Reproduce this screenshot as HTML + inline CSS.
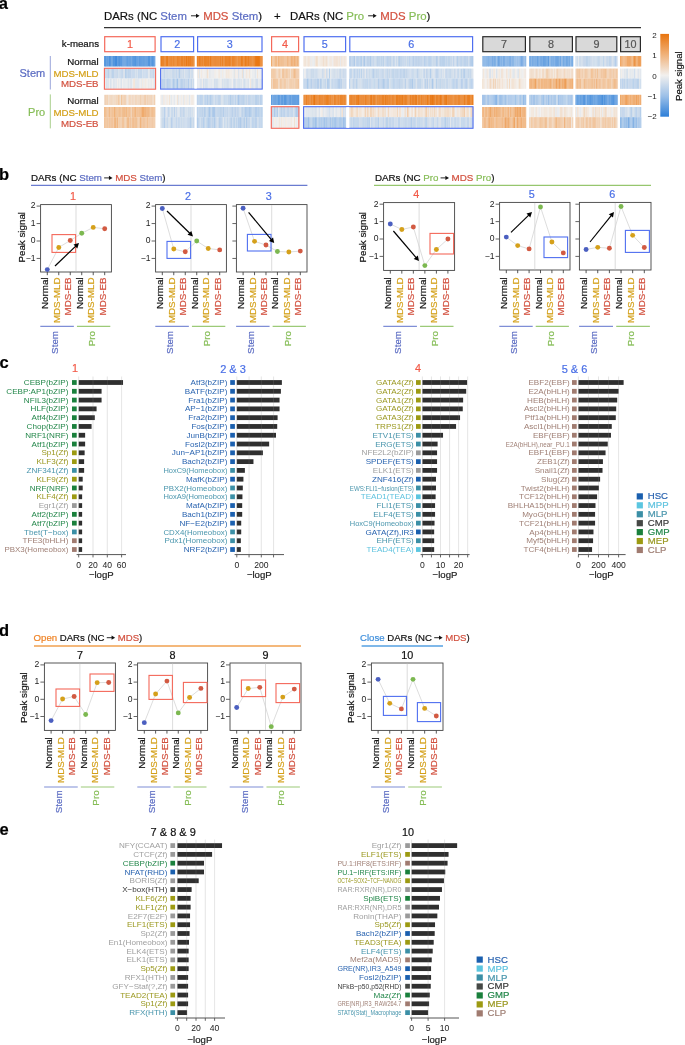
<!DOCTYPE html><html><head><meta charset="utf-8"><title>Figure</title><style>html,body{margin:0;padding:0;background:#fff;}body{width:685px;height:1045px;overflow:hidden;}svg{display:block;will-change:transform;}text{font-family:"Liberation Sans",sans-serif;}</style></head><body><svg width="685" height="1045" viewBox="0 0 685 1045" font-family="'Liberation Sans', sans-serif" shape-rendering="auto"><text x="-1.20" y="8.80" font-size="16.5" font-weight="bold" fill="#000" stroke="#000" stroke-width="0.2">a</text>
<text x="104.00" y="19.60" font-size="11.4"><tspan fill="#111" stroke="#111" stroke-width="0.2">DARs (NC </tspan><tspan fill="#5a6bc2" stroke="#5a6bc2" stroke-width="0.2">Stem</tspan></text>
<line x1="190.97" y1="15.80" x2="196.37" y2="15.80" stroke="#111" stroke-width="0.9"/>
<polygon points="199.57,15.80 195.97,13.70 195.97,17.90" fill="#111"/>
<text x="203.17" y="19.60" font-size="11.4"><tspan fill="#d2503e" stroke="#d2503e" stroke-width="0.2">MDS </tspan><tspan fill="#5a6bc2" stroke="#5a6bc2" stroke-width="0.2">Stem</tspan><tspan fill="#111" stroke="#111" stroke-width="0.2">)</tspan></text>
<text x="290.00" y="19.60" font-size="11.4"><tspan fill="#111" stroke="#111" stroke-width="0.2">DARs (NC </tspan><tspan fill="#86bd57" stroke="#86bd57" stroke-width="0.2">Pro</tspan></text>
<line x1="368.11" y1="15.80" x2="373.51" y2="15.80" stroke="#111" stroke-width="0.9"/>
<polygon points="376.71,15.80 373.11,13.70 373.11,17.90" fill="#111"/>
<text x="380.31" y="19.60" font-size="11.4"><tspan fill="#d2503e" stroke="#d2503e" stroke-width="0.2">MDS </tspan><tspan fill="#86bd57" stroke="#86bd57" stroke-width="0.2">Pro</tspan><tspan fill="#111" stroke="#111" stroke-width="0.2">)</tspan></text>
<text x="274.00" y="19.60" font-size="11.4" fill="#111" stroke="#111" stroke-width="0.2">+</text>
<line x1="104.00" y1="27.60" x2="641.00" y2="27.60" stroke="#333" stroke-width="1.1"/>
<text x="99.00" y="46.60" font-size="9.7" text-anchor="end" fill="#111" stroke="#111" stroke-width="0.2">k-means</text>
<rect x="104.70" y="36.70" width="50.40" height="15.00" fill="none" stroke="#f4685a" stroke-width="1.2"/>
<text x="129.90" y="48.20" font-size="10.8" text-anchor="middle" fill="#f25a48" stroke="#f25a48" stroke-width="0.2">1</text>
<rect x="161.00" y="36.70" width="32.60" height="15.00" fill="none" stroke="#4f6ff0" stroke-width="1.2"/>
<text x="177.30" y="48.20" font-size="10.8" text-anchor="middle" fill="#4a6fe6" stroke="#4a6fe6" stroke-width="0.2">2</text>
<rect x="197.60" y="36.70" width="64.40" height="15.00" fill="none" stroke="#4f6ff0" stroke-width="1.2"/>
<text x="229.80" y="48.20" font-size="10.8" text-anchor="middle" fill="#4a6fe6" stroke="#4a6fe6" stroke-width="0.2">3</text>
<rect x="271.60" y="36.70" width="27.00" height="15.00" fill="none" stroke="#f4685a" stroke-width="1.2"/>
<text x="285.10" y="48.20" font-size="10.8" text-anchor="middle" fill="#f25a48" stroke="#f25a48" stroke-width="0.2">4</text>
<rect x="304.00" y="36.70" width="41.60" height="15.00" fill="none" stroke="#4f6ff0" stroke-width="1.2"/>
<text x="324.80" y="48.20" font-size="10.8" text-anchor="middle" fill="#4a6fe6" stroke="#4a6fe6" stroke-width="0.2">5</text>
<rect x="349.80" y="36.70" width="122.80" height="15.00" fill="none" stroke="#4f6ff0" stroke-width="1.2"/>
<text x="411.20" y="48.20" font-size="10.8" text-anchor="middle" fill="#4a6fe6" stroke="#4a6fe6" stroke-width="0.2">6</text>
<rect x="482.80" y="36.70" width="42.60" height="15.00" fill="#d9d9d9" stroke="#2a2a2a" stroke-width="1.2"/>
<text x="504.10" y="48.20" font-size="10.8" text-anchor="middle" fill="#555" stroke="#555" stroke-width="0.2">7</text>
<rect x="529.80" y="36.70" width="42.60" height="15.00" fill="#d9d9d9" stroke="#2a2a2a" stroke-width="1.2"/>
<text x="551.10" y="48.20" font-size="10.8" text-anchor="middle" fill="#555" stroke="#555" stroke-width="0.2">8</text>
<rect x="576.00" y="36.70" width="40.80" height="15.00" fill="#d9d9d9" stroke="#2a2a2a" stroke-width="1.2"/>
<text x="596.40" y="48.20" font-size="10.8" text-anchor="middle" fill="#555" stroke="#555" stroke-width="0.2">9</text>
<rect x="620.60" y="36.70" width="19.80" height="15.00" fill="#d9d9d9" stroke="#2a2a2a" stroke-width="1.2"/>
<text x="630.50" y="48.20" font-size="10.8" text-anchor="middle" fill="#555" stroke="#555" stroke-width="0.2">10</text>
<rect x="104.00" y="56" width="1.25" height="10.50" fill="#5d9bdf"/>
<rect x="105.00" y="56" width="0.95" height="10.50" fill="#5295dd"/>
<rect x="105.70" y="56" width="0.95" height="10.50" fill="#5797de"/>
<rect x="106.40" y="56" width="1.45" height="10.50" fill="#5194dd"/>
<rect x="107.60" y="56" width="0.95" height="10.50" fill="#5a99df"/>
<rect x="108.30" y="56" width="0.95" height="10.50" fill="#5294dd"/>
<rect x="109.00" y="56" width="1.25" height="10.50" fill="#4f93dd"/>
<rect x="110.00" y="56" width="1.45" height="10.50" fill="#5898de"/>
<rect x="111.20" y="56" width="1.25" height="10.50" fill="#609ddf"/>
<rect x="112.20" y="56" width="1.15" height="10.50" fill="#5999de"/>
<rect x="113.10" y="56" width="1.75" height="10.50" fill="#468edc"/>
<rect x="114.60" y="56" width="1.45" height="10.50" fill="#458ddc"/>
<rect x="115.80" y="56" width="1.45" height="10.50" fill="#428bdb"/>
<rect x="117.00" y="56" width="0.95" height="10.50" fill="#649fe0"/>
<rect x="117.70" y="56" width="1.45" height="10.50" fill="#5a99de"/>
<rect x="118.90" y="56" width="1.15" height="10.50" fill="#4f93dd"/>
<rect x="119.80" y="56" width="1.45" height="10.50" fill="#5b9adf"/>
<rect x="121.00" y="56" width="1.75" height="10.50" fill="#5a99df"/>
<rect x="122.50" y="56" width="1.15" height="10.50" fill="#5e9cdf"/>
<rect x="123.40" y="56" width="1.15" height="10.50" fill="#5c9adf"/>
<rect x="124.30" y="56" width="1.25" height="10.50" fill="#609ddf"/>
<rect x="125.30" y="56" width="1.45" height="10.50" fill="#5d9bdf"/>
<rect x="126.50" y="56" width="0.95" height="10.50" fill="#4d92dd"/>
<rect x="127.20" y="56" width="1.45" height="10.50" fill="#4e92dd"/>
<rect x="128.40" y="56" width="1.25" height="10.50" fill="#5797de"/>
<rect x="129.40" y="56" width="1.25" height="10.50" fill="#4b91dc"/>
<rect x="130.40" y="56" width="1.25" height="10.50" fill="#5094dd"/>
<rect x="131.40" y="56" width="1.75" height="10.50" fill="#649fe0"/>
<rect x="132.90" y="56" width="1.15" height="10.50" fill="#5b9adf"/>
<rect x="133.80" y="56" width="1.25" height="10.50" fill="#5999de"/>
<rect x="134.80" y="56" width="1.25" height="10.50" fill="#5496de"/>
<rect x="135.80" y="56" width="0.95" height="10.50" fill="#4e92dd"/>
<rect x="136.50" y="56" width="0.95" height="10.50" fill="#5093dd"/>
<rect x="137.20" y="56" width="1.25" height="10.50" fill="#5596de"/>
<rect x="138.20" y="56" width="1.15" height="10.50" fill="#5d9bdf"/>
<rect x="139.10" y="56" width="1.75" height="10.50" fill="#5194dd"/>
<rect x="140.60" y="56" width="0.95" height="10.50" fill="#5697de"/>
<rect x="141.30" y="56" width="1.25" height="10.50" fill="#4990dc"/>
<rect x="142.30" y="56" width="1.25" height="10.50" fill="#5194dd"/>
<rect x="143.30" y="56" width="1.45" height="10.50" fill="#4a90dc"/>
<rect x="144.50" y="56" width="1.25" height="10.50" fill="#5998de"/>
<rect x="145.50" y="56" width="1.25" height="10.50" fill="#5797de"/>
<rect x="146.50" y="56" width="1.25" height="10.50" fill="#5496de"/>
<rect x="147.50" y="56" width="1.75" height="10.50" fill="#5295dd"/>
<rect x="149.00" y="56" width="1.75" height="10.50" fill="#5194dd"/>
<rect x="150.50" y="56" width="1.75" height="10.50" fill="#609ddf"/>
<rect x="152.00" y="56" width="1.25" height="10.50" fill="#5395dd"/>
<rect x="153.00" y="56" width="1.75" height="10.50" fill="#5e9bdf"/>
<rect x="154.50" y="56" width="0.85" height="10.50" fill="#5f9cdf"/>
<rect x="104.00" y="68.6" width="1.15" height="10.00" fill="#c9d9eb"/>
<rect x="104.90" y="68.6" width="1.45" height="10.00" fill="#cadaeb"/>
<rect x="106.10" y="68.6" width="1.25" height="10.00" fill="#cadaeb"/>
<rect x="107.10" y="68.6" width="1.15" height="10.00" fill="#c6d8eb"/>
<rect x="108.00" y="68.6" width="1.25" height="10.00" fill="#bbd1ea"/>
<rect x="109.00" y="68.6" width="0.95" height="10.00" fill="#cddbeb"/>
<rect x="109.70" y="68.6" width="1.25" height="10.00" fill="#d2deec"/>
<rect x="110.70" y="68.6" width="1.15" height="10.00" fill="#d1deec"/>
<rect x="111.60" y="68.6" width="1.25" height="10.00" fill="#b1cce9"/>
<rect x="112.60" y="68.6" width="1.75" height="10.00" fill="#bdd3ea"/>
<rect x="114.10" y="68.6" width="1.25" height="10.00" fill="#cddbeb"/>
<rect x="115.10" y="68.6" width="1.15" height="10.00" fill="#cbdaeb"/>
<rect x="116.00" y="68.6" width="1.15" height="10.00" fill="#cddbeb"/>
<rect x="116.90" y="68.6" width="1.75" height="10.00" fill="#c8d9eb"/>
<rect x="118.40" y="68.6" width="1.45" height="10.00" fill="#d5e0ec"/>
<rect x="119.60" y="68.6" width="1.15" height="10.00" fill="#c7d8eb"/>
<rect x="120.50" y="68.6" width="1.25" height="10.00" fill="#c8d9eb"/>
<rect x="121.50" y="68.6" width="1.45" height="10.00" fill="#bcd2ea"/>
<rect x="122.70" y="68.6" width="1.15" height="10.00" fill="#d2deec"/>
<rect x="123.60" y="68.6" width="1.75" height="10.00" fill="#dae2ec"/>
<rect x="125.10" y="68.6" width="1.75" height="10.00" fill="#b0cbe9"/>
<rect x="126.60" y="68.6" width="1.75" height="10.00" fill="#c6d8eb"/>
<rect x="128.10" y="68.6" width="1.75" height="10.00" fill="#bad1ea"/>
<rect x="129.60" y="68.6" width="1.45" height="10.00" fill="#bed3ea"/>
<rect x="130.80" y="68.6" width="0.95" height="10.00" fill="#cfdcec"/>
<rect x="131.50" y="68.6" width="1.25" height="10.00" fill="#c4d6eb"/>
<rect x="132.50" y="68.6" width="0.95" height="10.00" fill="#c4d6eb"/>
<rect x="133.20" y="68.6" width="1.15" height="10.00" fill="#c2d5eb"/>
<rect x="134.10" y="68.6" width="1.45" height="10.00" fill="#c9d9eb"/>
<rect x="135.30" y="68.6" width="0.95" height="10.00" fill="#d3dfec"/>
<rect x="136.00" y="68.6" width="1.45" height="10.00" fill="#d0ddec"/>
<rect x="137.20" y="68.6" width="0.95" height="10.00" fill="#d7e1ec"/>
<rect x="137.90" y="68.6" width="0.95" height="10.00" fill="#c2d5eb"/>
<rect x="138.60" y="68.6" width="1.15" height="10.00" fill="#c2d5eb"/>
<rect x="139.50" y="68.6" width="1.25" height="10.00" fill="#c3d5eb"/>
<rect x="140.50" y="68.6" width="1.25" height="10.00" fill="#bcd2ea"/>
<rect x="141.50" y="68.6" width="0.95" height="10.00" fill="#bfd3ea"/>
<rect x="142.20" y="68.6" width="1.25" height="10.00" fill="#d4e0ec"/>
<rect x="143.20" y="68.6" width="1.25" height="10.00" fill="#c6d8eb"/>
<rect x="144.20" y="68.6" width="1.25" height="10.00" fill="#ccdbeb"/>
<rect x="145.20" y="68.6" width="1.25" height="10.00" fill="#cadaeb"/>
<rect x="146.20" y="68.6" width="1.75" height="10.00" fill="#c5d7eb"/>
<rect x="147.70" y="68.6" width="1.15" height="10.00" fill="#dee5ed"/>
<rect x="148.60" y="68.6" width="1.45" height="10.00" fill="#e4e8ed"/>
<rect x="149.80" y="68.6" width="1.45" height="10.00" fill="#cbdaeb"/>
<rect x="151.00" y="68.6" width="1.25" height="10.00" fill="#d0ddec"/>
<rect x="152.00" y="68.6" width="0.95" height="10.00" fill="#d3dfec"/>
<rect x="152.70" y="68.6" width="1.45" height="10.00" fill="#c2d5eb"/>
<rect x="153.90" y="68.6" width="0.95" height="10.00" fill="#d7e1ec"/>
<rect x="154.60" y="68.6" width="0.75" height="10.00" fill="#cfddec"/>
<rect x="104.00" y="78.6" width="1.15" height="10.20" fill="#dde4ed"/>
<rect x="104.90" y="78.6" width="1.25" height="10.20" fill="#ebecee"/>
<rect x="105.90" y="78.6" width="1.45" height="10.20" fill="#dbe3ec"/>
<rect x="107.10" y="78.6" width="1.25" height="10.20" fill="#dfe5ed"/>
<rect x="108.10" y="78.6" width="1.15" height="10.20" fill="#dde4ed"/>
<rect x="109.00" y="78.6" width="1.15" height="10.20" fill="#f2f0ee"/>
<rect x="109.90" y="78.6" width="1.15" height="10.20" fill="#d7e1ec"/>
<rect x="110.80" y="78.6" width="1.15" height="10.20" fill="#dee5ed"/>
<rect x="111.70" y="78.6" width="0.95" height="10.20" fill="#e8ebed"/>
<rect x="112.40" y="78.6" width="0.95" height="10.20" fill="#ededee"/>
<rect x="113.10" y="78.6" width="1.15" height="10.20" fill="#dce4ec"/>
<rect x="114.00" y="78.6" width="1.75" height="10.20" fill="#e1e6ed"/>
<rect x="115.50" y="78.6" width="1.75" height="10.20" fill="#e3e7ed"/>
<rect x="117.00" y="78.6" width="1.25" height="10.20" fill="#f2eeeb"/>
<rect x="118.00" y="78.6" width="1.15" height="10.20" fill="#e6e9ed"/>
<rect x="118.90" y="78.6" width="0.95" height="10.20" fill="#ebeced"/>
<rect x="119.60" y="78.6" width="1.15" height="10.20" fill="#f1f0ee"/>
<rect x="120.50" y="78.6" width="1.25" height="10.20" fill="#d7e1ec"/>
<rect x="121.50" y="78.6" width="0.95" height="10.20" fill="#d7e1ec"/>
<rect x="122.20" y="78.6" width="1.25" height="10.20" fill="#f2efed"/>
<rect x="123.20" y="78.6" width="1.75" height="10.20" fill="#e3e8ed"/>
<rect x="124.70" y="78.6" width="0.95" height="10.20" fill="#ecedee"/>
<rect x="125.40" y="78.6" width="1.25" height="10.20" fill="#e4e8ed"/>
<rect x="126.40" y="78.6" width="1.75" height="10.20" fill="#e9ebed"/>
<rect x="127.90" y="78.6" width="1.15" height="10.20" fill="#dce4ec"/>
<rect x="128.80" y="78.6" width="1.25" height="10.20" fill="#ecedee"/>
<rect x="129.80" y="78.6" width="1.75" height="10.20" fill="#dfe5ed"/>
<rect x="131.30" y="78.6" width="1.25" height="10.20" fill="#d6e0ec"/>
<rect x="132.30" y="78.6" width="0.95" height="10.20" fill="#eeeeee"/>
<rect x="133.00" y="78.6" width="1.75" height="10.20" fill="#f2e7de"/>
<rect x="134.50" y="78.6" width="0.95" height="10.20" fill="#f1dfcf"/>
<rect x="135.20" y="78.6" width="1.15" height="10.20" fill="#dee5ed"/>
<rect x="136.10" y="78.6" width="1.75" height="10.20" fill="#e2e7ed"/>
<rect x="137.60" y="78.6" width="1.15" height="10.20" fill="#dde4ed"/>
<rect x="138.50" y="78.6" width="1.25" height="10.20" fill="#dfe5ed"/>
<rect x="139.50" y="78.6" width="1.75" height="10.20" fill="#f0efee"/>
<rect x="141.00" y="78.6" width="1.45" height="10.20" fill="#e7eaed"/>
<rect x="142.20" y="78.6" width="1.15" height="10.20" fill="#f2e7dd"/>
<rect x="143.10" y="78.6" width="1.75" height="10.20" fill="#ecedee"/>
<rect x="144.60" y="78.6" width="1.75" height="10.20" fill="#f2ebe4"/>
<rect x="146.10" y="78.6" width="1.15" height="10.20" fill="#f2eee9"/>
<rect x="147.00" y="78.6" width="1.25" height="10.20" fill="#f1f0ee"/>
<rect x="148.00" y="78.6" width="1.15" height="10.20" fill="#e9ebed"/>
<rect x="148.90" y="78.6" width="0.95" height="10.20" fill="#e9ebed"/>
<rect x="149.60" y="78.6" width="1.15" height="10.20" fill="#f2efec"/>
<rect x="150.50" y="78.6" width="1.45" height="10.20" fill="#e2e7ed"/>
<rect x="151.70" y="78.6" width="1.15" height="10.20" fill="#f2ede8"/>
<rect x="152.60" y="78.6" width="0.95" height="10.20" fill="#f2efed"/>
<rect x="153.30" y="78.6" width="1.25" height="10.20" fill="#e3e8ed"/>
<rect x="154.30" y="78.6" width="1.05" height="10.20" fill="#d3dfec"/>
<rect x="104.00" y="94.8" width="1.25" height="10.20" fill="#f1decd"/>
<rect x="105.00" y="94.8" width="1.45" height="10.20" fill="#f1d1b5"/>
<rect x="106.20" y="94.8" width="1.45" height="10.20" fill="#f1d1b4"/>
<rect x="107.40" y="94.8" width="0.95" height="10.20" fill="#f1caa7"/>
<rect x="108.10" y="94.8" width="1.45" height="10.20" fill="#f1dfcf"/>
<rect x="109.30" y="94.8" width="0.95" height="10.20" fill="#f1d4b9"/>
<rect x="110.00" y="94.8" width="1.15" height="10.20" fill="#f1dac4"/>
<rect x="110.90" y="94.8" width="1.25" height="10.20" fill="#f1d8c1"/>
<rect x="111.90" y="94.8" width="0.95" height="10.20" fill="#f1d8c1"/>
<rect x="112.60" y="94.8" width="1.25" height="10.20" fill="#f1d9c3"/>
<rect x="113.60" y="94.8" width="1.25" height="10.20" fill="#f1decd"/>
<rect x="114.60" y="94.8" width="0.95" height="10.20" fill="#f1d3b7"/>
<rect x="115.30" y="94.8" width="1.15" height="10.20" fill="#f1d7bf"/>
<rect x="116.20" y="94.8" width="1.25" height="10.20" fill="#f1d1b4"/>
<rect x="117.20" y="94.8" width="1.25" height="10.20" fill="#f1d4b9"/>
<rect x="118.20" y="94.8" width="1.45" height="10.20" fill="#f1c399"/>
<rect x="119.40" y="94.8" width="0.95" height="10.20" fill="#f1d2b5"/>
<rect x="120.10" y="94.8" width="1.25" height="10.20" fill="#f1dfcf"/>
<rect x="121.10" y="94.8" width="1.45" height="10.20" fill="#f0c094"/>
<rect x="122.30" y="94.8" width="1.45" height="10.20" fill="#f1d3b7"/>
<rect x="123.50" y="94.8" width="1.45" height="10.20" fill="#f1ceaf"/>
<rect x="124.70" y="94.8" width="1.45" height="10.20" fill="#f1d1b4"/>
<rect x="125.90" y="94.8" width="1.15" height="10.20" fill="#f1decd"/>
<rect x="126.80" y="94.8" width="1.75" height="10.20" fill="#f2e6dc"/>
<rect x="128.30" y="94.8" width="1.25" height="10.20" fill="#f1d7c0"/>
<rect x="129.30" y="94.8" width="1.45" height="10.20" fill="#f1d0b2"/>
<rect x="130.50" y="94.8" width="1.25" height="10.20" fill="#f1d8c2"/>
<rect x="131.50" y="94.8" width="1.15" height="10.20" fill="#f1dcc9"/>
<rect x="132.40" y="94.8" width="1.25" height="10.20" fill="#f1d0b3"/>
<rect x="133.40" y="94.8" width="0.95" height="10.20" fill="#f1d9c3"/>
<rect x="134.10" y="94.8" width="1.15" height="10.20" fill="#f1ddca"/>
<rect x="135.00" y="94.8" width="1.75" height="10.20" fill="#f1d6be"/>
<rect x="136.50" y="94.8" width="1.15" height="10.20" fill="#f1d1b3"/>
<rect x="137.40" y="94.8" width="1.75" height="10.20" fill="#f1dac5"/>
<rect x="138.90" y="94.8" width="1.25" height="10.20" fill="#f1dbc7"/>
<rect x="139.90" y="94.8" width="1.15" height="10.20" fill="#f1cfb0"/>
<rect x="140.80" y="94.8" width="0.95" height="10.20" fill="#f1d6bd"/>
<rect x="141.50" y="94.8" width="1.25" height="10.20" fill="#f1d1b4"/>
<rect x="142.50" y="94.8" width="1.75" height="10.20" fill="#f1d8c1"/>
<rect x="144.00" y="94.8" width="1.15" height="10.20" fill="#f1d0b2"/>
<rect x="144.90" y="94.8" width="1.45" height="10.20" fill="#f1cdac"/>
<rect x="146.10" y="94.8" width="1.25" height="10.20" fill="#f1d8c1"/>
<rect x="147.10" y="94.8" width="1.25" height="10.20" fill="#f1d0b2"/>
<rect x="148.10" y="94.8" width="0.95" height="10.20" fill="#f1d5bc"/>
<rect x="148.80" y="94.8" width="1.45" height="10.20" fill="#f1d6be"/>
<rect x="150.00" y="94.8" width="1.25" height="10.20" fill="#f1d6be"/>
<rect x="151.00" y="94.8" width="1.25" height="10.20" fill="#f1d4ba"/>
<rect x="152.00" y="94.8" width="1.45" height="10.20" fill="#f1dcc9"/>
<rect x="153.20" y="94.8" width="0.95" height="10.20" fill="#f1dcc9"/>
<rect x="153.90" y="94.8" width="0.95" height="10.20" fill="#f1c59e"/>
<rect x="154.60" y="94.8" width="0.75" height="10.20" fill="#f1d6be"/>
<rect x="104.00" y="107" width="0.95" height="10.20" fill="#f0bc8c"/>
<rect x="104.70" y="107" width="1.15" height="10.20" fill="#f0b987"/>
<rect x="105.60" y="107" width="1.25" height="10.20" fill="#f0bb8a"/>
<rect x="106.60" y="107" width="1.75" height="10.20" fill="#f1cba9"/>
<rect x="108.10" y="107" width="1.25" height="10.20" fill="#f1c49c"/>
<rect x="109.10" y="107" width="1.45" height="10.20" fill="#f0b580"/>
<rect x="110.30" y="107" width="1.45" height="10.20" fill="#f1c39a"/>
<rect x="111.50" y="107" width="1.25" height="10.20" fill="#f0bb8b"/>
<rect x="112.50" y="107" width="0.95" height="10.20" fill="#f0ba88"/>
<rect x="113.20" y="107" width="0.95" height="10.20" fill="#f0c195"/>
<rect x="113.90" y="107" width="1.25" height="10.20" fill="#f0b076"/>
<rect x="114.90" y="107" width="1.25" height="10.20" fill="#f0c094"/>
<rect x="115.90" y="107" width="0.95" height="10.20" fill="#f0c094"/>
<rect x="116.60" y="107" width="1.25" height="10.20" fill="#f0bf93"/>
<rect x="117.60" y="107" width="0.95" height="10.20" fill="#f1c39a"/>
<rect x="118.30" y="107" width="1.45" height="10.20" fill="#f0b987"/>
<rect x="119.50" y="107" width="1.25" height="10.20" fill="#f0b580"/>
<rect x="120.50" y="107" width="1.15" height="10.20" fill="#f0be91"/>
<rect x="121.40" y="107" width="0.95" height="10.20" fill="#f1c297"/>
<rect x="122.10" y="107" width="0.95" height="10.20" fill="#f0bc8d"/>
<rect x="122.80" y="107" width="1.15" height="10.20" fill="#f0bc8c"/>
<rect x="123.70" y="107" width="1.25" height="10.20" fill="#f0b681"/>
<rect x="124.70" y="107" width="1.75" height="10.20" fill="#f0c095"/>
<rect x="126.20" y="107" width="1.25" height="10.20" fill="#efae72"/>
<rect x="127.20" y="107" width="1.25" height="10.20" fill="#f0c196"/>
<rect x="128.20" y="107" width="1.25" height="10.20" fill="#f0bb8b"/>
<rect x="129.20" y="107" width="0.95" height="10.20" fill="#f0b987"/>
<rect x="129.90" y="107" width="0.95" height="10.20" fill="#f0bb8c"/>
<rect x="130.60" y="107" width="1.75" height="10.20" fill="#f1d3b8"/>
<rect x="132.10" y="107" width="1.45" height="10.20" fill="#f0bc8d"/>
<rect x="133.30" y="107" width="1.25" height="10.20" fill="#f0bb8b"/>
<rect x="134.30" y="107" width="1.75" height="10.20" fill="#f0b27a"/>
<rect x="135.80" y="107" width="1.75" height="10.20" fill="#f1c59d"/>
<rect x="137.30" y="107" width="1.25" height="10.20" fill="#f0b784"/>
<rect x="138.30" y="107" width="1.45" height="10.20" fill="#f0bd8f"/>
<rect x="139.50" y="107" width="1.15" height="10.20" fill="#f0b681"/>
<rect x="140.40" y="107" width="1.25" height="10.20" fill="#f0b681"/>
<rect x="141.40" y="107" width="1.75" height="10.20" fill="#efaa6d"/>
<rect x="142.90" y="107" width="1.75" height="10.20" fill="#efab6d"/>
<rect x="144.40" y="107" width="0.95" height="10.20" fill="#efa767"/>
<rect x="145.10" y="107" width="1.15" height="10.20" fill="#f0af75"/>
<rect x="146.00" y="107" width="1.25" height="10.20" fill="#f0ba89"/>
<rect x="147.00" y="107" width="1.25" height="10.20" fill="#f0b988"/>
<rect x="148.00" y="107" width="1.25" height="10.20" fill="#f0b886"/>
<rect x="149.00" y="107" width="1.45" height="10.20" fill="#f0bf92"/>
<rect x="150.20" y="107" width="1.15" height="10.20" fill="#f1c297"/>
<rect x="151.10" y="107" width="1.75" height="10.20" fill="#f0be90"/>
<rect x="152.60" y="107" width="1.15" height="10.20" fill="#f0b27a"/>
<rect x="153.50" y="107" width="1.25" height="10.20" fill="#f1c297"/>
<rect x="154.50" y="107" width="0.85" height="10.20" fill="#f0b987"/>
<rect x="104.00" y="117.2" width="1.45" height="10.80" fill="#f1c49c"/>
<rect x="105.20" y="117.2" width="1.25" height="10.80" fill="#f0c197"/>
<rect x="106.20" y="117.2" width="1.15" height="10.80" fill="#f1c49b"/>
<rect x="107.10" y="117.2" width="1.25" height="10.80" fill="#f1c39a"/>
<rect x="108.10" y="117.2" width="0.95" height="10.80" fill="#f1cdad"/>
<rect x="108.80" y="117.2" width="1.15" height="10.80" fill="#f1c297"/>
<rect x="109.70" y="117.2" width="1.15" height="10.80" fill="#f1c49c"/>
<rect x="110.60" y="117.2" width="1.25" height="10.80" fill="#f1c39b"/>
<rect x="111.60" y="117.2" width="0.95" height="10.80" fill="#f0bc8d"/>
<rect x="112.30" y="117.2" width="1.25" height="10.80" fill="#f0ba8a"/>
<rect x="113.30" y="117.2" width="0.95" height="10.80" fill="#f1c7a2"/>
<rect x="114.00" y="117.2" width="0.95" height="10.80" fill="#f0b885"/>
<rect x="114.70" y="117.2" width="1.45" height="10.80" fill="#f0b37c"/>
<rect x="115.90" y="117.2" width="1.15" height="10.80" fill="#f1c8a3"/>
<rect x="116.80" y="117.2" width="1.75" height="10.80" fill="#f0b784"/>
<rect x="118.30" y="117.2" width="1.45" height="10.80" fill="#f1cdac"/>
<rect x="119.50" y="117.2" width="1.25" height="10.80" fill="#f1c298"/>
<rect x="120.50" y="117.2" width="1.25" height="10.80" fill="#f1d1b4"/>
<rect x="121.50" y="117.2" width="1.15" height="10.80" fill="#f1c69f"/>
<rect x="122.40" y="117.2" width="1.15" height="10.80" fill="#f0b884"/>
<rect x="123.30" y="117.2" width="0.95" height="10.80" fill="#f0bd8f"/>
<rect x="124.00" y="117.2" width="1.45" height="10.80" fill="#f1d0b1"/>
<rect x="125.20" y="117.2" width="1.75" height="10.80" fill="#f1d0b1"/>
<rect x="126.70" y="117.2" width="1.45" height="10.80" fill="#f0be90"/>
<rect x="127.90" y="117.2" width="1.15" height="10.80" fill="#f0b784"/>
<rect x="128.80" y="117.2" width="1.45" height="10.80" fill="#f1cba9"/>
<rect x="130.00" y="117.2" width="0.95" height="10.80" fill="#f0be91"/>
<rect x="130.70" y="117.2" width="1.75" height="10.80" fill="#f1ceae"/>
<rect x="132.20" y="117.2" width="1.75" height="10.80" fill="#f0b784"/>
<rect x="133.70" y="117.2" width="0.95" height="10.80" fill="#f1c7a1"/>
<rect x="134.40" y="117.2" width="0.95" height="10.80" fill="#f0b784"/>
<rect x="135.10" y="117.2" width="0.95" height="10.80" fill="#f0c094"/>
<rect x="135.80" y="117.2" width="1.25" height="10.80" fill="#f0be90"/>
<rect x="136.80" y="117.2" width="1.75" height="10.80" fill="#f1cdac"/>
<rect x="138.30" y="117.2" width="0.95" height="10.80" fill="#f1cdac"/>
<rect x="139.00" y="117.2" width="1.25" height="10.80" fill="#f1cdac"/>
<rect x="140.00" y="117.2" width="1.25" height="10.80" fill="#f0b47d"/>
<rect x="141.00" y="117.2" width="1.75" height="10.80" fill="#f1c39a"/>
<rect x="142.50" y="117.2" width="1.45" height="10.80" fill="#f0c095"/>
<rect x="143.70" y="117.2" width="1.45" height="10.80" fill="#f1c69f"/>
<rect x="144.90" y="117.2" width="0.95" height="10.80" fill="#f1c49b"/>
<rect x="145.60" y="117.2" width="0.95" height="10.80" fill="#f1cdad"/>
<rect x="146.30" y="117.2" width="1.25" height="10.80" fill="#f1c298"/>
<rect x="147.30" y="117.2" width="1.15" height="10.80" fill="#f0b57f"/>
<rect x="148.20" y="117.2" width="1.75" height="10.80" fill="#f1c9a5"/>
<rect x="149.70" y="117.2" width="1.25" height="10.80" fill="#f1cba9"/>
<rect x="150.70" y="117.2" width="0.95" height="10.80" fill="#f1d0b3"/>
<rect x="151.40" y="117.2" width="0.95" height="10.80" fill="#f1c297"/>
<rect x="152.10" y="117.2" width="1.45" height="10.80" fill="#f1c7a2"/>
<rect x="153.30" y="117.2" width="1.45" height="10.80" fill="#f1c8a2"/>
<rect x="154.50" y="117.2" width="0.85" height="10.80" fill="#f1caa6"/>
<rect x="160.40" y="56" width="1.75" height="10.50" fill="#e97c1c"/>
<rect x="161.90" y="56" width="1.25" height="10.50" fill="#ea842b"/>
<rect x="162.90" y="56" width="1.25" height="10.50" fill="#ea842a"/>
<rect x="163.90" y="56" width="0.95" height="10.50" fill="#ec903e"/>
<rect x="164.60" y="56" width="0.95" height="10.50" fill="#ea8125"/>
<rect x="165.30" y="56" width="1.75" height="10.50" fill="#ea8125"/>
<rect x="166.80" y="56" width="1.75" height="10.50" fill="#e97d1d"/>
<rect x="168.30" y="56" width="1.45" height="10.50" fill="#ea8429"/>
<rect x="169.50" y="56" width="0.95" height="10.50" fill="#e97d1e"/>
<rect x="170.20" y="56" width="1.45" height="10.50" fill="#e97e20"/>
<rect x="171.40" y="56" width="1.25" height="10.50" fill="#e87510"/>
<rect x="172.40" y="56" width="0.95" height="10.50" fill="#ea8328"/>
<rect x="173.10" y="56" width="1.45" height="10.50" fill="#ea8124"/>
<rect x="174.30" y="56" width="1.25" height="10.50" fill="#e97e1f"/>
<rect x="175.30" y="56" width="1.15" height="10.50" fill="#ea8327"/>
<rect x="176.20" y="56" width="0.95" height="10.50" fill="#ea852b"/>
<rect x="176.90" y="56" width="1.45" height="10.50" fill="#ea842a"/>
<rect x="178.10" y="56" width="1.25" height="10.50" fill="#ea8023"/>
<rect x="179.10" y="56" width="1.75" height="10.50" fill="#ea8329"/>
<rect x="180.60" y="56" width="1.45" height="10.50" fill="#ea8328"/>
<rect x="181.80" y="56" width="1.25" height="10.50" fill="#ea8023"/>
<rect x="182.80" y="56" width="1.15" height="10.50" fill="#eb8d39"/>
<rect x="183.70" y="56" width="1.25" height="10.50" fill="#ea8227"/>
<rect x="184.70" y="56" width="0.95" height="10.50" fill="#e97c1c"/>
<rect x="185.40" y="56" width="1.75" height="10.50" fill="#e97815"/>
<rect x="186.90" y="56" width="1.25" height="10.50" fill="#eb8933"/>
<rect x="187.90" y="56" width="1.25" height="10.50" fill="#e97e1f"/>
<rect x="188.90" y="56" width="1.25" height="10.50" fill="#ea842a"/>
<rect x="189.90" y="56" width="1.25" height="10.50" fill="#ea8124"/>
<rect x="190.90" y="56" width="0.95" height="10.50" fill="#ea842b"/>
<rect x="191.60" y="56" width="1.25" height="10.50" fill="#e97e20"/>
<rect x="192.60" y="56" width="0.95" height="10.50" fill="#e97f22"/>
<rect x="193.30" y="56" width="0.95" height="10.50" fill="#ea8429"/>
<rect x="194.00" y="56" width="0.45" height="10.50" fill="#ea8429"/>
<rect x="160.40" y="68.6" width="1.25" height="10.00" fill="#d6e0ec"/>
<rect x="161.40" y="68.6" width="1.25" height="10.00" fill="#dae3ec"/>
<rect x="162.40" y="68.6" width="1.25" height="10.00" fill="#cadaeb"/>
<rect x="163.40" y="68.6" width="1.25" height="10.00" fill="#cbdaeb"/>
<rect x="164.40" y="68.6" width="1.25" height="10.00" fill="#b3cdea"/>
<rect x="165.40" y="68.6" width="0.95" height="10.00" fill="#dbe3ec"/>
<rect x="166.10" y="68.6" width="1.75" height="10.00" fill="#d0ddec"/>
<rect x="167.60" y="68.6" width="1.15" height="10.00" fill="#cadaeb"/>
<rect x="168.50" y="68.6" width="1.45" height="10.00" fill="#d4dfec"/>
<rect x="169.70" y="68.6" width="1.25" height="10.00" fill="#cfdcec"/>
<rect x="170.70" y="68.6" width="1.25" height="10.00" fill="#d5e0ec"/>
<rect x="171.70" y="68.6" width="0.95" height="10.00" fill="#d1deec"/>
<rect x="172.40" y="68.6" width="1.45" height="10.00" fill="#bbd1ea"/>
<rect x="173.60" y="68.6" width="1.45" height="10.00" fill="#ccdbeb"/>
<rect x="174.80" y="68.6" width="1.75" height="10.00" fill="#cfddec"/>
<rect x="176.30" y="68.6" width="1.25" height="10.00" fill="#b7cfea"/>
<rect x="177.30" y="68.6" width="1.75" height="10.00" fill="#d1ddec"/>
<rect x="178.80" y="68.6" width="1.25" height="10.00" fill="#b0cbe9"/>
<rect x="179.80" y="68.6" width="1.45" height="10.00" fill="#cddbeb"/>
<rect x="181.00" y="68.6" width="1.15" height="10.00" fill="#d0ddec"/>
<rect x="181.90" y="68.6" width="1.25" height="10.00" fill="#d5e0ec"/>
<rect x="182.90" y="68.6" width="1.25" height="10.00" fill="#cadaeb"/>
<rect x="183.90" y="68.6" width="1.75" height="10.00" fill="#dee5ed"/>
<rect x="185.40" y="68.6" width="1.25" height="10.00" fill="#c3d6eb"/>
<rect x="186.40" y="68.6" width="1.25" height="10.00" fill="#cfddec"/>
<rect x="187.40" y="68.6" width="1.45" height="10.00" fill="#c7d8eb"/>
<rect x="188.60" y="68.6" width="1.75" height="10.00" fill="#c5d7eb"/>
<rect x="190.10" y="68.6" width="1.15" height="10.00" fill="#d7e1ec"/>
<rect x="191.00" y="68.6" width="1.25" height="10.00" fill="#d1deec"/>
<rect x="192.00" y="68.6" width="1.45" height="10.00" fill="#cfddec"/>
<rect x="193.20" y="68.6" width="1.25" height="10.00" fill="#e4e8ed"/>
<rect x="160.40" y="78.6" width="1.25" height="10.20" fill="#c2d5eb"/>
<rect x="161.40" y="78.6" width="0.95" height="10.20" fill="#c3d6eb"/>
<rect x="162.10" y="78.6" width="1.15" height="10.20" fill="#bad1ea"/>
<rect x="163.00" y="78.6" width="1.15" height="10.20" fill="#c1d5eb"/>
<rect x="163.90" y="78.6" width="1.25" height="10.20" fill="#bcd2ea"/>
<rect x="164.90" y="78.6" width="0.95" height="10.20" fill="#ccdbeb"/>
<rect x="165.60" y="78.6" width="1.75" height="10.20" fill="#c5d7eb"/>
<rect x="167.10" y="78.6" width="1.75" height="10.20" fill="#b4cdea"/>
<rect x="168.60" y="78.6" width="1.45" height="10.20" fill="#bfd4ea"/>
<rect x="169.80" y="78.6" width="0.95" height="10.20" fill="#c6d7eb"/>
<rect x="170.50" y="78.6" width="1.25" height="10.20" fill="#b7cfea"/>
<rect x="171.50" y="78.6" width="1.15" height="10.20" fill="#dce4ec"/>
<rect x="172.40" y="78.6" width="1.75" height="10.20" fill="#acc9e9"/>
<rect x="173.90" y="78.6" width="1.15" height="10.20" fill="#bcd2ea"/>
<rect x="174.80" y="78.6" width="0.95" height="10.20" fill="#bbd2ea"/>
<rect x="175.50" y="78.6" width="1.25" height="10.20" fill="#c6d7eb"/>
<rect x="176.50" y="78.6" width="1.75" height="10.20" fill="#a1c3e8"/>
<rect x="178.00" y="78.6" width="0.95" height="10.20" fill="#c7d8eb"/>
<rect x="178.70" y="78.6" width="1.15" height="10.20" fill="#cfddec"/>
<rect x="179.60" y="78.6" width="1.25" height="10.20" fill="#c0d4eb"/>
<rect x="180.60" y="78.6" width="1.45" height="10.20" fill="#b8d0ea"/>
<rect x="181.80" y="78.6" width="1.45" height="10.20" fill="#bdd2ea"/>
<rect x="183.00" y="78.6" width="1.25" height="10.20" fill="#c6d7eb"/>
<rect x="184.00" y="78.6" width="0.95" height="10.20" fill="#bbd1ea"/>
<rect x="184.70" y="78.6" width="1.15" height="10.20" fill="#c5d7eb"/>
<rect x="185.60" y="78.6" width="1.75" height="10.20" fill="#c9d9eb"/>
<rect x="187.10" y="78.6" width="0.95" height="10.20" fill="#cfdcec"/>
<rect x="187.80" y="78.6" width="1.75" height="10.20" fill="#b6ceea"/>
<rect x="189.30" y="78.6" width="1.25" height="10.20" fill="#cfdcec"/>
<rect x="190.30" y="78.6" width="0.95" height="10.20" fill="#c7d8eb"/>
<rect x="191.00" y="78.6" width="1.15" height="10.20" fill="#c0d4ea"/>
<rect x="191.90" y="78.6" width="1.75" height="10.20" fill="#d8e1ec"/>
<rect x="193.40" y="78.6" width="1.05" height="10.20" fill="#bbd1ea"/>
<rect x="160.40" y="94.8" width="1.25" height="10.20" fill="#f2ece6"/>
<rect x="161.40" y="94.8" width="1.45" height="10.20" fill="#e6e9ed"/>
<rect x="162.60" y="94.8" width="0.95" height="10.20" fill="#e4e8ed"/>
<rect x="163.30" y="94.8" width="0.95" height="10.20" fill="#f2e6dc"/>
<rect x="164.00" y="94.8" width="1.45" height="10.20" fill="#f2ebe6"/>
<rect x="165.20" y="94.8" width="1.15" height="10.20" fill="#ebecee"/>
<rect x="166.10" y="94.8" width="1.45" height="10.20" fill="#f2ece7"/>
<rect x="167.30" y="94.8" width="0.95" height="10.20" fill="#f2e9e0"/>
<rect x="168.00" y="94.8" width="1.25" height="10.20" fill="#f2f0ed"/>
<rect x="169.00" y="94.8" width="1.25" height="10.20" fill="#f2e4d7"/>
<rect x="170.00" y="94.8" width="1.15" height="10.20" fill="#eeeeee"/>
<rect x="170.90" y="94.8" width="1.25" height="10.20" fill="#e3e8ed"/>
<rect x="171.90" y="94.8" width="0.95" height="10.20" fill="#f0efee"/>
<rect x="172.60" y="94.8" width="1.25" height="10.20" fill="#efeeee"/>
<rect x="173.60" y="94.8" width="0.95" height="10.20" fill="#e8eaed"/>
<rect x="174.30" y="94.8" width="1.15" height="10.20" fill="#e0e6ed"/>
<rect x="175.20" y="94.8" width="1.25" height="10.20" fill="#f2f0ee"/>
<rect x="176.20" y="94.8" width="0.95" height="10.20" fill="#f1f0ee"/>
<rect x="176.90" y="94.8" width="1.25" height="10.20" fill="#f2e3d6"/>
<rect x="177.90" y="94.8" width="1.15" height="10.20" fill="#dfe6ed"/>
<rect x="178.80" y="94.8" width="1.75" height="10.20" fill="#f2efed"/>
<rect x="180.30" y="94.8" width="1.25" height="10.20" fill="#eaeced"/>
<rect x="181.30" y="94.8" width="0.95" height="10.20" fill="#f2e9e2"/>
<rect x="182.00" y="94.8" width="1.25" height="10.20" fill="#f1efee"/>
<rect x="183.00" y="94.8" width="1.15" height="10.20" fill="#e4e8ed"/>
<rect x="183.90" y="94.8" width="1.25" height="10.20" fill="#f2e9e0"/>
<rect x="184.90" y="94.8" width="1.15" height="10.20" fill="#f0efee"/>
<rect x="185.80" y="94.8" width="1.15" height="10.20" fill="#e9ebed"/>
<rect x="186.70" y="94.8" width="1.25" height="10.20" fill="#f2efeb"/>
<rect x="187.70" y="94.8" width="0.95" height="10.20" fill="#f2e6dc"/>
<rect x="188.40" y="94.8" width="1.15" height="10.20" fill="#eeeeee"/>
<rect x="189.30" y="94.8" width="1.15" height="10.20" fill="#d8e1ec"/>
<rect x="190.20" y="94.8" width="0.95" height="10.20" fill="#f2eeeb"/>
<rect x="190.90" y="94.8" width="1.45" height="10.20" fill="#f2ebe4"/>
<rect x="192.10" y="94.8" width="1.15" height="10.20" fill="#f2e9e1"/>
<rect x="193.00" y="94.8" width="0.95" height="10.20" fill="#f2ebe5"/>
<rect x="193.70" y="94.8" width="0.75" height="10.20" fill="#f1efee"/>
<rect x="160.40" y="107" width="1.75" height="10.20" fill="#d8e2ec"/>
<rect x="161.90" y="107" width="1.75" height="10.20" fill="#d1deec"/>
<rect x="163.40" y="107" width="1.25" height="10.20" fill="#c9d9eb"/>
<rect x="164.40" y="107" width="1.15" height="10.20" fill="#a4c4e9"/>
<rect x="165.30" y="107" width="1.25" height="10.20" fill="#d3dfec"/>
<rect x="166.30" y="107" width="1.45" height="10.20" fill="#dde4ed"/>
<rect x="167.50" y="107" width="1.75" height="10.20" fill="#c3d6eb"/>
<rect x="169.00" y="107" width="1.75" height="10.20" fill="#cfddec"/>
<rect x="170.50" y="107" width="1.25" height="10.20" fill="#e0e6ed"/>
<rect x="171.50" y="107" width="1.25" height="10.20" fill="#afcbe9"/>
<rect x="172.50" y="107" width="1.15" height="10.20" fill="#d1ddec"/>
<rect x="173.40" y="107" width="0.95" height="10.20" fill="#d0ddec"/>
<rect x="174.10" y="107" width="1.25" height="10.20" fill="#b7cfea"/>
<rect x="175.10" y="107" width="1.45" height="10.20" fill="#d9e2ec"/>
<rect x="176.30" y="107" width="1.15" height="10.20" fill="#bed3ea"/>
<rect x="177.20" y="107" width="1.25" height="10.20" fill="#dbe3ec"/>
<rect x="178.20" y="107" width="1.25" height="10.20" fill="#dde4ed"/>
<rect x="179.20" y="107" width="1.15" height="10.20" fill="#d7e1ec"/>
<rect x="180.10" y="107" width="1.25" height="10.20" fill="#c0d4eb"/>
<rect x="181.10" y="107" width="1.25" height="10.20" fill="#cad9eb"/>
<rect x="182.10" y="107" width="1.25" height="10.20" fill="#ccdbeb"/>
<rect x="183.10" y="107" width="1.75" height="10.20" fill="#bfd4ea"/>
<rect x="184.60" y="107" width="1.25" height="10.20" fill="#cddbeb"/>
<rect x="185.60" y="107" width="1.25" height="10.20" fill="#dee5ed"/>
<rect x="186.60" y="107" width="0.95" height="10.20" fill="#c3d6eb"/>
<rect x="187.30" y="107" width="0.95" height="10.20" fill="#d6e1ec"/>
<rect x="188.00" y="107" width="1.25" height="10.20" fill="#cedcec"/>
<rect x="189.00" y="107" width="1.45" height="10.20" fill="#d1deec"/>
<rect x="190.20" y="107" width="1.25" height="10.20" fill="#c6d7eb"/>
<rect x="191.20" y="107" width="1.45" height="10.20" fill="#d5e0ec"/>
<rect x="192.40" y="107" width="0.95" height="10.20" fill="#ccdbeb"/>
<rect x="193.10" y="107" width="1.25" height="10.20" fill="#e0e6ed"/>
<rect x="194.10" y="107" width="0.35" height="10.20" fill="#c7d8eb"/>
<rect x="160.40" y="117.2" width="1.45" height="10.80" fill="#d9e2ec"/>
<rect x="161.60" y="117.2" width="1.75" height="10.80" fill="#cadaeb"/>
<rect x="163.10" y="117.2" width="1.15" height="10.80" fill="#c5d7eb"/>
<rect x="164.00" y="117.2" width="0.95" height="10.80" fill="#a8c7e9"/>
<rect x="164.70" y="117.2" width="1.25" height="10.80" fill="#cbdaeb"/>
<rect x="165.70" y="117.2" width="1.25" height="10.80" fill="#d9e2ec"/>
<rect x="166.70" y="117.2" width="1.15" height="10.80" fill="#bbd1ea"/>
<rect x="167.60" y="117.2" width="1.25" height="10.80" fill="#cfdcec"/>
<rect x="168.60" y="117.2" width="1.75" height="10.80" fill="#dae3ec"/>
<rect x="170.10" y="117.2" width="1.25" height="10.80" fill="#cfddec"/>
<rect x="171.10" y="117.2" width="1.45" height="10.80" fill="#b4cdea"/>
<rect x="172.30" y="117.2" width="1.15" height="10.80" fill="#c1d5eb"/>
<rect x="173.20" y="117.2" width="1.25" height="10.80" fill="#cfddec"/>
<rect x="174.20" y="117.2" width="1.45" height="10.80" fill="#cddbeb"/>
<rect x="175.40" y="117.2" width="1.15" height="10.80" fill="#cadaeb"/>
<rect x="176.30" y="117.2" width="1.15" height="10.80" fill="#b8cfea"/>
<rect x="177.20" y="117.2" width="1.25" height="10.80" fill="#d0ddec"/>
<rect x="178.20" y="117.2" width="1.45" height="10.80" fill="#bfd4ea"/>
<rect x="179.40" y="117.2" width="1.25" height="10.80" fill="#c4d6eb"/>
<rect x="180.40" y="117.2" width="0.95" height="10.80" fill="#d0ddec"/>
<rect x="181.10" y="117.2" width="0.95" height="10.80" fill="#c5d7eb"/>
<rect x="181.80" y="117.2" width="1.15" height="10.80" fill="#d2deec"/>
<rect x="182.70" y="117.2" width="1.75" height="10.80" fill="#cedcec"/>
<rect x="184.20" y="117.2" width="1.25" height="10.80" fill="#c9d9eb"/>
<rect x="185.20" y="117.2" width="1.25" height="10.80" fill="#ccdbeb"/>
<rect x="186.20" y="117.2" width="1.45" height="10.80" fill="#cddbeb"/>
<rect x="187.40" y="117.2" width="1.45" height="10.80" fill="#c1d4eb"/>
<rect x="188.60" y="117.2" width="1.75" height="10.80" fill="#c7d8eb"/>
<rect x="190.10" y="117.2" width="1.25" height="10.80" fill="#b1cce9"/>
<rect x="191.10" y="117.2" width="1.25" height="10.80" fill="#c4d7eb"/>
<rect x="192.10" y="117.2" width="1.25" height="10.80" fill="#cfddec"/>
<rect x="193.10" y="117.2" width="1.35" height="10.80" fill="#c5d7eb"/>
<rect x="196.80" y="56" width="1.15" height="10.50" fill="#e97c1c"/>
<rect x="197.70" y="56" width="1.15" height="10.50" fill="#ea8124"/>
<rect x="198.60" y="56" width="1.45" height="10.50" fill="#e97d1e"/>
<rect x="199.80" y="56" width="1.15" height="10.50" fill="#ea8429"/>
<rect x="200.70" y="56" width="1.15" height="10.50" fill="#e97d1d"/>
<rect x="201.60" y="56" width="1.45" height="10.50" fill="#eb8831"/>
<rect x="202.80" y="56" width="0.95" height="10.50" fill="#ea8227"/>
<rect x="203.50" y="56" width="1.75" height="10.50" fill="#ea8327"/>
<rect x="205.00" y="56" width="0.95" height="10.50" fill="#ea8125"/>
<rect x="205.70" y="56" width="1.25" height="10.50" fill="#e97f20"/>
<rect x="206.70" y="56" width="1.25" height="10.50" fill="#ea8429"/>
<rect x="207.70" y="56" width="1.25" height="10.50" fill="#e97d1e"/>
<rect x="208.70" y="56" width="0.95" height="10.50" fill="#ea8023"/>
<rect x="209.40" y="56" width="0.95" height="10.50" fill="#e97c1d"/>
<rect x="210.10" y="56" width="1.45" height="10.50" fill="#e87510"/>
<rect x="211.30" y="56" width="1.15" height="10.50" fill="#e97d1e"/>
<rect x="212.20" y="56" width="1.15" height="10.50" fill="#ea8329"/>
<rect x="213.10" y="56" width="1.25" height="10.50" fill="#eb8831"/>
<rect x="214.10" y="56" width="1.75" height="10.50" fill="#ea862e"/>
<rect x="215.60" y="56" width="0.95" height="10.50" fill="#e97c1c"/>
<rect x="216.30" y="56" width="1.45" height="10.50" fill="#e97d1e"/>
<rect x="217.50" y="56" width="1.25" height="10.50" fill="#ea8023"/>
<rect x="218.50" y="56" width="1.15" height="10.50" fill="#e97d1d"/>
<rect x="219.40" y="56" width="0.95" height="10.50" fill="#ea8023"/>
<rect x="220.10" y="56" width="1.45" height="10.50" fill="#e97e1f"/>
<rect x="221.30" y="56" width="1.75" height="10.50" fill="#ea8328"/>
<rect x="222.80" y="56" width="0.95" height="10.50" fill="#ea842a"/>
<rect x="223.50" y="56" width="1.25" height="10.50" fill="#ea852c"/>
<rect x="224.50" y="56" width="1.45" height="10.50" fill="#e97f21"/>
<rect x="225.70" y="56" width="1.25" height="10.50" fill="#ea8023"/>
<rect x="226.70" y="56" width="1.25" height="10.50" fill="#ea8124"/>
<rect x="227.70" y="56" width="1.45" height="10.50" fill="#ea862e"/>
<rect x="228.90" y="56" width="1.25" height="10.50" fill="#ea8124"/>
<rect x="229.90" y="56" width="1.75" height="10.50" fill="#eb8831"/>
<rect x="231.40" y="56" width="0.95" height="10.50" fill="#ea8329"/>
<rect x="232.10" y="56" width="1.75" height="10.50" fill="#e97d1e"/>
<rect x="233.60" y="56" width="1.25" height="10.50" fill="#e97b1a"/>
<rect x="234.60" y="56" width="1.25" height="10.50" fill="#ea842a"/>
<rect x="235.60" y="56" width="0.95" height="10.50" fill="#ea862d"/>
<rect x="236.30" y="56" width="1.25" height="10.50" fill="#ea8226"/>
<rect x="237.30" y="56" width="1.25" height="10.50" fill="#eb8c37"/>
<rect x="238.30" y="56" width="1.25" height="10.50" fill="#e97916"/>
<rect x="239.30" y="56" width="1.25" height="10.50" fill="#ea8023"/>
<rect x="240.30" y="56" width="1.75" height="10.50" fill="#e97f21"/>
<rect x="241.80" y="56" width="1.15" height="10.50" fill="#e97a18"/>
<rect x="242.70" y="56" width="0.95" height="10.50" fill="#ea842a"/>
<rect x="243.40" y="56" width="0.95" height="10.50" fill="#ea8023"/>
<rect x="244.10" y="56" width="0.95" height="10.50" fill="#eb8a34"/>
<rect x="244.80" y="56" width="1.25" height="10.50" fill="#e97c1b"/>
<rect x="245.80" y="56" width="1.15" height="10.50" fill="#ea8023"/>
<rect x="246.70" y="56" width="1.15" height="10.50" fill="#ea8023"/>
<rect x="247.60" y="56" width="1.75" height="10.50" fill="#e98022"/>
<rect x="249.10" y="56" width="1.45" height="10.50" fill="#ea862d"/>
<rect x="250.30" y="56" width="1.45" height="10.50" fill="#e97a18"/>
<rect x="251.50" y="56" width="1.15" height="10.50" fill="#ea852b"/>
<rect x="252.40" y="56" width="1.15" height="10.50" fill="#ea8328"/>
<rect x="253.30" y="56" width="1.15" height="10.50" fill="#e97f21"/>
<rect x="254.20" y="56" width="0.95" height="10.50" fill="#e97d1d"/>
<rect x="254.90" y="56" width="1.15" height="10.50" fill="#e97e1f"/>
<rect x="255.80" y="56" width="1.25" height="10.50" fill="#e97917"/>
<rect x="256.80" y="56" width="1.25" height="10.50" fill="#e97916"/>
<rect x="257.80" y="56" width="1.25" height="10.50" fill="#e87712"/>
<rect x="258.80" y="56" width="1.25" height="10.50" fill="#e97e1f"/>
<rect x="259.80" y="56" width="0.95" height="10.50" fill="#e97c1b"/>
<rect x="260.50" y="56" width="1.15" height="10.50" fill="#ea852c"/>
<rect x="261.40" y="56" width="1.25" height="10.50" fill="#ea8024"/>
<rect x="196.80" y="68.6" width="1.25" height="10.00" fill="#e8eaed"/>
<rect x="197.80" y="68.6" width="1.45" height="10.00" fill="#f2e8df"/>
<rect x="199.00" y="68.6" width="1.15" height="10.00" fill="#dee5ed"/>
<rect x="199.90" y="68.6" width="1.45" height="10.00" fill="#f2efed"/>
<rect x="201.10" y="68.6" width="1.45" height="10.00" fill="#f2e9e0"/>
<rect x="202.30" y="68.6" width="1.15" height="10.00" fill="#ececee"/>
<rect x="203.20" y="68.6" width="1.15" height="10.00" fill="#f2eeeb"/>
<rect x="204.10" y="68.6" width="1.75" height="10.00" fill="#f2efec"/>
<rect x="205.60" y="68.6" width="1.45" height="10.00" fill="#e9ebed"/>
<rect x="206.80" y="68.6" width="1.75" height="10.00" fill="#f2e1d2"/>
<rect x="208.30" y="68.6" width="0.95" height="10.00" fill="#f2ede9"/>
<rect x="209.00" y="68.6" width="1.25" height="10.00" fill="#e4e8ed"/>
<rect x="210.00" y="68.6" width="1.75" height="10.00" fill="#e7eaed"/>
<rect x="211.50" y="68.6" width="1.25" height="10.00" fill="#eaeced"/>
<rect x="212.50" y="68.6" width="1.15" height="10.00" fill="#e8eaed"/>
<rect x="213.40" y="68.6" width="1.25" height="10.00" fill="#e7eaed"/>
<rect x="214.40" y="68.6" width="1.45" height="10.00" fill="#f2ece6"/>
<rect x="215.60" y="68.6" width="1.25" height="10.00" fill="#f1efee"/>
<rect x="216.60" y="68.6" width="1.25" height="10.00" fill="#f1f0ee"/>
<rect x="217.60" y="68.6" width="1.25" height="10.00" fill="#f2f0ee"/>
<rect x="218.60" y="68.6" width="1.25" height="10.00" fill="#f2e3d5"/>
<rect x="219.60" y="68.6" width="1.15" height="10.00" fill="#f2eeea"/>
<rect x="220.50" y="68.6" width="0.95" height="10.00" fill="#e5e9ed"/>
<rect x="221.20" y="68.6" width="1.15" height="10.00" fill="#e9ebed"/>
<rect x="222.10" y="68.6" width="1.25" height="10.00" fill="#f2ebe4"/>
<rect x="223.10" y="68.6" width="1.45" height="10.00" fill="#ededee"/>
<rect x="224.30" y="68.6" width="1.75" height="10.00" fill="#f0efee"/>
<rect x="225.80" y="68.6" width="1.15" height="10.00" fill="#f2e5d9"/>
<rect x="226.70" y="68.6" width="1.75" height="10.00" fill="#f2eae3"/>
<rect x="228.20" y="68.6" width="1.45" height="10.00" fill="#f2e5d9"/>
<rect x="229.40" y="68.6" width="1.25" height="10.00" fill="#f2eae3"/>
<rect x="230.40" y="68.6" width="1.75" height="10.00" fill="#f2ede8"/>
<rect x="231.90" y="68.6" width="0.95" height="10.00" fill="#eeeeee"/>
<rect x="232.60" y="68.6" width="1.45" height="10.00" fill="#eeeeee"/>
<rect x="233.80" y="68.6" width="1.15" height="10.00" fill="#dae3ec"/>
<rect x="234.70" y="68.6" width="1.15" height="10.00" fill="#f2e7de"/>
<rect x="235.60" y="68.6" width="1.15" height="10.00" fill="#efeeee"/>
<rect x="236.50" y="68.6" width="1.75" height="10.00" fill="#f2ece7"/>
<rect x="238.00" y="68.6" width="0.95" height="10.00" fill="#d5e0ec"/>
<rect x="238.70" y="68.6" width="1.25" height="10.00" fill="#e9ebed"/>
<rect x="239.70" y="68.6" width="1.25" height="10.00" fill="#eaeced"/>
<rect x="240.70" y="68.6" width="1.45" height="10.00" fill="#ededee"/>
<rect x="241.90" y="68.6" width="1.15" height="10.00" fill="#f2e1d3"/>
<rect x="242.80" y="68.6" width="1.25" height="10.00" fill="#d5e0ec"/>
<rect x="243.80" y="68.6" width="1.15" height="10.00" fill="#f0efee"/>
<rect x="244.70" y="68.6" width="1.45" height="10.00" fill="#efeeee"/>
<rect x="245.90" y="68.6" width="1.25" height="10.00" fill="#f2e7dd"/>
<rect x="246.90" y="68.6" width="1.25" height="10.00" fill="#f2ece6"/>
<rect x="247.90" y="68.6" width="1.15" height="10.00" fill="#f2f0ee"/>
<rect x="248.80" y="68.6" width="1.75" height="10.00" fill="#f2e5da"/>
<rect x="250.30" y="68.6" width="1.25" height="10.00" fill="#e9ebed"/>
<rect x="251.30" y="68.6" width="1.15" height="10.00" fill="#f2efed"/>
<rect x="252.20" y="68.6" width="1.45" height="10.00" fill="#e7eaed"/>
<rect x="253.40" y="68.6" width="0.95" height="10.00" fill="#e9ebed"/>
<rect x="254.10" y="68.6" width="1.25" height="10.00" fill="#e8eaed"/>
<rect x="255.10" y="68.6" width="1.45" height="10.00" fill="#dee5ed"/>
<rect x="256.30" y="68.6" width="0.95" height="10.00" fill="#eeeeee"/>
<rect x="257.00" y="68.6" width="1.25" height="10.00" fill="#f2e5d9"/>
<rect x="258.00" y="68.6" width="1.25" height="10.00" fill="#f0efee"/>
<rect x="259.00" y="68.6" width="1.75" height="10.00" fill="#f2efed"/>
<rect x="260.50" y="68.6" width="1.25" height="10.00" fill="#e7eaed"/>
<rect x="261.50" y="68.6" width="1.15" height="10.00" fill="#f2ede7"/>
<rect x="196.80" y="78.6" width="0.95" height="10.20" fill="#e7eaed"/>
<rect x="197.50" y="78.6" width="1.25" height="10.20" fill="#e0e6ed"/>
<rect x="198.50" y="78.6" width="0.95" height="10.20" fill="#efeeee"/>
<rect x="199.20" y="78.6" width="1.25" height="10.20" fill="#e2e7ed"/>
<rect x="200.20" y="78.6" width="1.75" height="10.20" fill="#d6e0ec"/>
<rect x="201.70" y="78.6" width="1.45" height="10.20" fill="#f2eeea"/>
<rect x="202.90" y="78.6" width="1.75" height="10.20" fill="#d3dfec"/>
<rect x="204.40" y="78.6" width="0.95" height="10.20" fill="#dee5ed"/>
<rect x="205.10" y="78.6" width="1.25" height="10.20" fill="#d6e0ec"/>
<rect x="206.10" y="78.6" width="1.45" height="10.20" fill="#d5e0ec"/>
<rect x="207.30" y="78.6" width="1.25" height="10.20" fill="#d5e0ec"/>
<rect x="208.30" y="78.6" width="0.95" height="10.20" fill="#e4e8ed"/>
<rect x="209.00" y="78.6" width="1.75" height="10.20" fill="#e5e9ed"/>
<rect x="210.50" y="78.6" width="0.95" height="10.20" fill="#dfe5ed"/>
<rect x="211.20" y="78.6" width="1.25" height="10.20" fill="#dee5ed"/>
<rect x="212.20" y="78.6" width="1.25" height="10.20" fill="#e7eaed"/>
<rect x="213.20" y="78.6" width="1.15" height="10.20" fill="#e5e9ed"/>
<rect x="214.10" y="78.6" width="1.25" height="10.20" fill="#d0ddec"/>
<rect x="215.10" y="78.6" width="1.15" height="10.20" fill="#d6e0ec"/>
<rect x="216.00" y="78.6" width="1.25" height="10.20" fill="#d4e0ec"/>
<rect x="217.00" y="78.6" width="1.15" height="10.20" fill="#d5e0ec"/>
<rect x="217.90" y="78.6" width="0.95" height="10.20" fill="#e7eaed"/>
<rect x="218.60" y="78.6" width="1.15" height="10.20" fill="#dbe3ec"/>
<rect x="219.50" y="78.6" width="1.25" height="10.20" fill="#ecedee"/>
<rect x="220.50" y="78.6" width="1.75" height="10.20" fill="#e8eaed"/>
<rect x="222.00" y="78.6" width="1.25" height="10.20" fill="#d7e1ec"/>
<rect x="223.00" y="78.6" width="0.95" height="10.20" fill="#e4e8ed"/>
<rect x="223.70" y="78.6" width="0.95" height="10.20" fill="#d5e0ec"/>
<rect x="224.40" y="78.6" width="1.25" height="10.20" fill="#d2deec"/>
<rect x="225.40" y="78.6" width="1.45" height="10.20" fill="#d6e1ec"/>
<rect x="226.60" y="78.6" width="1.45" height="10.20" fill="#d4dfec"/>
<rect x="227.80" y="78.6" width="1.75" height="10.20" fill="#d7e1ec"/>
<rect x="229.30" y="78.6" width="0.95" height="10.20" fill="#dfe5ed"/>
<rect x="230.00" y="78.6" width="0.95" height="10.20" fill="#e1e6ed"/>
<rect x="230.70" y="78.6" width="1.15" height="10.20" fill="#dfe6ed"/>
<rect x="231.60" y="78.6" width="1.15" height="10.20" fill="#ededee"/>
<rect x="232.50" y="78.6" width="0.95" height="10.20" fill="#f2eeeb"/>
<rect x="233.20" y="78.6" width="0.95" height="10.20" fill="#d1ddec"/>
<rect x="233.90" y="78.6" width="1.15" height="10.20" fill="#d3dfec"/>
<rect x="234.80" y="78.6" width="1.15" height="10.20" fill="#d2deec"/>
<rect x="235.70" y="78.6" width="1.75" height="10.20" fill="#e6e9ed"/>
<rect x="237.20" y="78.6" width="1.45" height="10.20" fill="#d7e1ec"/>
<rect x="238.40" y="78.6" width="1.45" height="10.20" fill="#d4dfec"/>
<rect x="239.60" y="78.6" width="1.15" height="10.20" fill="#dae3ec"/>
<rect x="240.50" y="78.6" width="1.75" height="10.20" fill="#dee5ed"/>
<rect x="242.00" y="78.6" width="0.95" height="10.20" fill="#f2f0ee"/>
<rect x="242.70" y="78.6" width="1.25" height="10.20" fill="#dde5ed"/>
<rect x="243.70" y="78.6" width="1.75" height="10.20" fill="#d3dfec"/>
<rect x="245.20" y="78.6" width="1.25" height="10.20" fill="#dbe3ec"/>
<rect x="246.20" y="78.6" width="1.75" height="10.20" fill="#e2e7ed"/>
<rect x="247.70" y="78.6" width="1.75" height="10.20" fill="#dce4ec"/>
<rect x="249.20" y="78.6" width="1.25" height="10.20" fill="#f1efee"/>
<rect x="250.20" y="78.6" width="1.25" height="10.20" fill="#f2e4d8"/>
<rect x="251.20" y="78.6" width="1.15" height="10.20" fill="#dae3ec"/>
<rect x="252.10" y="78.6" width="1.75" height="10.20" fill="#d9e2ec"/>
<rect x="253.60" y="78.6" width="1.75" height="10.20" fill="#e7eaed"/>
<rect x="255.10" y="78.6" width="0.95" height="10.20" fill="#dbe3ec"/>
<rect x="255.80" y="78.6" width="1.25" height="10.20" fill="#d2deec"/>
<rect x="256.80" y="78.6" width="1.75" height="10.20" fill="#d1ddec"/>
<rect x="258.30" y="78.6" width="1.45" height="10.20" fill="#e8eaed"/>
<rect x="259.50" y="78.6" width="1.15" height="10.20" fill="#dce4ec"/>
<rect x="260.40" y="78.6" width="0.95" height="10.20" fill="#e0e6ed"/>
<rect x="261.10" y="78.6" width="1.25" height="10.20" fill="#dde4ed"/>
<rect x="262.10" y="78.6" width="0.55" height="10.20" fill="#e3e7ed"/>
<rect x="196.80" y="94.8" width="1.15" height="10.20" fill="#b8cfea"/>
<rect x="197.70" y="94.8" width="1.75" height="10.20" fill="#c5d7eb"/>
<rect x="199.20" y="94.8" width="1.25" height="10.20" fill="#bad1ea"/>
<rect x="200.20" y="94.8" width="1.25" height="10.20" fill="#b5ceea"/>
<rect x="201.20" y="94.8" width="1.75" height="10.20" fill="#b7cfea"/>
<rect x="202.70" y="94.8" width="1.75" height="10.20" fill="#d5e0ec"/>
<rect x="204.20" y="94.8" width="1.45" height="10.20" fill="#bcd2ea"/>
<rect x="205.40" y="94.8" width="1.25" height="10.20" fill="#b0cbe9"/>
<rect x="206.40" y="94.8" width="0.95" height="10.20" fill="#c1d5eb"/>
<rect x="207.10" y="94.8" width="0.95" height="10.20" fill="#adc9e9"/>
<rect x="207.80" y="94.8" width="1.45" height="10.20" fill="#c6d7eb"/>
<rect x="209.00" y="94.8" width="1.25" height="10.20" fill="#c1d5eb"/>
<rect x="210.00" y="94.8" width="1.45" height="10.20" fill="#b3cdea"/>
<rect x="211.20" y="94.8" width="0.95" height="10.20" fill="#b8cfea"/>
<rect x="211.90" y="94.8" width="0.95" height="10.20" fill="#bbd2ea"/>
<rect x="212.60" y="94.8" width="0.95" height="10.20" fill="#cbdaeb"/>
<rect x="213.30" y="94.8" width="1.15" height="10.20" fill="#c9d9eb"/>
<rect x="214.20" y="94.8" width="1.25" height="10.20" fill="#d1deec"/>
<rect x="215.20" y="94.8" width="0.95" height="10.20" fill="#bcd2ea"/>
<rect x="215.90" y="94.8" width="0.95" height="10.20" fill="#cad9eb"/>
<rect x="216.60" y="94.8" width="0.95" height="10.20" fill="#ccdbeb"/>
<rect x="217.30" y="94.8" width="1.75" height="10.20" fill="#c2d5eb"/>
<rect x="218.80" y="94.8" width="1.45" height="10.20" fill="#c0d4eb"/>
<rect x="220.00" y="94.8" width="1.25" height="10.20" fill="#c8d8eb"/>
<rect x="221.00" y="94.8" width="1.45" height="10.20" fill="#dbe3ec"/>
<rect x="222.20" y="94.8" width="1.75" height="10.20" fill="#d5e0ec"/>
<rect x="223.70" y="94.8" width="1.75" height="10.20" fill="#c8d9eb"/>
<rect x="225.20" y="94.8" width="1.25" height="10.20" fill="#c5d7eb"/>
<rect x="226.20" y="94.8" width="0.95" height="10.20" fill="#c3d6eb"/>
<rect x="226.90" y="94.8" width="0.95" height="10.20" fill="#d5e0ec"/>
<rect x="227.60" y="94.8" width="1.75" height="10.20" fill="#c3d6eb"/>
<rect x="229.10" y="94.8" width="0.95" height="10.20" fill="#c6d8eb"/>
<rect x="229.80" y="94.8" width="1.25" height="10.20" fill="#afcbe9"/>
<rect x="230.80" y="94.8" width="1.25" height="10.20" fill="#c3d6eb"/>
<rect x="231.80" y="94.8" width="1.75" height="10.20" fill="#c2d5eb"/>
<rect x="233.30" y="94.8" width="1.15" height="10.20" fill="#bbd2ea"/>
<rect x="234.20" y="94.8" width="1.25" height="10.20" fill="#c9d9eb"/>
<rect x="235.20" y="94.8" width="0.95" height="10.20" fill="#aecae9"/>
<rect x="235.90" y="94.8" width="0.95" height="10.20" fill="#d5e0ec"/>
<rect x="236.60" y="94.8" width="1.75" height="10.20" fill="#c0d4eb"/>
<rect x="238.10" y="94.8" width="1.45" height="10.20" fill="#a4c4e9"/>
<rect x="239.30" y="94.8" width="1.45" height="10.20" fill="#b5ceea"/>
<rect x="240.50" y="94.8" width="1.75" height="10.20" fill="#c0d4eb"/>
<rect x="242.00" y="94.8" width="0.95" height="10.20" fill="#bfd4ea"/>
<rect x="242.70" y="94.8" width="1.45" height="10.20" fill="#bbd2ea"/>
<rect x="243.90" y="94.8" width="0.95" height="10.20" fill="#b4cdea"/>
<rect x="244.60" y="94.8" width="1.45" height="10.20" fill="#cedceb"/>
<rect x="245.80" y="94.8" width="1.45" height="10.20" fill="#c3d6eb"/>
<rect x="247.00" y="94.8" width="0.95" height="10.20" fill="#d6e0ec"/>
<rect x="247.70" y="94.8" width="1.45" height="10.20" fill="#c2d5eb"/>
<rect x="248.90" y="94.8" width="0.95" height="10.20" fill="#b8cfea"/>
<rect x="249.60" y="94.8" width="1.45" height="10.20" fill="#c4d7eb"/>
<rect x="250.80" y="94.8" width="0.95" height="10.20" fill="#d2deec"/>
<rect x="251.50" y="94.8" width="0.95" height="10.20" fill="#bbd1ea"/>
<rect x="252.20" y="94.8" width="1.75" height="10.20" fill="#c3d6eb"/>
<rect x="253.70" y="94.8" width="1.15" height="10.20" fill="#cedcec"/>
<rect x="254.60" y="94.8" width="1.45" height="10.20" fill="#bbd1ea"/>
<rect x="255.80" y="94.8" width="1.25" height="10.20" fill="#b8d0ea"/>
<rect x="256.80" y="94.8" width="1.15" height="10.20" fill="#bbd1ea"/>
<rect x="257.70" y="94.8" width="1.75" height="10.20" fill="#bfd4ea"/>
<rect x="259.20" y="94.8" width="1.75" height="10.20" fill="#c6d7eb"/>
<rect x="260.70" y="94.8" width="0.95" height="10.20" fill="#99bee8"/>
<rect x="261.40" y="94.8" width="1.25" height="10.20" fill="#c1d4eb"/>
<rect x="196.80" y="107" width="0.95" height="10.20" fill="#b4cdea"/>
<rect x="197.50" y="107" width="1.25" height="10.20" fill="#b4cdea"/>
<rect x="198.50" y="107" width="1.25" height="10.20" fill="#cbdaeb"/>
<rect x="199.50" y="107" width="1.25" height="10.20" fill="#afcbe9"/>
<rect x="200.50" y="107" width="1.75" height="10.20" fill="#c4d6eb"/>
<rect x="202.00" y="107" width="1.25" height="10.20" fill="#bdd2ea"/>
<rect x="203.00" y="107" width="1.25" height="10.20" fill="#c7d8eb"/>
<rect x="204.00" y="107" width="1.25" height="10.20" fill="#b4cdea"/>
<rect x="205.00" y="107" width="1.75" height="10.20" fill="#bdd3ea"/>
<rect x="206.50" y="107" width="1.45" height="10.20" fill="#c9d9eb"/>
<rect x="207.70" y="107" width="1.45" height="10.20" fill="#bcd2ea"/>
<rect x="208.90" y="107" width="1.75" height="10.20" fill="#a8c7e9"/>
<rect x="210.40" y="107" width="0.95" height="10.20" fill="#b6ceea"/>
<rect x="211.10" y="107" width="1.15" height="10.20" fill="#c5d7eb"/>
<rect x="212.00" y="107" width="1.25" height="10.20" fill="#b1cce9"/>
<rect x="213.00" y="107" width="1.15" height="10.20" fill="#abc8e9"/>
<rect x="213.90" y="107" width="1.25" height="10.20" fill="#a9c7e9"/>
<rect x="214.90" y="107" width="1.45" height="10.20" fill="#c4d6eb"/>
<rect x="216.10" y="107" width="1.15" height="10.20" fill="#c5d7eb"/>
<rect x="217.00" y="107" width="1.75" height="10.20" fill="#c5d7eb"/>
<rect x="218.50" y="107" width="1.15" height="10.20" fill="#b2ccea"/>
<rect x="219.40" y="107" width="1.75" height="10.20" fill="#bbd2ea"/>
<rect x="220.90" y="107" width="1.45" height="10.20" fill="#c0d4ea"/>
<rect x="222.10" y="107" width="1.15" height="10.20" fill="#c2d5eb"/>
<rect x="223.00" y="107" width="1.75" height="10.20" fill="#b5ceea"/>
<rect x="224.50" y="107" width="1.15" height="10.20" fill="#c9d9eb"/>
<rect x="225.40" y="107" width="1.15" height="10.20" fill="#b8d0ea"/>
<rect x="226.30" y="107" width="1.75" height="10.20" fill="#c3d6eb"/>
<rect x="227.80" y="107" width="0.95" height="10.20" fill="#c5d7eb"/>
<rect x="228.50" y="107" width="1.15" height="10.20" fill="#cbdaeb"/>
<rect x="229.40" y="107" width="1.25" height="10.20" fill="#c0d4ea"/>
<rect x="230.40" y="107" width="1.25" height="10.20" fill="#c1d5eb"/>
<rect x="231.40" y="107" width="1.75" height="10.20" fill="#b9d0ea"/>
<rect x="232.90" y="107" width="0.95" height="10.20" fill="#c5d7eb"/>
<rect x="233.60" y="107" width="1.75" height="10.20" fill="#c4d6eb"/>
<rect x="235.10" y="107" width="1.25" height="10.20" fill="#b7cfea"/>
<rect x="236.10" y="107" width="1.25" height="10.20" fill="#c8d8eb"/>
<rect x="237.10" y="107" width="1.25" height="10.20" fill="#bed3ea"/>
<rect x="238.10" y="107" width="1.75" height="10.20" fill="#c2d5eb"/>
<rect x="239.60" y="107" width="1.25" height="10.20" fill="#dde4ed"/>
<rect x="240.60" y="107" width="1.25" height="10.20" fill="#c5d7eb"/>
<rect x="241.60" y="107" width="1.75" height="10.20" fill="#bdd2ea"/>
<rect x="243.10" y="107" width="1.25" height="10.20" fill="#c5d7eb"/>
<rect x="244.10" y="107" width="1.25" height="10.20" fill="#bcd2ea"/>
<rect x="245.10" y="107" width="1.75" height="10.20" fill="#aac8e9"/>
<rect x="246.60" y="107" width="1.25" height="10.20" fill="#b3cdea"/>
<rect x="247.60" y="107" width="1.15" height="10.20" fill="#b3cdea"/>
<rect x="248.50" y="107" width="1.75" height="10.20" fill="#adc9e9"/>
<rect x="250.00" y="107" width="1.75" height="10.20" fill="#b4ceea"/>
<rect x="251.50" y="107" width="1.15" height="10.20" fill="#b7cfea"/>
<rect x="252.40" y="107" width="1.75" height="10.20" fill="#c5d7eb"/>
<rect x="253.90" y="107" width="1.25" height="10.20" fill="#c5d7eb"/>
<rect x="254.90" y="107" width="1.75" height="10.20" fill="#b4cdea"/>
<rect x="256.40" y="107" width="1.15" height="10.20" fill="#a3c4e9"/>
<rect x="257.30" y="107" width="1.25" height="10.20" fill="#b8d0ea"/>
<rect x="258.30" y="107" width="1.25" height="10.20" fill="#abc9e9"/>
<rect x="259.30" y="107" width="1.25" height="10.20" fill="#b9d0ea"/>
<rect x="260.30" y="107" width="1.25" height="10.20" fill="#bcd2ea"/>
<rect x="261.30" y="107" width="1.35" height="10.20" fill="#afcbe9"/>
<rect x="196.80" y="117.2" width="1.15" height="10.80" fill="#a7c6e9"/>
<rect x="197.70" y="117.2" width="1.75" height="10.80" fill="#bfd4ea"/>
<rect x="199.20" y="117.2" width="1.25" height="10.80" fill="#c2d5eb"/>
<rect x="200.20" y="117.2" width="0.95" height="10.80" fill="#cfdcec"/>
<rect x="200.90" y="117.2" width="1.15" height="10.80" fill="#c4d6eb"/>
<rect x="201.80" y="117.2" width="1.75" height="10.80" fill="#c6d7eb"/>
<rect x="203.30" y="117.2" width="1.45" height="10.80" fill="#a4c5e9"/>
<rect x="204.50" y="117.2" width="1.25" height="10.80" fill="#cddbeb"/>
<rect x="205.50" y="117.2" width="1.45" height="10.80" fill="#c9d9eb"/>
<rect x="206.70" y="117.2" width="1.15" height="10.80" fill="#bdd3ea"/>
<rect x="207.60" y="117.2" width="1.75" height="10.80" fill="#b2ccea"/>
<rect x="209.10" y="117.2" width="1.25" height="10.80" fill="#b4cdea"/>
<rect x="210.10" y="117.2" width="1.25" height="10.80" fill="#bed3ea"/>
<rect x="211.10" y="117.2" width="1.15" height="10.80" fill="#c8d8eb"/>
<rect x="212.00" y="117.2" width="1.45" height="10.80" fill="#c0d4ea"/>
<rect x="213.20" y="117.2" width="0.95" height="10.80" fill="#bed3ea"/>
<rect x="213.90" y="117.2" width="1.75" height="10.80" fill="#b0cbe9"/>
<rect x="215.40" y="117.2" width="0.95" height="10.80" fill="#c0d4eb"/>
<rect x="216.10" y="117.2" width="0.95" height="10.80" fill="#ccdbeb"/>
<rect x="216.80" y="117.2" width="0.95" height="10.80" fill="#d8e1ec"/>
<rect x="217.50" y="117.2" width="1.75" height="10.80" fill="#ccdbeb"/>
<rect x="219.00" y="117.2" width="1.75" height="10.80" fill="#b9d0ea"/>
<rect x="220.50" y="117.2" width="0.95" height="10.80" fill="#b2ccea"/>
<rect x="221.20" y="117.2" width="1.15" height="10.80" fill="#bcd2ea"/>
<rect x="222.10" y="117.2" width="1.45" height="10.80" fill="#ccdbeb"/>
<rect x="223.30" y="117.2" width="1.15" height="10.80" fill="#dfe5ed"/>
<rect x="224.20" y="117.2" width="1.25" height="10.80" fill="#bfd4ea"/>
<rect x="225.20" y="117.2" width="1.15" height="10.80" fill="#cedcec"/>
<rect x="226.10" y="117.2" width="0.95" height="10.80" fill="#d8e1ec"/>
<rect x="226.80" y="117.2" width="1.75" height="10.80" fill="#c6d8eb"/>
<rect x="228.30" y="117.2" width="1.75" height="10.80" fill="#d0ddec"/>
<rect x="229.80" y="117.2" width="1.15" height="10.80" fill="#c3d6eb"/>
<rect x="230.70" y="117.2" width="1.75" height="10.80" fill="#bad1ea"/>
<rect x="232.20" y="117.2" width="1.75" height="10.80" fill="#cbdaeb"/>
<rect x="233.70" y="117.2" width="1.25" height="10.80" fill="#adcae9"/>
<rect x="234.70" y="117.2" width="1.25" height="10.80" fill="#d4e0ec"/>
<rect x="235.70" y="117.2" width="1.75" height="10.80" fill="#c0d4ea"/>
<rect x="237.20" y="117.2" width="1.15" height="10.80" fill="#c3d6eb"/>
<rect x="238.10" y="117.2" width="1.15" height="10.80" fill="#b3cdea"/>
<rect x="239.00" y="117.2" width="1.25" height="10.80" fill="#bbd1ea"/>
<rect x="240.00" y="117.2" width="1.25" height="10.80" fill="#afcae9"/>
<rect x="241.00" y="117.2" width="1.75" height="10.80" fill="#c0d4eb"/>
<rect x="242.50" y="117.2" width="1.75" height="10.80" fill="#c1d5eb"/>
<rect x="244.00" y="117.2" width="1.25" height="10.80" fill="#b5ceea"/>
<rect x="245.00" y="117.2" width="1.25" height="10.80" fill="#cedceb"/>
<rect x="246.00" y="117.2" width="1.25" height="10.80" fill="#afcbe9"/>
<rect x="247.00" y="117.2" width="0.95" height="10.80" fill="#c2d5eb"/>
<rect x="247.70" y="117.2" width="1.75" height="10.80" fill="#c6d7eb"/>
<rect x="249.20" y="117.2" width="1.25" height="10.80" fill="#bcd2ea"/>
<rect x="250.20" y="117.2" width="1.25" height="10.80" fill="#d5e0ec"/>
<rect x="251.20" y="117.2" width="1.25" height="10.80" fill="#c8d9eb"/>
<rect x="252.20" y="117.2" width="1.15" height="10.80" fill="#b5ceea"/>
<rect x="253.10" y="117.2" width="1.45" height="10.80" fill="#bed3ea"/>
<rect x="254.30" y="117.2" width="0.95" height="10.80" fill="#bcd2ea"/>
<rect x="255.00" y="117.2" width="0.95" height="10.80" fill="#b9d0ea"/>
<rect x="255.70" y="117.2" width="1.75" height="10.80" fill="#bcd2ea"/>
<rect x="257.20" y="117.2" width="1.45" height="10.80" fill="#d0ddec"/>
<rect x="258.40" y="117.2" width="1.15" height="10.80" fill="#c5d7eb"/>
<rect x="259.30" y="117.2" width="1.25" height="10.80" fill="#bad1ea"/>
<rect x="260.30" y="117.2" width="1.25" height="10.80" fill="#c2d5eb"/>
<rect x="261.30" y="117.2" width="1.25" height="10.80" fill="#b8d0ea"/>
<rect x="262.30" y="117.2" width="0.35" height="10.80" fill="#cddbeb"/>
<rect x="271.00" y="56" width="1.45" height="10.50" fill="#efab6d"/>
<rect x="272.20" y="56" width="0.95" height="10.50" fill="#f1c49b"/>
<rect x="272.90" y="56" width="1.75" height="10.50" fill="#f1cba8"/>
<rect x="274.40" y="56" width="1.25" height="10.50" fill="#f0b682"/>
<rect x="275.40" y="56" width="1.45" height="10.50" fill="#efae73"/>
<rect x="276.60" y="56" width="0.95" height="10.50" fill="#f0bb8b"/>
<rect x="277.30" y="56" width="0.95" height="10.50" fill="#f1c49c"/>
<rect x="278.00" y="56" width="1.45" height="10.50" fill="#f0b47e"/>
<rect x="279.20" y="56" width="1.15" height="10.50" fill="#f0b57f"/>
<rect x="280.10" y="56" width="1.25" height="10.50" fill="#f0be90"/>
<rect x="281.10" y="56" width="1.25" height="10.50" fill="#f0bb8a"/>
<rect x="282.10" y="56" width="1.15" height="10.50" fill="#f0bd8e"/>
<rect x="283.00" y="56" width="1.15" height="10.50" fill="#f0c196"/>
<rect x="283.90" y="56" width="1.45" height="10.50" fill="#f1c6a0"/>
<rect x="285.10" y="56" width="1.15" height="10.50" fill="#f1c39a"/>
<rect x="286.00" y="56" width="1.25" height="10.50" fill="#f1c69f"/>
<rect x="287.00" y="56" width="1.75" height="10.50" fill="#f0b886"/>
<rect x="288.50" y="56" width="1.25" height="10.50" fill="#f0b682"/>
<rect x="289.50" y="56" width="1.25" height="10.50" fill="#f1c298"/>
<rect x="290.50" y="56" width="1.75" height="10.50" fill="#f0b076"/>
<rect x="292.00" y="56" width="1.75" height="10.50" fill="#f0b580"/>
<rect x="293.50" y="56" width="1.75" height="10.50" fill="#f0af75"/>
<rect x="295.00" y="56" width="1.75" height="10.50" fill="#f0b986"/>
<rect x="296.50" y="56" width="1.75" height="10.50" fill="#f0b47d"/>
<rect x="298.00" y="56" width="0.95" height="10.50" fill="#f0be90"/>
<rect x="298.70" y="56" width="0.55" height="10.50" fill="#f1c9a5"/>
<rect x="271.00" y="68.6" width="1.15" height="10.00" fill="#f1ccab"/>
<rect x="271.90" y="68.6" width="0.95" height="10.00" fill="#f1ccaa"/>
<rect x="272.60" y="68.6" width="1.15" height="10.00" fill="#f1c59e"/>
<rect x="273.50" y="68.6" width="1.25" height="10.00" fill="#f1c39a"/>
<rect x="274.50" y="68.6" width="1.25" height="10.00" fill="#f1c7a1"/>
<rect x="275.50" y="68.6" width="1.25" height="10.00" fill="#f1ccab"/>
<rect x="276.50" y="68.6" width="1.15" height="10.00" fill="#f1d9c3"/>
<rect x="277.40" y="68.6" width="1.25" height="10.00" fill="#f1d6be"/>
<rect x="278.40" y="68.6" width="1.45" height="10.00" fill="#f1caa7"/>
<rect x="279.60" y="68.6" width="0.95" height="10.00" fill="#f1cba8"/>
<rect x="280.30" y="68.6" width="1.25" height="10.00" fill="#f1d4ba"/>
<rect x="281.30" y="68.6" width="1.25" height="10.00" fill="#f1dac6"/>
<rect x="282.30" y="68.6" width="1.45" height="10.00" fill="#f0b886"/>
<rect x="283.50" y="68.6" width="1.25" height="10.00" fill="#f0c197"/>
<rect x="284.50" y="68.6" width="0.95" height="10.00" fill="#f1d0b2"/>
<rect x="285.20" y="68.6" width="1.25" height="10.00" fill="#f1c9a5"/>
<rect x="286.20" y="68.6" width="1.15" height="10.00" fill="#f0c196"/>
<rect x="287.10" y="68.6" width="1.45" height="10.00" fill="#f1caa7"/>
<rect x="288.30" y="68.6" width="0.95" height="10.00" fill="#f1cfaf"/>
<rect x="289.00" y="68.6" width="1.25" height="10.00" fill="#f1d1b4"/>
<rect x="290.00" y="68.6" width="1.45" height="10.00" fill="#f1e0d0"/>
<rect x="291.20" y="68.6" width="1.45" height="10.00" fill="#f1c7a1"/>
<rect x="292.40" y="68.6" width="0.95" height="10.00" fill="#f1ccaa"/>
<rect x="293.10" y="68.6" width="0.95" height="10.00" fill="#f1c7a1"/>
<rect x="293.80" y="68.6" width="1.45" height="10.00" fill="#f0bc8c"/>
<rect x="295.00" y="68.6" width="1.75" height="10.00" fill="#f1c49c"/>
<rect x="296.50" y="68.6" width="1.45" height="10.00" fill="#f1caa7"/>
<rect x="297.70" y="68.6" width="1.45" height="10.00" fill="#f1d1b5"/>
<rect x="298.90" y="68.6" width="0.35" height="10.00" fill="#f1caa8"/>
<rect x="271.00" y="78.6" width="1.75" height="10.20" fill="#f1ccaa"/>
<rect x="272.50" y="78.6" width="0.95" height="10.20" fill="#f1d6bd"/>
<rect x="273.20" y="78.6" width="1.15" height="10.20" fill="#f0b988"/>
<rect x="274.10" y="78.6" width="1.75" height="10.20" fill="#f1c298"/>
<rect x="275.60" y="78.6" width="1.15" height="10.20" fill="#f0c196"/>
<rect x="276.50" y="78.6" width="0.95" height="10.20" fill="#f1c298"/>
<rect x="277.20" y="78.6" width="1.25" height="10.20" fill="#f1c298"/>
<rect x="278.20" y="78.6" width="1.75" height="10.20" fill="#f1d8c2"/>
<rect x="279.70" y="78.6" width="0.95" height="10.20" fill="#f1d0b2"/>
<rect x="280.40" y="78.6" width="1.25" height="10.20" fill="#f0b988"/>
<rect x="281.40" y="78.6" width="1.45" height="10.20" fill="#f1caa6"/>
<rect x="282.60" y="78.6" width="1.15" height="10.20" fill="#f1d6bd"/>
<rect x="283.50" y="78.6" width="1.25" height="10.20" fill="#f1c39b"/>
<rect x="284.50" y="78.6" width="1.45" height="10.20" fill="#f1c59d"/>
<rect x="285.70" y="78.6" width="1.75" height="10.20" fill="#f1d6be"/>
<rect x="287.20" y="78.6" width="1.25" height="10.20" fill="#f1ceaf"/>
<rect x="288.20" y="78.6" width="1.45" height="10.20" fill="#f1d5bc"/>
<rect x="289.40" y="78.6" width="1.25" height="10.20" fill="#f1c7a2"/>
<rect x="290.40" y="78.6" width="1.45" height="10.20" fill="#f1c8a3"/>
<rect x="291.60" y="78.6" width="0.95" height="10.20" fill="#f1ceae"/>
<rect x="292.30" y="78.6" width="0.95" height="10.20" fill="#f1caa7"/>
<rect x="293.00" y="78.6" width="1.75" height="10.20" fill="#f1d0b2"/>
<rect x="294.50" y="78.6" width="1.15" height="10.20" fill="#f1ceaf"/>
<rect x="295.40" y="78.6" width="0.95" height="10.20" fill="#f1c49b"/>
<rect x="296.10" y="78.6" width="0.95" height="10.20" fill="#f1c9a5"/>
<rect x="296.80" y="78.6" width="1.15" height="10.20" fill="#f1caa7"/>
<rect x="297.70" y="78.6" width="1.55" height="10.20" fill="#f1c49c"/>
<rect x="271.00" y="94.8" width="1.75" height="10.20" fill="#619ee0"/>
<rect x="272.50" y="94.8" width="1.75" height="10.20" fill="#72a7e2"/>
<rect x="274.00" y="94.8" width="0.95" height="10.20" fill="#71a7e2"/>
<rect x="274.70" y="94.8" width="1.15" height="10.20" fill="#649fe0"/>
<rect x="275.60" y="94.8" width="0.95" height="10.20" fill="#5e9cdf"/>
<rect x="276.30" y="94.8" width="1.25" height="10.20" fill="#609ddf"/>
<rect x="277.30" y="94.8" width="1.75" height="10.20" fill="#5b9adf"/>
<rect x="278.80" y="94.8" width="1.75" height="10.20" fill="#629ee0"/>
<rect x="280.30" y="94.8" width="1.75" height="10.20" fill="#649fe0"/>
<rect x="281.80" y="94.8" width="1.75" height="10.20" fill="#5f9ddf"/>
<rect x="283.30" y="94.8" width="0.95" height="10.20" fill="#5c9bdf"/>
<rect x="284.00" y="94.8" width="1.25" height="10.20" fill="#5898de"/>
<rect x="285.00" y="94.8" width="1.25" height="10.20" fill="#5798de"/>
<rect x="286.00" y="94.8" width="1.75" height="10.20" fill="#67a1e0"/>
<rect x="287.50" y="94.8" width="0.95" height="10.20" fill="#5e9cdf"/>
<rect x="288.20" y="94.8" width="1.75" height="10.20" fill="#649fe0"/>
<rect x="289.70" y="94.8" width="1.75" height="10.20" fill="#629ee0"/>
<rect x="291.20" y="94.8" width="1.75" height="10.20" fill="#639ee0"/>
<rect x="292.70" y="94.8" width="1.25" height="10.20" fill="#5e9cdf"/>
<rect x="293.70" y="94.8" width="1.25" height="10.20" fill="#609ddf"/>
<rect x="294.70" y="94.8" width="1.25" height="10.20" fill="#5c9adf"/>
<rect x="295.70" y="94.8" width="1.45" height="10.20" fill="#69a2e1"/>
<rect x="296.90" y="94.8" width="1.45" height="10.20" fill="#649fe0"/>
<rect x="298.10" y="94.8" width="1.15" height="10.20" fill="#5596de"/>
<rect x="271.00" y="107" width="1.15" height="10.20" fill="#c5d7eb"/>
<rect x="271.90" y="107" width="0.95" height="10.20" fill="#b3cdea"/>
<rect x="272.60" y="107" width="1.75" height="10.20" fill="#ccdbeb"/>
<rect x="274.10" y="107" width="1.25" height="10.20" fill="#aac8e9"/>
<rect x="275.10" y="107" width="1.25" height="10.20" fill="#c1d5eb"/>
<rect x="276.10" y="107" width="1.25" height="10.20" fill="#c2d5eb"/>
<rect x="277.10" y="107" width="1.25" height="10.20" fill="#afcbe9"/>
<rect x="278.10" y="107" width="1.25" height="10.20" fill="#dde4ed"/>
<rect x="279.10" y="107" width="1.75" height="10.20" fill="#cadaeb"/>
<rect x="280.60" y="107" width="1.45" height="10.20" fill="#b6cfea"/>
<rect x="281.80" y="107" width="0.95" height="10.20" fill="#cddbeb"/>
<rect x="282.50" y="107" width="1.15" height="10.20" fill="#b6cfea"/>
<rect x="283.40" y="107" width="1.25" height="10.20" fill="#b8d0ea"/>
<rect x="284.40" y="107" width="1.15" height="10.20" fill="#b1cce9"/>
<rect x="285.30" y="107" width="1.45" height="10.20" fill="#cbdaeb"/>
<rect x="286.50" y="107" width="1.15" height="10.20" fill="#c2d5eb"/>
<rect x="287.40" y="107" width="0.95" height="10.20" fill="#b5ceea"/>
<rect x="288.10" y="107" width="1.25" height="10.20" fill="#bdd3ea"/>
<rect x="289.10" y="107" width="1.45" height="10.20" fill="#cbdaeb"/>
<rect x="290.30" y="107" width="0.95" height="10.20" fill="#bdd2ea"/>
<rect x="291.00" y="107" width="1.45" height="10.20" fill="#c5d7eb"/>
<rect x="292.20" y="107" width="1.15" height="10.20" fill="#bbd1ea"/>
<rect x="293.10" y="107" width="1.45" height="10.20" fill="#d6e0ec"/>
<rect x="294.30" y="107" width="1.75" height="10.20" fill="#c1d5eb"/>
<rect x="295.80" y="107" width="1.45" height="10.20" fill="#b0cbe9"/>
<rect x="297.00" y="107" width="0.95" height="10.20" fill="#b1cce9"/>
<rect x="297.70" y="107" width="1.25" height="10.20" fill="#bbd1ea"/>
<rect x="298.70" y="107" width="0.55" height="10.20" fill="#c3d6eb"/>
<rect x="271.00" y="117.2" width="1.15" height="10.80" fill="#dfe6ed"/>
<rect x="271.90" y="117.2" width="1.25" height="10.80" fill="#e4e8ed"/>
<rect x="272.90" y="117.2" width="1.25" height="10.80" fill="#e7eaed"/>
<rect x="273.90" y="117.2" width="1.75" height="10.80" fill="#f2eeeb"/>
<rect x="275.40" y="117.2" width="0.95" height="10.80" fill="#f2eae2"/>
<rect x="276.10" y="117.2" width="1.25" height="10.80" fill="#ededee"/>
<rect x="277.10" y="117.2" width="1.25" height="10.80" fill="#f2efec"/>
<rect x="278.10" y="117.2" width="0.95" height="10.80" fill="#f2efec"/>
<rect x="278.80" y="117.2" width="1.25" height="10.80" fill="#f2e5d9"/>
<rect x="279.80" y="117.2" width="1.45" height="10.80" fill="#ecedee"/>
<rect x="281.00" y="117.2" width="1.15" height="10.80" fill="#f2e7dd"/>
<rect x="281.90" y="117.2" width="1.15" height="10.80" fill="#f2efec"/>
<rect x="282.80" y="117.2" width="1.75" height="10.80" fill="#f2ece7"/>
<rect x="284.30" y="117.2" width="1.25" height="10.80" fill="#e8eaed"/>
<rect x="285.30" y="117.2" width="1.25" height="10.80" fill="#f2e8de"/>
<rect x="286.30" y="117.2" width="1.45" height="10.80" fill="#f2ece6"/>
<rect x="287.50" y="117.2" width="1.25" height="10.80" fill="#ebecee"/>
<rect x="288.50" y="117.2" width="1.25" height="10.80" fill="#f2eae4"/>
<rect x="289.50" y="117.2" width="1.25" height="10.80" fill="#e9ebed"/>
<rect x="290.50" y="117.2" width="0.95" height="10.80" fill="#f2e9e2"/>
<rect x="291.20" y="117.2" width="1.25" height="10.80" fill="#f2e6dc"/>
<rect x="292.20" y="117.2" width="1.25" height="10.80" fill="#f0efee"/>
<rect x="293.20" y="117.2" width="0.95" height="10.80" fill="#f2f0ee"/>
<rect x="293.90" y="117.2" width="1.15" height="10.80" fill="#f1dfcd"/>
<rect x="294.80" y="117.2" width="1.25" height="10.80" fill="#f1efee"/>
<rect x="295.80" y="117.2" width="1.45" height="10.80" fill="#e9ebed"/>
<rect x="297.00" y="117.2" width="1.25" height="10.80" fill="#eeeeee"/>
<rect x="298.00" y="117.2" width="1.25" height="10.80" fill="#f2e8e0"/>
<rect x="303.40" y="56" width="1.45" height="10.50" fill="#f2e4d7"/>
<rect x="304.60" y="56" width="1.45" height="10.50" fill="#f2e3d5"/>
<rect x="305.80" y="56" width="0.95" height="10.50" fill="#f2ebe4"/>
<rect x="306.50" y="56" width="1.25" height="10.50" fill="#f2e8de"/>
<rect x="307.50" y="56" width="0.95" height="10.50" fill="#f2e4d7"/>
<rect x="308.20" y="56" width="0.95" height="10.50" fill="#f1dfce"/>
<rect x="308.90" y="56" width="1.75" height="10.50" fill="#f2e6db"/>
<rect x="310.40" y="56" width="1.25" height="10.50" fill="#e4e8ed"/>
<rect x="311.40" y="56" width="0.95" height="10.50" fill="#f2e8df"/>
<rect x="312.10" y="56" width="1.45" height="10.50" fill="#eaeced"/>
<rect x="313.30" y="56" width="1.75" height="10.50" fill="#e7eaed"/>
<rect x="314.80" y="56" width="0.95" height="10.50" fill="#f2eae2"/>
<rect x="315.50" y="56" width="1.75" height="10.50" fill="#f1decc"/>
<rect x="317.00" y="56" width="0.95" height="10.50" fill="#f1ddca"/>
<rect x="317.70" y="56" width="1.25" height="10.50" fill="#f2ede8"/>
<rect x="318.70" y="56" width="1.15" height="10.50" fill="#f2eeea"/>
<rect x="319.60" y="56" width="1.15" height="10.50" fill="#f2e8de"/>
<rect x="320.50" y="56" width="1.75" height="10.50" fill="#f2e9e0"/>
<rect x="322.00" y="56" width="1.25" height="10.50" fill="#f2e7dd"/>
<rect x="323.00" y="56" width="1.25" height="10.50" fill="#f1dfce"/>
<rect x="324.00" y="56" width="0.95" height="10.50" fill="#f2e5da"/>
<rect x="324.70" y="56" width="0.95" height="10.50" fill="#f2eae2"/>
<rect x="325.40" y="56" width="1.75" height="10.50" fill="#f1dfce"/>
<rect x="326.90" y="56" width="1.75" height="10.50" fill="#f2e8e0"/>
<rect x="328.40" y="56" width="0.95" height="10.50" fill="#eeeeee"/>
<rect x="329.10" y="56" width="1.15" height="10.50" fill="#f2eae2"/>
<rect x="330.00" y="56" width="1.15" height="10.50" fill="#f2e8e0"/>
<rect x="330.90" y="56" width="1.75" height="10.50" fill="#f2e9e1"/>
<rect x="332.40" y="56" width="1.25" height="10.50" fill="#ebecee"/>
<rect x="333.40" y="56" width="1.75" height="10.50" fill="#f2e3d6"/>
<rect x="334.90" y="56" width="1.25" height="10.50" fill="#f2e4d8"/>
<rect x="335.90" y="56" width="1.25" height="10.50" fill="#f2e2d4"/>
<rect x="336.90" y="56" width="1.15" height="10.50" fill="#f2e2d4"/>
<rect x="337.80" y="56" width="1.25" height="10.50" fill="#f2e9e1"/>
<rect x="338.80" y="56" width="1.75" height="10.50" fill="#f2e4d8"/>
<rect x="340.30" y="56" width="0.95" height="10.50" fill="#e1e7ed"/>
<rect x="341.00" y="56" width="0.95" height="10.50" fill="#f2e5da"/>
<rect x="341.70" y="56" width="1.15" height="10.50" fill="#f2e4d7"/>
<rect x="342.60" y="56" width="1.45" height="10.50" fill="#f2ece6"/>
<rect x="343.80" y="56" width="1.25" height="10.50" fill="#f2e6da"/>
<rect x="344.80" y="56" width="1.25" height="10.50" fill="#f2ece7"/>
<rect x="345.80" y="56" width="0.65" height="10.50" fill="#f2e2d3"/>
<rect x="303.40" y="68.6" width="0.95" height="10.00" fill="#ccdbeb"/>
<rect x="304.10" y="68.6" width="1.75" height="10.00" fill="#eeeeee"/>
<rect x="305.60" y="68.6" width="1.25" height="10.00" fill="#e0e6ed"/>
<rect x="306.60" y="68.6" width="1.15" height="10.00" fill="#c1d4eb"/>
<rect x="307.50" y="68.6" width="1.15" height="10.00" fill="#d4dfec"/>
<rect x="308.40" y="68.6" width="1.25" height="10.00" fill="#d2deec"/>
<rect x="309.40" y="68.6" width="1.75" height="10.00" fill="#d5e0ec"/>
<rect x="310.90" y="68.6" width="1.25" height="10.00" fill="#cbdaeb"/>
<rect x="311.90" y="68.6" width="1.15" height="10.00" fill="#cfddec"/>
<rect x="312.80" y="68.6" width="1.25" height="10.00" fill="#c9d9eb"/>
<rect x="313.80" y="68.6" width="0.95" height="10.00" fill="#d6e0ec"/>
<rect x="314.50" y="68.6" width="1.25" height="10.00" fill="#c8d9eb"/>
<rect x="315.50" y="68.6" width="1.15" height="10.00" fill="#cddbeb"/>
<rect x="316.40" y="68.6" width="1.25" height="10.00" fill="#c7d8eb"/>
<rect x="317.40" y="68.6" width="1.25" height="10.00" fill="#d2deec"/>
<rect x="318.40" y="68.6" width="0.95" height="10.00" fill="#dae2ec"/>
<rect x="319.10" y="68.6" width="1.75" height="10.00" fill="#dde4ed"/>
<rect x="320.60" y="68.6" width="1.75" height="10.00" fill="#dfe5ed"/>
<rect x="322.10" y="68.6" width="1.25" height="10.00" fill="#cadaeb"/>
<rect x="323.10" y="68.6" width="0.95" height="10.00" fill="#d1deec"/>
<rect x="323.80" y="68.6" width="1.25" height="10.00" fill="#d9e2ec"/>
<rect x="324.80" y="68.6" width="1.25" height="10.00" fill="#f2e9e1"/>
<rect x="325.80" y="68.6" width="1.15" height="10.00" fill="#cfdcec"/>
<rect x="326.70" y="68.6" width="0.95" height="10.00" fill="#c8d8eb"/>
<rect x="327.40" y="68.6" width="1.15" height="10.00" fill="#d9e2ec"/>
<rect x="328.30" y="68.6" width="0.95" height="10.00" fill="#e2e7ed"/>
<rect x="329.00" y="68.6" width="1.15" height="10.00" fill="#b4ceea"/>
<rect x="329.90" y="68.6" width="1.75" height="10.00" fill="#e7eaed"/>
<rect x="331.40" y="68.6" width="1.25" height="10.00" fill="#d4dfec"/>
<rect x="332.40" y="68.6" width="1.45" height="10.00" fill="#d2deec"/>
<rect x="333.60" y="68.6" width="1.45" height="10.00" fill="#d2deec"/>
<rect x="334.80" y="68.6" width="1.25" height="10.00" fill="#d6e1ec"/>
<rect x="335.80" y="68.6" width="1.25" height="10.00" fill="#dde4ed"/>
<rect x="336.80" y="68.6" width="1.15" height="10.00" fill="#d0ddec"/>
<rect x="337.70" y="68.6" width="1.15" height="10.00" fill="#d9e2ec"/>
<rect x="338.60" y="68.6" width="1.45" height="10.00" fill="#d4dfec"/>
<rect x="339.80" y="68.6" width="1.15" height="10.00" fill="#bed3ea"/>
<rect x="340.70" y="68.6" width="1.45" height="10.00" fill="#d6e0ec"/>
<rect x="341.90" y="68.6" width="1.45" height="10.00" fill="#d4dfec"/>
<rect x="343.10" y="68.6" width="1.75" height="10.00" fill="#c8d8eb"/>
<rect x="344.60" y="68.6" width="1.15" height="10.00" fill="#d2deec"/>
<rect x="345.50" y="68.6" width="0.95" height="10.00" fill="#c3d6eb"/>
<rect x="303.40" y="78.6" width="1.15" height="10.20" fill="#b5ceea"/>
<rect x="304.30" y="78.6" width="1.45" height="10.20" fill="#c0d4eb"/>
<rect x="305.50" y="78.6" width="1.75" height="10.20" fill="#c3d6eb"/>
<rect x="307.00" y="78.6" width="1.75" height="10.20" fill="#aac8e9"/>
<rect x="308.50" y="78.6" width="0.95" height="10.20" fill="#bed3ea"/>
<rect x="309.20" y="78.6" width="1.45" height="10.20" fill="#c5d7eb"/>
<rect x="310.40" y="78.6" width="1.75" height="10.20" fill="#b7cfea"/>
<rect x="311.90" y="78.6" width="1.25" height="10.20" fill="#cbdaeb"/>
<rect x="312.90" y="78.6" width="1.25" height="10.20" fill="#c8d8eb"/>
<rect x="313.90" y="78.6" width="1.15" height="10.20" fill="#c8d8eb"/>
<rect x="314.80" y="78.6" width="1.15" height="10.20" fill="#bad1ea"/>
<rect x="315.70" y="78.6" width="1.45" height="10.20" fill="#c7d8eb"/>
<rect x="316.90" y="78.6" width="1.15" height="10.20" fill="#b7cfea"/>
<rect x="317.80" y="78.6" width="1.75" height="10.20" fill="#b6ceea"/>
<rect x="319.30" y="78.6" width="0.95" height="10.20" fill="#cddbeb"/>
<rect x="320.00" y="78.6" width="1.25" height="10.20" fill="#b4cdea"/>
<rect x="321.00" y="78.6" width="1.45" height="10.20" fill="#bfd4ea"/>
<rect x="322.20" y="78.6" width="0.95" height="10.20" fill="#cfdcec"/>
<rect x="322.90" y="78.6" width="1.25" height="10.20" fill="#cedceb"/>
<rect x="323.90" y="78.6" width="1.75" height="10.20" fill="#ccdbeb"/>
<rect x="325.40" y="78.6" width="0.95" height="10.20" fill="#b5ceea"/>
<rect x="326.10" y="78.6" width="1.25" height="10.20" fill="#d6e0ec"/>
<rect x="327.10" y="78.6" width="1.25" height="10.20" fill="#acc9e9"/>
<rect x="328.10" y="78.6" width="1.25" height="10.20" fill="#b2ccea"/>
<rect x="329.10" y="78.6" width="1.45" height="10.20" fill="#c0d4ea"/>
<rect x="330.30" y="78.6" width="1.15" height="10.20" fill="#e0e6ed"/>
<rect x="331.20" y="78.6" width="1.15" height="10.20" fill="#c5d7eb"/>
<rect x="332.10" y="78.6" width="1.45" height="10.20" fill="#c3d6eb"/>
<rect x="333.30" y="78.6" width="1.25" height="10.20" fill="#c6d7eb"/>
<rect x="334.30" y="78.6" width="1.45" height="10.20" fill="#c2d5eb"/>
<rect x="335.50" y="78.6" width="0.95" height="10.20" fill="#bed3ea"/>
<rect x="336.20" y="78.6" width="1.75" height="10.20" fill="#c0d4eb"/>
<rect x="337.70" y="78.6" width="1.45" height="10.20" fill="#b8cfea"/>
<rect x="338.90" y="78.6" width="1.75" height="10.20" fill="#b4cdea"/>
<rect x="340.40" y="78.6" width="1.75" height="10.20" fill="#bad1ea"/>
<rect x="341.90" y="78.6" width="1.25" height="10.20" fill="#d4dfec"/>
<rect x="342.90" y="78.6" width="1.75" height="10.20" fill="#d0ddec"/>
<rect x="344.40" y="78.6" width="1.15" height="10.20" fill="#c7d8eb"/>
<rect x="345.30" y="78.6" width="1.15" height="10.20" fill="#c3d6eb"/>
<rect x="303.40" y="94.8" width="1.45" height="10.20" fill="#eb8830"/>
<rect x="304.60" y="94.8" width="0.95" height="10.20" fill="#ea8429"/>
<rect x="305.30" y="94.8" width="0.95" height="10.20" fill="#ea862d"/>
<rect x="306.00" y="94.8" width="1.45" height="10.20" fill="#ea8227"/>
<rect x="307.20" y="94.8" width="1.15" height="10.20" fill="#ea8226"/>
<rect x="308.10" y="94.8" width="1.45" height="10.20" fill="#ea862d"/>
<rect x="309.30" y="94.8" width="1.25" height="10.20" fill="#ea8429"/>
<rect x="310.30" y="94.8" width="0.95" height="10.20" fill="#ea872e"/>
<rect x="311.00" y="94.8" width="1.75" height="10.20" fill="#eb8830"/>
<rect x="312.50" y="94.8" width="1.45" height="10.20" fill="#ea8023"/>
<rect x="313.70" y="94.8" width="1.45" height="10.20" fill="#e87713"/>
<rect x="314.90" y="94.8" width="0.95" height="10.20" fill="#ea8124"/>
<rect x="315.60" y="94.8" width="1.25" height="10.20" fill="#ea862d"/>
<rect x="316.60" y="94.8" width="1.25" height="10.20" fill="#ea8124"/>
<rect x="317.60" y="94.8" width="1.75" height="10.20" fill="#ec9040"/>
<rect x="319.10" y="94.8" width="1.25" height="10.20" fill="#e97e20"/>
<rect x="320.10" y="94.8" width="1.25" height="10.20" fill="#ea8328"/>
<rect x="321.10" y="94.8" width="1.45" height="10.20" fill="#ea852c"/>
<rect x="322.30" y="94.8" width="1.15" height="10.20" fill="#e97816"/>
<rect x="323.20" y="94.8" width="1.15" height="10.20" fill="#ea872e"/>
<rect x="324.10" y="94.8" width="1.25" height="10.20" fill="#ea842a"/>
<rect x="325.10" y="94.8" width="0.95" height="10.20" fill="#ea842a"/>
<rect x="325.80" y="94.8" width="1.45" height="10.20" fill="#ea8226"/>
<rect x="327.00" y="94.8" width="1.15" height="10.20" fill="#e98022"/>
<rect x="327.90" y="94.8" width="1.45" height="10.20" fill="#ea852c"/>
<rect x="329.10" y="94.8" width="1.25" height="10.20" fill="#ea872f"/>
<rect x="330.10" y="94.8" width="1.25" height="10.20" fill="#ea8226"/>
<rect x="331.10" y="94.8" width="1.75" height="10.20" fill="#eb8f3d"/>
<rect x="332.60" y="94.8" width="0.95" height="10.20" fill="#ea8023"/>
<rect x="333.30" y="94.8" width="0.95" height="10.20" fill="#eb8d3a"/>
<rect x="334.00" y="94.8" width="0.95" height="10.20" fill="#e97f21"/>
<rect x="334.70" y="94.8" width="1.75" height="10.20" fill="#eb8932"/>
<rect x="336.20" y="94.8" width="1.45" height="10.20" fill="#ea852b"/>
<rect x="337.40" y="94.8" width="0.95" height="10.20" fill="#e97d1f"/>
<rect x="338.10" y="94.8" width="1.45" height="10.20" fill="#ea8226"/>
<rect x="339.30" y="94.8" width="0.95" height="10.20" fill="#ea8227"/>
<rect x="340.00" y="94.8" width="1.25" height="10.20" fill="#ea8429"/>
<rect x="341.00" y="94.8" width="0.95" height="10.20" fill="#ea8227"/>
<rect x="341.70" y="94.8" width="1.25" height="10.20" fill="#ea852c"/>
<rect x="342.70" y="94.8" width="0.95" height="10.20" fill="#ea8125"/>
<rect x="343.40" y="94.8" width="1.45" height="10.20" fill="#e97916"/>
<rect x="344.60" y="94.8" width="1.25" height="10.20" fill="#ea862e"/>
<rect x="345.60" y="94.8" width="0.85" height="10.20" fill="#eb8a34"/>
<rect x="303.40" y="107" width="1.15" height="10.20" fill="#e6eaed"/>
<rect x="304.30" y="107" width="1.25" height="10.20" fill="#e8eaed"/>
<rect x="305.30" y="107" width="1.25" height="10.20" fill="#e8eaed"/>
<rect x="306.30" y="107" width="1.25" height="10.20" fill="#dbe3ec"/>
<rect x="307.30" y="107" width="1.75" height="10.20" fill="#dfe5ed"/>
<rect x="308.80" y="107" width="0.95" height="10.20" fill="#e3e8ed"/>
<rect x="309.50" y="107" width="1.25" height="10.20" fill="#d9e2ec"/>
<rect x="310.50" y="107" width="1.45" height="10.20" fill="#e0e6ed"/>
<rect x="311.70" y="107" width="1.25" height="10.20" fill="#dbe3ec"/>
<rect x="312.70" y="107" width="1.15" height="10.20" fill="#d8e2ec"/>
<rect x="313.60" y="107" width="1.45" height="10.20" fill="#e0e6ed"/>
<rect x="314.80" y="107" width="1.25" height="10.20" fill="#d9e2ec"/>
<rect x="315.80" y="107" width="1.25" height="10.20" fill="#dbe3ec"/>
<rect x="316.80" y="107" width="0.95" height="10.20" fill="#e4e8ed"/>
<rect x="317.50" y="107" width="1.45" height="10.20" fill="#ecedee"/>
<rect x="318.70" y="107" width="1.45" height="10.20" fill="#d8e1ec"/>
<rect x="319.90" y="107" width="0.95" height="10.20" fill="#eeeeee"/>
<rect x="320.60" y="107" width="1.25" height="10.20" fill="#f2efed"/>
<rect x="321.60" y="107" width="1.25" height="10.20" fill="#f2e8e0"/>
<rect x="322.60" y="107" width="1.45" height="10.20" fill="#dfe5ed"/>
<rect x="323.80" y="107" width="1.15" height="10.20" fill="#ecedee"/>
<rect x="324.70" y="107" width="1.25" height="10.20" fill="#e6e9ed"/>
<rect x="325.70" y="107" width="1.45" height="10.20" fill="#e4e8ed"/>
<rect x="326.90" y="107" width="0.95" height="10.20" fill="#dbe3ec"/>
<rect x="327.60" y="107" width="1.75" height="10.20" fill="#dde4ed"/>
<rect x="329.10" y="107" width="0.95" height="10.20" fill="#cddbeb"/>
<rect x="329.80" y="107" width="1.25" height="10.20" fill="#e1e6ed"/>
<rect x="330.80" y="107" width="1.75" height="10.20" fill="#e5e8ed"/>
<rect x="332.30" y="107" width="1.75" height="10.20" fill="#d5e0ec"/>
<rect x="333.80" y="107" width="1.75" height="10.20" fill="#efeeee"/>
<rect x="335.30" y="107" width="1.75" height="10.20" fill="#dee5ed"/>
<rect x="336.80" y="107" width="1.25" height="10.20" fill="#e9ebed"/>
<rect x="337.80" y="107" width="1.45" height="10.20" fill="#eaebed"/>
<rect x="339.00" y="107" width="1.25" height="10.20" fill="#eaebed"/>
<rect x="340.00" y="107" width="1.75" height="10.20" fill="#d6e1ec"/>
<rect x="341.50" y="107" width="1.75" height="10.20" fill="#f2e1d3"/>
<rect x="343.00" y="107" width="1.25" height="10.20" fill="#d1ddec"/>
<rect x="344.00" y="107" width="1.75" height="10.20" fill="#dde4ed"/>
<rect x="345.50" y="107" width="0.95" height="10.20" fill="#cad9eb"/>
<rect x="303.40" y="117.2" width="1.25" height="10.80" fill="#aecae9"/>
<rect x="304.40" y="117.2" width="1.45" height="10.80" fill="#acc9e9"/>
<rect x="305.60" y="117.2" width="1.45" height="10.80" fill="#b6cfea"/>
<rect x="306.80" y="117.2" width="1.45" height="10.80" fill="#b5ceea"/>
<rect x="308.00" y="117.2" width="1.15" height="10.80" fill="#9bbfe8"/>
<rect x="308.90" y="117.2" width="1.45" height="10.80" fill="#b8cfea"/>
<rect x="310.10" y="117.2" width="1.45" height="10.80" fill="#bfd4ea"/>
<rect x="311.30" y="117.2" width="1.75" height="10.80" fill="#bcd2ea"/>
<rect x="312.80" y="117.2" width="1.25" height="10.80" fill="#abc8e9"/>
<rect x="313.80" y="117.2" width="1.25" height="10.80" fill="#b8d0ea"/>
<rect x="314.80" y="117.2" width="1.25" height="10.80" fill="#9dc1e8"/>
<rect x="315.80" y="117.2" width="1.75" height="10.80" fill="#abc8e9"/>
<rect x="317.30" y="117.2" width="1.25" height="10.80" fill="#c1d5eb"/>
<rect x="318.30" y="117.2" width="1.25" height="10.80" fill="#aecae9"/>
<rect x="319.30" y="117.2" width="1.25" height="10.80" fill="#a6c6e9"/>
<rect x="320.30" y="117.2" width="1.25" height="10.80" fill="#b0cbe9"/>
<rect x="321.30" y="117.2" width="1.15" height="10.80" fill="#a2c4e8"/>
<rect x="322.20" y="117.2" width="1.15" height="10.80" fill="#b2ccea"/>
<rect x="323.10" y="117.2" width="0.95" height="10.80" fill="#b2ccea"/>
<rect x="323.80" y="117.2" width="1.45" height="10.80" fill="#a3c4e9"/>
<rect x="325.00" y="117.2" width="1.15" height="10.80" fill="#b5ceea"/>
<rect x="325.90" y="117.2" width="1.25" height="10.80" fill="#abc8e9"/>
<rect x="326.90" y="117.2" width="0.95" height="10.80" fill="#b6cfea"/>
<rect x="327.60" y="117.2" width="1.25" height="10.80" fill="#afcae9"/>
<rect x="328.60" y="117.2" width="1.25" height="10.80" fill="#bfd4ea"/>
<rect x="329.60" y="117.2" width="1.45" height="10.80" fill="#a3c4e9"/>
<rect x="330.80" y="117.2" width="1.45" height="10.80" fill="#bcd2ea"/>
<rect x="332.00" y="117.2" width="1.45" height="10.80" fill="#adcae9"/>
<rect x="333.20" y="117.2" width="1.75" height="10.80" fill="#a8c7e9"/>
<rect x="334.70" y="117.2" width="1.25" height="10.80" fill="#a2c3e8"/>
<rect x="335.70" y="117.2" width="0.95" height="10.80" fill="#a4c4e9"/>
<rect x="336.40" y="117.2" width="0.95" height="10.80" fill="#a7c6e9"/>
<rect x="337.10" y="117.2" width="1.75" height="10.80" fill="#b5ceea"/>
<rect x="338.60" y="117.2" width="1.25" height="10.80" fill="#b1cce9"/>
<rect x="339.60" y="117.2" width="1.25" height="10.80" fill="#9cc0e8"/>
<rect x="340.60" y="117.2" width="1.45" height="10.80" fill="#adcae9"/>
<rect x="341.80" y="117.2" width="1.15" height="10.80" fill="#c4d6eb"/>
<rect x="342.70" y="117.2" width="1.25" height="10.80" fill="#97bde7"/>
<rect x="343.70" y="117.2" width="1.25" height="10.80" fill="#9ec1e8"/>
<rect x="344.70" y="117.2" width="1.45" height="10.80" fill="#b3cdea"/>
<rect x="345.90" y="117.2" width="0.55" height="10.80" fill="#a6c6e9"/>
<rect x="349.20" y="56" width="0.95" height="10.50" fill="#acc9e9"/>
<rect x="349.90" y="56" width="1.15" height="10.50" fill="#b7cfea"/>
<rect x="350.80" y="56" width="0.95" height="10.50" fill="#c7d8eb"/>
<rect x="351.50" y="56" width="1.25" height="10.50" fill="#b9d0ea"/>
<rect x="352.50" y="56" width="1.25" height="10.50" fill="#bed3ea"/>
<rect x="353.50" y="56" width="1.75" height="10.50" fill="#afcae9"/>
<rect x="355.00" y="56" width="1.45" height="10.50" fill="#d6e0ec"/>
<rect x="356.20" y="56" width="1.25" height="10.50" fill="#b4ceea"/>
<rect x="357.20" y="56" width="1.45" height="10.50" fill="#b4cdea"/>
<rect x="358.40" y="56" width="1.15" height="10.50" fill="#b7cfea"/>
<rect x="359.30" y="56" width="1.15" height="10.50" fill="#bed3ea"/>
<rect x="360.20" y="56" width="0.95" height="10.50" fill="#b3cdea"/>
<rect x="360.90" y="56" width="1.25" height="10.50" fill="#b2cdea"/>
<rect x="361.90" y="56" width="1.45" height="10.50" fill="#d0ddec"/>
<rect x="363.10" y="56" width="0.95" height="10.50" fill="#bed3ea"/>
<rect x="363.80" y="56" width="1.75" height="10.50" fill="#acc9e9"/>
<rect x="365.30" y="56" width="1.25" height="10.50" fill="#cad9eb"/>
<rect x="366.30" y="56" width="1.75" height="10.50" fill="#bed3ea"/>
<rect x="367.80" y="56" width="1.25" height="10.50" fill="#bdd3ea"/>
<rect x="368.80" y="56" width="1.25" height="10.50" fill="#c7d8eb"/>
<rect x="369.80" y="56" width="1.75" height="10.50" fill="#b1cce9"/>
<rect x="371.30" y="56" width="0.95" height="10.50" fill="#c3d6eb"/>
<rect x="372.00" y="56" width="1.45" height="10.50" fill="#ccdbeb"/>
<rect x="373.20" y="56" width="1.45" height="10.50" fill="#bdd2ea"/>
<rect x="374.40" y="56" width="1.45" height="10.50" fill="#d0ddec"/>
<rect x="375.60" y="56" width="1.45" height="10.50" fill="#cedceb"/>
<rect x="376.80" y="56" width="1.25" height="10.50" fill="#bed3ea"/>
<rect x="377.80" y="56" width="1.45" height="10.50" fill="#c3d6eb"/>
<rect x="379.00" y="56" width="1.45" height="10.50" fill="#c3d6eb"/>
<rect x="380.20" y="56" width="0.95" height="10.50" fill="#c3d6eb"/>
<rect x="380.90" y="56" width="1.45" height="10.50" fill="#bfd4ea"/>
<rect x="382.10" y="56" width="1.25" height="10.50" fill="#c6d7eb"/>
<rect x="383.10" y="56" width="0.95" height="10.50" fill="#b0cbe9"/>
<rect x="383.80" y="56" width="1.75" height="10.50" fill="#d3dfec"/>
<rect x="385.30" y="56" width="1.25" height="10.50" fill="#c0d4eb"/>
<rect x="386.30" y="56" width="1.15" height="10.50" fill="#bcd2ea"/>
<rect x="387.20" y="56" width="1.15" height="10.50" fill="#b3cdea"/>
<rect x="388.10" y="56" width="0.95" height="10.50" fill="#bed3ea"/>
<rect x="388.80" y="56" width="1.45" height="10.50" fill="#c4d6eb"/>
<rect x="390.00" y="56" width="0.95" height="10.50" fill="#b7cfea"/>
<rect x="390.70" y="56" width="1.25" height="10.50" fill="#c9d9eb"/>
<rect x="391.70" y="56" width="0.95" height="10.50" fill="#d6e1ec"/>
<rect x="392.40" y="56" width="1.45" height="10.50" fill="#c7d8eb"/>
<rect x="393.60" y="56" width="0.95" height="10.50" fill="#afcbe9"/>
<rect x="394.30" y="56" width="1.15" height="10.50" fill="#c5d7eb"/>
<rect x="395.20" y="56" width="1.15" height="10.50" fill="#d9e2ec"/>
<rect x="396.10" y="56" width="1.15" height="10.50" fill="#c6d7eb"/>
<rect x="397.00" y="56" width="1.25" height="10.50" fill="#d7e1ec"/>
<rect x="398.00" y="56" width="1.25" height="10.50" fill="#bfd4ea"/>
<rect x="399.00" y="56" width="1.25" height="10.50" fill="#b6cfea"/>
<rect x="400.00" y="56" width="1.25" height="10.50" fill="#c3d6eb"/>
<rect x="401.00" y="56" width="0.95" height="10.50" fill="#bfd3ea"/>
<rect x="401.70" y="56" width="1.75" height="10.50" fill="#cadaeb"/>
<rect x="403.20" y="56" width="1.45" height="10.50" fill="#c0d4eb"/>
<rect x="404.40" y="56" width="1.75" height="10.50" fill="#c9d9eb"/>
<rect x="405.90" y="56" width="1.25" height="10.50" fill="#d6e1ec"/>
<rect x="406.90" y="56" width="0.95" height="10.50" fill="#c2d5eb"/>
<rect x="407.60" y="56" width="1.15" height="10.50" fill="#c4d6eb"/>
<rect x="408.50" y="56" width="0.95" height="10.50" fill="#c9d9eb"/>
<rect x="409.20" y="56" width="1.25" height="10.50" fill="#b5ceea"/>
<rect x="410.20" y="56" width="1.25" height="10.50" fill="#c5d7eb"/>
<rect x="411.20" y="56" width="1.45" height="10.50" fill="#c6d7eb"/>
<rect x="412.40" y="56" width="1.75" height="10.50" fill="#b7cfea"/>
<rect x="413.90" y="56" width="0.95" height="10.50" fill="#cbdaeb"/>
<rect x="414.60" y="56" width="1.25" height="10.50" fill="#bbd2ea"/>
<rect x="415.60" y="56" width="1.45" height="10.50" fill="#bfd3ea"/>
<rect x="416.80" y="56" width="1.25" height="10.50" fill="#c6d8eb"/>
<rect x="417.80" y="56" width="1.25" height="10.50" fill="#bfd3ea"/>
<rect x="418.80" y="56" width="1.75" height="10.50" fill="#c2d5eb"/>
<rect x="420.30" y="56" width="0.95" height="10.50" fill="#bbd1ea"/>
<rect x="421.00" y="56" width="1.75" height="10.50" fill="#c4d6eb"/>
<rect x="422.50" y="56" width="1.15" height="10.50" fill="#c6d8eb"/>
<rect x="423.40" y="56" width="1.15" height="10.50" fill="#c4d6eb"/>
<rect x="424.30" y="56" width="1.45" height="10.50" fill="#a9c7e9"/>
<rect x="425.50" y="56" width="1.15" height="10.50" fill="#c6d8eb"/>
<rect x="426.40" y="56" width="1.15" height="10.50" fill="#b9d0ea"/>
<rect x="427.30" y="56" width="1.25" height="10.50" fill="#c5d7eb"/>
<rect x="428.30" y="56" width="1.25" height="10.50" fill="#b3cdea"/>
<rect x="429.30" y="56" width="1.25" height="10.50" fill="#b3cdea"/>
<rect x="430.30" y="56" width="1.25" height="10.50" fill="#b6ceea"/>
<rect x="431.30" y="56" width="1.25" height="10.50" fill="#bed3ea"/>
<rect x="432.30" y="56" width="1.75" height="10.50" fill="#cbdaeb"/>
<rect x="433.80" y="56" width="1.25" height="10.50" fill="#ccdbeb"/>
<rect x="434.80" y="56" width="1.45" height="10.50" fill="#cbdaeb"/>
<rect x="436.00" y="56" width="1.25" height="10.50" fill="#b5ceea"/>
<rect x="437.00" y="56" width="1.45" height="10.50" fill="#bfd3ea"/>
<rect x="438.20" y="56" width="1.15" height="10.50" fill="#cfdcec"/>
<rect x="439.10" y="56" width="1.15" height="10.50" fill="#c3d6eb"/>
<rect x="440.00" y="56" width="1.45" height="10.50" fill="#bad1ea"/>
<rect x="441.20" y="56" width="0.95" height="10.50" fill="#b5ceea"/>
<rect x="441.90" y="56" width="1.25" height="10.50" fill="#bcd2ea"/>
<rect x="442.90" y="56" width="0.95" height="10.50" fill="#b6ceea"/>
<rect x="443.60" y="56" width="1.25" height="10.50" fill="#b1cce9"/>
<rect x="444.60" y="56" width="0.95" height="10.50" fill="#bad1ea"/>
<rect x="445.30" y="56" width="1.15" height="10.50" fill="#c2d5eb"/>
<rect x="446.20" y="56" width="1.15" height="10.50" fill="#b7cfea"/>
<rect x="447.10" y="56" width="0.95" height="10.50" fill="#cedcec"/>
<rect x="447.80" y="56" width="0.95" height="10.50" fill="#b4cdea"/>
<rect x="448.50" y="56" width="1.45" height="10.50" fill="#bad1ea"/>
<rect x="449.70" y="56" width="1.25" height="10.50" fill="#c5d7eb"/>
<rect x="450.70" y="56" width="0.95" height="10.50" fill="#d0ddec"/>
<rect x="451.40" y="56" width="1.15" height="10.50" fill="#b9d0ea"/>
<rect x="452.30" y="56" width="1.25" height="10.50" fill="#d4dfec"/>
<rect x="453.30" y="56" width="1.25" height="10.50" fill="#b0cbe9"/>
<rect x="454.30" y="56" width="1.25" height="10.50" fill="#d1ddec"/>
<rect x="455.30" y="56" width="1.75" height="10.50" fill="#d0ddec"/>
<rect x="456.80" y="56" width="1.15" height="10.50" fill="#aecae9"/>
<rect x="457.70" y="56" width="1.25" height="10.50" fill="#c4d6eb"/>
<rect x="458.70" y="56" width="1.75" height="10.50" fill="#c9d9eb"/>
<rect x="460.20" y="56" width="1.75" height="10.50" fill="#b7cfea"/>
<rect x="461.70" y="56" width="1.75" height="10.50" fill="#c8d9eb"/>
<rect x="463.20" y="56" width="1.75" height="10.50" fill="#bcd2ea"/>
<rect x="464.70" y="56" width="1.25" height="10.50" fill="#b6ceea"/>
<rect x="465.70" y="56" width="1.25" height="10.50" fill="#c3d6eb"/>
<rect x="466.70" y="56" width="1.25" height="10.50" fill="#bbd2ea"/>
<rect x="467.70" y="56" width="0.95" height="10.50" fill="#bcd2ea"/>
<rect x="468.40" y="56" width="1.15" height="10.50" fill="#cfdcec"/>
<rect x="469.30" y="56" width="1.75" height="10.50" fill="#b9d0ea"/>
<rect x="470.80" y="56" width="1.45" height="10.50" fill="#b3cdea"/>
<rect x="472.00" y="56" width="1.15" height="10.50" fill="#acc9e9"/>
<rect x="472.90" y="56" width="0.55" height="10.50" fill="#c7d8eb"/>
<rect x="349.20" y="68.6" width="1.25" height="10.00" fill="#c8d8eb"/>
<rect x="350.20" y="68.6" width="1.75" height="10.00" fill="#b9d0ea"/>
<rect x="351.70" y="68.6" width="1.75" height="10.00" fill="#d7e1ec"/>
<rect x="353.20" y="68.6" width="1.15" height="10.00" fill="#c3d6eb"/>
<rect x="354.10" y="68.6" width="1.45" height="10.00" fill="#bad1ea"/>
<rect x="355.30" y="68.6" width="1.25" height="10.00" fill="#c9d9eb"/>
<rect x="356.30" y="68.6" width="1.75" height="10.00" fill="#c4d6eb"/>
<rect x="357.80" y="68.6" width="0.95" height="10.00" fill="#bed3ea"/>
<rect x="358.50" y="68.6" width="0.95" height="10.00" fill="#d3dfec"/>
<rect x="359.20" y="68.6" width="1.25" height="10.00" fill="#b7cfea"/>
<rect x="360.20" y="68.6" width="0.95" height="10.00" fill="#d4dfec"/>
<rect x="360.90" y="68.6" width="1.75" height="10.00" fill="#bdd3ea"/>
<rect x="362.40" y="68.6" width="0.95" height="10.00" fill="#dbe3ec"/>
<rect x="363.10" y="68.6" width="0.95" height="10.00" fill="#c6d7eb"/>
<rect x="363.80" y="68.6" width="1.25" height="10.00" fill="#cfddec"/>
<rect x="364.80" y="68.6" width="1.75" height="10.00" fill="#e3e7ed"/>
<rect x="366.30" y="68.6" width="0.95" height="10.00" fill="#b7cfea"/>
<rect x="367.00" y="68.6" width="1.75" height="10.00" fill="#d3deec"/>
<rect x="368.50" y="68.6" width="1.45" height="10.00" fill="#cddceb"/>
<rect x="369.70" y="68.6" width="0.95" height="10.00" fill="#c0d4eb"/>
<rect x="370.40" y="68.6" width="1.25" height="10.00" fill="#d5e0ec"/>
<rect x="371.40" y="68.6" width="1.25" height="10.00" fill="#c5d7eb"/>
<rect x="372.40" y="68.6" width="1.75" height="10.00" fill="#b6cfea"/>
<rect x="373.90" y="68.6" width="1.75" height="10.00" fill="#c8d9eb"/>
<rect x="375.40" y="68.6" width="1.75" height="10.00" fill="#c5d7eb"/>
<rect x="376.90" y="68.6" width="1.75" height="10.00" fill="#cadaeb"/>
<rect x="378.40" y="68.6" width="1.15" height="10.00" fill="#bcd2ea"/>
<rect x="379.30" y="68.6" width="1.15" height="10.00" fill="#cfdcec"/>
<rect x="380.20" y="68.6" width="1.25" height="10.00" fill="#c9d9eb"/>
<rect x="381.20" y="68.6" width="1.75" height="10.00" fill="#c5d7eb"/>
<rect x="382.70" y="68.6" width="1.45" height="10.00" fill="#c8d8eb"/>
<rect x="383.90" y="68.6" width="1.75" height="10.00" fill="#d8e1ec"/>
<rect x="385.40" y="68.6" width="1.15" height="10.00" fill="#c0d4eb"/>
<rect x="386.30" y="68.6" width="0.95" height="10.00" fill="#c6d8eb"/>
<rect x="387.00" y="68.6" width="1.15" height="10.00" fill="#c1d5eb"/>
<rect x="387.90" y="68.6" width="1.15" height="10.00" fill="#d2deec"/>
<rect x="388.80" y="68.6" width="1.75" height="10.00" fill="#c6d8eb"/>
<rect x="390.30" y="68.6" width="1.75" height="10.00" fill="#cfdcec"/>
<rect x="391.80" y="68.6" width="1.25" height="10.00" fill="#c4d7eb"/>
<rect x="392.80" y="68.6" width="1.15" height="10.00" fill="#c1d5eb"/>
<rect x="393.70" y="68.6" width="0.95" height="10.00" fill="#bcd2ea"/>
<rect x="394.40" y="68.6" width="1.75" height="10.00" fill="#c7d8eb"/>
<rect x="395.90" y="68.6" width="1.25" height="10.00" fill="#c7d8eb"/>
<rect x="396.90" y="68.6" width="1.75" height="10.00" fill="#c3d6eb"/>
<rect x="398.40" y="68.6" width="1.15" height="10.00" fill="#c1d5eb"/>
<rect x="399.30" y="68.6" width="1.75" height="10.00" fill="#c4d6eb"/>
<rect x="400.80" y="68.6" width="0.95" height="10.00" fill="#b5ceea"/>
<rect x="401.50" y="68.6" width="1.15" height="10.00" fill="#c3d6eb"/>
<rect x="402.40" y="68.6" width="1.75" height="10.00" fill="#c1d4eb"/>
<rect x="403.90" y="68.6" width="1.25" height="10.00" fill="#bbd1ea"/>
<rect x="404.90" y="68.6" width="1.25" height="10.00" fill="#ccdbeb"/>
<rect x="405.90" y="68.6" width="1.25" height="10.00" fill="#c4d6eb"/>
<rect x="406.90" y="68.6" width="0.95" height="10.00" fill="#c3d6eb"/>
<rect x="407.60" y="68.6" width="0.95" height="10.00" fill="#cfdcec"/>
<rect x="408.30" y="68.6" width="1.25" height="10.00" fill="#c7d8eb"/>
<rect x="409.30" y="68.6" width="1.25" height="10.00" fill="#cedcec"/>
<rect x="410.30" y="68.6" width="1.25" height="10.00" fill="#d0ddec"/>
<rect x="411.30" y="68.6" width="1.25" height="10.00" fill="#c7d8eb"/>
<rect x="412.30" y="68.6" width="1.25" height="10.00" fill="#c0d4ea"/>
<rect x="413.30" y="68.6" width="1.45" height="10.00" fill="#c5d7eb"/>
<rect x="414.50" y="68.6" width="0.95" height="10.00" fill="#d6e0ec"/>
<rect x="415.20" y="68.6" width="1.25" height="10.00" fill="#cddbeb"/>
<rect x="416.20" y="68.6" width="0.95" height="10.00" fill="#c9d9eb"/>
<rect x="416.90" y="68.6" width="1.75" height="10.00" fill="#bed3ea"/>
<rect x="418.40" y="68.6" width="1.45" height="10.00" fill="#c7d8eb"/>
<rect x="419.60" y="68.6" width="1.25" height="10.00" fill="#dae3ec"/>
<rect x="420.60" y="68.6" width="1.25" height="10.00" fill="#cedcec"/>
<rect x="421.60" y="68.6" width="0.95" height="10.00" fill="#d7e1ec"/>
<rect x="422.30" y="68.6" width="1.25" height="10.00" fill="#d8e1ec"/>
<rect x="423.30" y="68.6" width="1.75" height="10.00" fill="#c0d4eb"/>
<rect x="424.80" y="68.6" width="1.45" height="10.00" fill="#d9e2ec"/>
<rect x="426.00" y="68.6" width="1.25" height="10.00" fill="#c2d5eb"/>
<rect x="427.00" y="68.6" width="1.75" height="10.00" fill="#c9d9eb"/>
<rect x="428.50" y="68.6" width="0.95" height="10.00" fill="#cfddec"/>
<rect x="429.20" y="68.6" width="0.95" height="10.00" fill="#ccdbeb"/>
<rect x="429.90" y="68.6" width="1.25" height="10.00" fill="#b2ccea"/>
<rect x="430.90" y="68.6" width="1.25" height="10.00" fill="#cfddec"/>
<rect x="431.90" y="68.6" width="1.75" height="10.00" fill="#d9e2ec"/>
<rect x="433.40" y="68.6" width="1.15" height="10.00" fill="#d8e2ec"/>
<rect x="434.30" y="68.6" width="1.25" height="10.00" fill="#d4dfec"/>
<rect x="435.30" y="68.6" width="1.75" height="10.00" fill="#c0d4eb"/>
<rect x="436.80" y="68.6" width="1.75" height="10.00" fill="#c1d5eb"/>
<rect x="438.30" y="68.6" width="1.25" height="10.00" fill="#c4d6eb"/>
<rect x="439.30" y="68.6" width="1.45" height="10.00" fill="#d3dfec"/>
<rect x="440.50" y="68.6" width="1.25" height="10.00" fill="#cedceb"/>
<rect x="441.50" y="68.6" width="0.95" height="10.00" fill="#c1d5eb"/>
<rect x="442.20" y="68.6" width="0.95" height="10.00" fill="#dae2ec"/>
<rect x="442.90" y="68.6" width="1.75" height="10.00" fill="#d6e1ec"/>
<rect x="444.40" y="68.6" width="1.25" height="10.00" fill="#e1e6ed"/>
<rect x="445.40" y="68.6" width="1.25" height="10.00" fill="#b8d0ea"/>
<rect x="446.40" y="68.6" width="1.25" height="10.00" fill="#c2d5eb"/>
<rect x="447.40" y="68.6" width="1.25" height="10.00" fill="#c9d9eb"/>
<rect x="448.40" y="68.6" width="1.45" height="10.00" fill="#c4d7eb"/>
<rect x="449.60" y="68.6" width="1.75" height="10.00" fill="#c6d8eb"/>
<rect x="451.10" y="68.6" width="1.15" height="10.00" fill="#cfddec"/>
<rect x="452.00" y="68.6" width="1.25" height="10.00" fill="#d4dfec"/>
<rect x="453.00" y="68.6" width="0.95" height="10.00" fill="#e0e6ed"/>
<rect x="453.70" y="68.6" width="1.25" height="10.00" fill="#c6d7eb"/>
<rect x="454.70" y="68.6" width="1.15" height="10.00" fill="#cbdaeb"/>
<rect x="455.60" y="68.6" width="0.95" height="10.00" fill="#d4dfec"/>
<rect x="456.30" y="68.6" width="1.45" height="10.00" fill="#d6e0ec"/>
<rect x="457.50" y="68.6" width="1.25" height="10.00" fill="#b8d0ea"/>
<rect x="458.50" y="68.6" width="1.15" height="10.00" fill="#c5d7eb"/>
<rect x="459.40" y="68.6" width="1.45" height="10.00" fill="#dae3ec"/>
<rect x="460.60" y="68.6" width="1.75" height="10.00" fill="#bfd4ea"/>
<rect x="462.10" y="68.6" width="1.25" height="10.00" fill="#cedceb"/>
<rect x="463.10" y="68.6" width="0.95" height="10.00" fill="#bdd3ea"/>
<rect x="463.80" y="68.6" width="1.75" height="10.00" fill="#b5ceea"/>
<rect x="465.30" y="68.6" width="1.15" height="10.00" fill="#c8d9eb"/>
<rect x="466.20" y="68.6" width="1.45" height="10.00" fill="#c9d9eb"/>
<rect x="467.40" y="68.6" width="1.75" height="10.00" fill="#c4d6eb"/>
<rect x="468.90" y="68.6" width="0.95" height="10.00" fill="#cfddec"/>
<rect x="469.60" y="68.6" width="1.45" height="10.00" fill="#c3d6eb"/>
<rect x="470.80" y="68.6" width="1.45" height="10.00" fill="#d5e0ec"/>
<rect x="472.00" y="68.6" width="1.45" height="10.00" fill="#dee5ed"/>
<rect x="349.20" y="78.6" width="1.45" height="10.20" fill="#acc9e9"/>
<rect x="350.40" y="78.6" width="1.45" height="10.20" fill="#d8e1ec"/>
<rect x="351.60" y="78.6" width="1.75" height="10.20" fill="#cfddec"/>
<rect x="353.10" y="78.6" width="1.75" height="10.20" fill="#bcd2ea"/>
<rect x="354.60" y="78.6" width="1.45" height="10.20" fill="#d4dfec"/>
<rect x="355.80" y="78.6" width="1.45" height="10.20" fill="#bad1ea"/>
<rect x="357.00" y="78.6" width="1.75" height="10.20" fill="#cadaeb"/>
<rect x="358.50" y="78.6" width="1.75" height="10.20" fill="#d4dfec"/>
<rect x="360.00" y="78.6" width="1.45" height="10.20" fill="#d7e1ec"/>
<rect x="361.20" y="78.6" width="1.75" height="10.20" fill="#ccdbeb"/>
<rect x="362.70" y="78.6" width="1.75" height="10.20" fill="#c6d7eb"/>
<rect x="364.20" y="78.6" width="1.75" height="10.20" fill="#c0d4ea"/>
<rect x="365.70" y="78.6" width="1.75" height="10.20" fill="#c6d7eb"/>
<rect x="367.20" y="78.6" width="1.45" height="10.20" fill="#b9d0ea"/>
<rect x="368.40" y="78.6" width="1.25" height="10.20" fill="#d0ddec"/>
<rect x="369.40" y="78.6" width="1.25" height="10.20" fill="#b5ceea"/>
<rect x="370.40" y="78.6" width="1.25" height="10.20" fill="#c2d5eb"/>
<rect x="371.40" y="78.6" width="1.25" height="10.20" fill="#cadaeb"/>
<rect x="372.40" y="78.6" width="1.15" height="10.20" fill="#c9d9eb"/>
<rect x="373.30" y="78.6" width="1.45" height="10.20" fill="#c4d7eb"/>
<rect x="374.50" y="78.6" width="1.25" height="10.20" fill="#bcd2ea"/>
<rect x="375.50" y="78.6" width="1.75" height="10.20" fill="#d1ddec"/>
<rect x="377.00" y="78.6" width="1.25" height="10.20" fill="#cddbeb"/>
<rect x="378.00" y="78.6" width="1.75" height="10.20" fill="#b5ceea"/>
<rect x="379.50" y="78.6" width="1.15" height="10.20" fill="#c5d7eb"/>
<rect x="380.40" y="78.6" width="1.45" height="10.20" fill="#bfd4ea"/>
<rect x="381.60" y="78.6" width="1.45" height="10.20" fill="#c2d5eb"/>
<rect x="382.80" y="78.6" width="1.45" height="10.20" fill="#afcbe9"/>
<rect x="384.00" y="78.6" width="1.75" height="10.20" fill="#bbd1ea"/>
<rect x="385.50" y="78.6" width="0.95" height="10.20" fill="#c6d8eb"/>
<rect x="386.20" y="78.6" width="1.45" height="10.20" fill="#bed3ea"/>
<rect x="387.40" y="78.6" width="1.45" height="10.20" fill="#adcae9"/>
<rect x="388.60" y="78.6" width="0.95" height="10.20" fill="#c3d6eb"/>
<rect x="389.30" y="78.6" width="1.75" height="10.20" fill="#d8e1ec"/>
<rect x="390.80" y="78.6" width="0.95" height="10.20" fill="#c3d6eb"/>
<rect x="391.50" y="78.6" width="1.25" height="10.20" fill="#cadaeb"/>
<rect x="392.50" y="78.6" width="1.15" height="10.20" fill="#bad1ea"/>
<rect x="393.40" y="78.6" width="1.15" height="10.20" fill="#b1cce9"/>
<rect x="394.30" y="78.6" width="1.15" height="10.20" fill="#bcd2ea"/>
<rect x="395.20" y="78.6" width="1.25" height="10.20" fill="#c5d7eb"/>
<rect x="396.20" y="78.6" width="1.15" height="10.20" fill="#c0d4eb"/>
<rect x="397.10" y="78.6" width="0.95" height="10.20" fill="#c3d6eb"/>
<rect x="397.80" y="78.6" width="1.45" height="10.20" fill="#c6d7eb"/>
<rect x="399.00" y="78.6" width="1.15" height="10.20" fill="#bfd3ea"/>
<rect x="399.90" y="78.6" width="1.15" height="10.20" fill="#c6d7eb"/>
<rect x="400.80" y="78.6" width="1.25" height="10.20" fill="#c9d9eb"/>
<rect x="401.80" y="78.6" width="1.15" height="10.20" fill="#c2d5eb"/>
<rect x="402.70" y="78.6" width="1.45" height="10.20" fill="#d3dfec"/>
<rect x="403.90" y="78.6" width="1.25" height="10.20" fill="#d1deec"/>
<rect x="404.90" y="78.6" width="1.15" height="10.20" fill="#b5ceea"/>
<rect x="405.80" y="78.6" width="1.75" height="10.20" fill="#d6e0ec"/>
<rect x="407.30" y="78.6" width="1.75" height="10.20" fill="#cedceb"/>
<rect x="408.80" y="78.6" width="1.15" height="10.20" fill="#c5d7eb"/>
<rect x="409.70" y="78.6" width="1.25" height="10.20" fill="#b6ceea"/>
<rect x="410.70" y="78.6" width="1.25" height="10.20" fill="#c3d6eb"/>
<rect x="411.70" y="78.6" width="1.75" height="10.20" fill="#aecae9"/>
<rect x="413.20" y="78.6" width="1.25" height="10.20" fill="#c6d7eb"/>
<rect x="414.20" y="78.6" width="0.95" height="10.20" fill="#bed3ea"/>
<rect x="414.90" y="78.6" width="1.45" height="10.20" fill="#cddbeb"/>
<rect x="416.10" y="78.6" width="0.95" height="10.20" fill="#dee5ed"/>
<rect x="416.80" y="78.6" width="1.15" height="10.20" fill="#cadaeb"/>
<rect x="417.70" y="78.6" width="1.25" height="10.20" fill="#b9d0ea"/>
<rect x="418.70" y="78.6" width="0.95" height="10.20" fill="#d3dfec"/>
<rect x="419.40" y="78.6" width="1.45" height="10.20" fill="#b1cce9"/>
<rect x="420.60" y="78.6" width="1.25" height="10.20" fill="#ccdbeb"/>
<rect x="421.60" y="78.6" width="0.95" height="10.20" fill="#cddbeb"/>
<rect x="422.30" y="78.6" width="1.15" height="10.20" fill="#c9d9eb"/>
<rect x="423.20" y="78.6" width="1.45" height="10.20" fill="#dbe3ec"/>
<rect x="424.40" y="78.6" width="1.75" height="10.20" fill="#bad1ea"/>
<rect x="425.90" y="78.6" width="1.25" height="10.20" fill="#cddbeb"/>
<rect x="426.90" y="78.6" width="1.25" height="10.20" fill="#b7cfea"/>
<rect x="427.90" y="78.6" width="1.45" height="10.20" fill="#d9e2ec"/>
<rect x="429.10" y="78.6" width="1.25" height="10.20" fill="#c4d6eb"/>
<rect x="430.10" y="78.6" width="1.25" height="10.20" fill="#cfddec"/>
<rect x="431.10" y="78.6" width="1.15" height="10.20" fill="#c5d7eb"/>
<rect x="432.00" y="78.6" width="1.25" height="10.20" fill="#acc9e9"/>
<rect x="433.00" y="78.6" width="0.95" height="10.20" fill="#c4d6eb"/>
<rect x="433.70" y="78.6" width="0.95" height="10.20" fill="#cedceb"/>
<rect x="434.40" y="78.6" width="1.75" height="10.20" fill="#d9e2ec"/>
<rect x="435.90" y="78.6" width="1.45" height="10.20" fill="#bad1ea"/>
<rect x="437.10" y="78.6" width="1.15" height="10.20" fill="#cddbeb"/>
<rect x="438.00" y="78.6" width="1.75" height="10.20" fill="#cbdaeb"/>
<rect x="439.50" y="78.6" width="1.45" height="10.20" fill="#bad1ea"/>
<rect x="440.70" y="78.6" width="1.45" height="10.20" fill="#cedceb"/>
<rect x="441.90" y="78.6" width="1.15" height="10.20" fill="#c9d9eb"/>
<rect x="442.80" y="78.6" width="1.25" height="10.20" fill="#d1deec"/>
<rect x="443.80" y="78.6" width="0.95" height="10.20" fill="#bad1ea"/>
<rect x="444.50" y="78.6" width="1.15" height="10.20" fill="#cadaeb"/>
<rect x="445.40" y="78.6" width="1.25" height="10.20" fill="#cedcec"/>
<rect x="446.40" y="78.6" width="1.25" height="10.20" fill="#bad1ea"/>
<rect x="447.40" y="78.6" width="1.25" height="10.20" fill="#bfd3ea"/>
<rect x="448.40" y="78.6" width="1.25" height="10.20" fill="#d4dfec"/>
<rect x="449.40" y="78.6" width="1.25" height="10.20" fill="#c5d7eb"/>
<rect x="450.40" y="78.6" width="1.15" height="10.20" fill="#d2deec"/>
<rect x="451.30" y="78.6" width="1.45" height="10.20" fill="#c6d8eb"/>
<rect x="452.50" y="78.6" width="0.95" height="10.20" fill="#b7cfea"/>
<rect x="453.20" y="78.6" width="1.15" height="10.20" fill="#b6cfea"/>
<rect x="454.10" y="78.6" width="1.25" height="10.20" fill="#c1d5eb"/>
<rect x="455.10" y="78.6" width="1.25" height="10.20" fill="#c7d8eb"/>
<rect x="456.10" y="78.6" width="1.25" height="10.20" fill="#b7cfea"/>
<rect x="457.10" y="78.6" width="1.15" height="10.20" fill="#bed3ea"/>
<rect x="458.00" y="78.6" width="1.75" height="10.20" fill="#d4dfec"/>
<rect x="459.50" y="78.6" width="0.95" height="10.20" fill="#c8d8eb"/>
<rect x="460.20" y="78.6" width="1.15" height="10.20" fill="#c7d8eb"/>
<rect x="461.10" y="78.6" width="1.75" height="10.20" fill="#b4cdea"/>
<rect x="462.60" y="78.6" width="0.95" height="10.20" fill="#bed3ea"/>
<rect x="463.30" y="78.6" width="1.15" height="10.20" fill="#ccdbeb"/>
<rect x="464.20" y="78.6" width="1.15" height="10.20" fill="#c0d4eb"/>
<rect x="465.10" y="78.6" width="1.25" height="10.20" fill="#bbd1ea"/>
<rect x="466.10" y="78.6" width="1.75" height="10.20" fill="#b5ceea"/>
<rect x="467.60" y="78.6" width="1.15" height="10.20" fill="#d6e1ec"/>
<rect x="468.50" y="78.6" width="1.25" height="10.20" fill="#d2deec"/>
<rect x="469.50" y="78.6" width="1.25" height="10.20" fill="#b7cfea"/>
<rect x="470.50" y="78.6" width="0.95" height="10.20" fill="#bfd4ea"/>
<rect x="471.20" y="78.6" width="1.25" height="10.20" fill="#b3cdea"/>
<rect x="472.20" y="78.6" width="1.25" height="10.20" fill="#bed3ea"/>
<rect x="349.20" y="94.8" width="1.15" height="10.20" fill="#e97f21"/>
<rect x="350.10" y="94.8" width="1.25" height="10.20" fill="#ea8023"/>
<rect x="351.10" y="94.8" width="1.75" height="10.20" fill="#e97f21"/>
<rect x="352.60" y="94.8" width="1.25" height="10.20" fill="#ea862d"/>
<rect x="353.60" y="94.8" width="1.25" height="10.20" fill="#e97f21"/>
<rect x="354.60" y="94.8" width="1.15" height="10.20" fill="#ea842a"/>
<rect x="355.50" y="94.8" width="1.75" height="10.20" fill="#ea8329"/>
<rect x="357.00" y="94.8" width="1.25" height="10.20" fill="#ea8226"/>
<rect x="358.00" y="94.8" width="1.75" height="10.20" fill="#e97b1b"/>
<rect x="359.50" y="94.8" width="1.25" height="10.20" fill="#e97f21"/>
<rect x="360.50" y="94.8" width="0.95" height="10.20" fill="#ea8024"/>
<rect x="361.20" y="94.8" width="1.45" height="10.20" fill="#e97f21"/>
<rect x="362.40" y="94.8" width="1.25" height="10.20" fill="#e97c1c"/>
<rect x="363.40" y="94.8" width="1.25" height="10.20" fill="#e97a19"/>
<rect x="364.40" y="94.8" width="1.75" height="10.20" fill="#ea8329"/>
<rect x="365.90" y="94.8" width="0.95" height="10.20" fill="#e98022"/>
<rect x="366.60" y="94.8" width="1.15" height="10.20" fill="#ea862d"/>
<rect x="367.50" y="94.8" width="1.25" height="10.20" fill="#e97d1d"/>
<rect x="368.50" y="94.8" width="1.15" height="10.20" fill="#ea862d"/>
<rect x="369.40" y="94.8" width="1.75" height="10.20" fill="#ea8328"/>
<rect x="370.90" y="94.8" width="1.15" height="10.20" fill="#e97a19"/>
<rect x="371.80" y="94.8" width="0.95" height="10.20" fill="#ea852b"/>
<rect x="372.50" y="94.8" width="1.45" height="10.20" fill="#ea8023"/>
<rect x="373.70" y="94.8" width="1.25" height="10.20" fill="#e97d1e"/>
<rect x="374.70" y="94.8" width="1.15" height="10.20" fill="#ea8730"/>
<rect x="375.60" y="94.8" width="1.15" height="10.20" fill="#ea8328"/>
<rect x="376.50" y="94.8" width="1.45" height="10.20" fill="#eb8f3c"/>
<rect x="377.70" y="94.8" width="0.95" height="10.20" fill="#e97a18"/>
<rect x="378.40" y="94.8" width="1.45" height="10.20" fill="#e97e1f"/>
<rect x="379.60" y="94.8" width="1.25" height="10.20" fill="#ea8226"/>
<rect x="380.60" y="94.8" width="1.25" height="10.20" fill="#ea8227"/>
<rect x="381.60" y="94.8" width="1.45" height="10.20" fill="#ea8227"/>
<rect x="382.80" y="94.8" width="1.25" height="10.20" fill="#ea8327"/>
<rect x="383.80" y="94.8" width="0.95" height="10.20" fill="#ea8124"/>
<rect x="384.50" y="94.8" width="1.75" height="10.20" fill="#e97e1f"/>
<rect x="386.00" y="94.8" width="0.95" height="10.20" fill="#ea852b"/>
<rect x="386.70" y="94.8" width="1.75" height="10.20" fill="#ea862d"/>
<rect x="388.20" y="94.8" width="1.25" height="10.20" fill="#e97d1e"/>
<rect x="389.20" y="94.8" width="0.95" height="10.20" fill="#e97917"/>
<rect x="389.90" y="94.8" width="0.95" height="10.20" fill="#ea852c"/>
<rect x="390.60" y="94.8" width="1.25" height="10.20" fill="#ea852c"/>
<rect x="391.60" y="94.8" width="1.45" height="10.20" fill="#eb8b37"/>
<rect x="392.80" y="94.8" width="0.95" height="10.20" fill="#e97b1a"/>
<rect x="393.50" y="94.8" width="0.95" height="10.20" fill="#e97c1c"/>
<rect x="394.20" y="94.8" width="1.25" height="10.20" fill="#ea852b"/>
<rect x="395.20" y="94.8" width="0.95" height="10.20" fill="#eb8932"/>
<rect x="395.90" y="94.8" width="1.25" height="10.20" fill="#e97e1f"/>
<rect x="396.90" y="94.8" width="1.15" height="10.20" fill="#e97f22"/>
<rect x="397.80" y="94.8" width="1.15" height="10.20" fill="#ea8023"/>
<rect x="398.70" y="94.8" width="1.45" height="10.20" fill="#ea8226"/>
<rect x="399.90" y="94.8" width="1.25" height="10.20" fill="#ea842a"/>
<rect x="400.90" y="94.8" width="1.25" height="10.20" fill="#ea862d"/>
<rect x="401.90" y="94.8" width="1.45" height="10.20" fill="#e97c1b"/>
<rect x="403.10" y="94.8" width="1.15" height="10.20" fill="#ea862d"/>
<rect x="404.00" y="94.8" width="1.25" height="10.20" fill="#eb8730"/>
<rect x="405.00" y="94.8" width="1.15" height="10.20" fill="#ea8227"/>
<rect x="405.90" y="94.8" width="1.75" height="10.20" fill="#ea862d"/>
<rect x="407.40" y="94.8" width="1.25" height="10.20" fill="#ea8125"/>
<rect x="408.40" y="94.8" width="1.25" height="10.20" fill="#eb8a35"/>
<rect x="409.40" y="94.8" width="1.75" height="10.20" fill="#ea8023"/>
<rect x="410.90" y="94.8" width="1.25" height="10.20" fill="#ec8f3e"/>
<rect x="411.90" y="94.8" width="1.45" height="10.20" fill="#ea8328"/>
<rect x="413.10" y="94.8" width="1.25" height="10.20" fill="#e97c1c"/>
<rect x="414.10" y="94.8" width="1.15" height="10.20" fill="#ea8226"/>
<rect x="415.00" y="94.8" width="0.95" height="10.20" fill="#e97c1b"/>
<rect x="415.70" y="94.8" width="1.75" height="10.20" fill="#e97d1e"/>
<rect x="417.20" y="94.8" width="1.15" height="10.20" fill="#eb8f3c"/>
<rect x="418.10" y="94.8" width="1.75" height="10.20" fill="#ea8124"/>
<rect x="419.60" y="94.8" width="0.95" height="10.20" fill="#e97a18"/>
<rect x="420.30" y="94.8" width="0.95" height="10.20" fill="#ea8429"/>
<rect x="421.00" y="94.8" width="1.45" height="10.20" fill="#ea8429"/>
<rect x="422.20" y="94.8" width="1.45" height="10.20" fill="#e97f22"/>
<rect x="423.40" y="94.8" width="1.25" height="10.20" fill="#e97a18"/>
<rect x="424.40" y="94.8" width="1.45" height="10.20" fill="#ea8429"/>
<rect x="425.60" y="94.8" width="1.15" height="10.20" fill="#ea8022"/>
<rect x="426.50" y="94.8" width="1.75" height="10.20" fill="#e97d1d"/>
<rect x="428.00" y="94.8" width="1.45" height="10.20" fill="#eb8932"/>
<rect x="429.20" y="94.8" width="0.95" height="10.20" fill="#ea862e"/>
<rect x="429.90" y="94.8" width="1.25" height="10.20" fill="#e97c1b"/>
<rect x="430.90" y="94.8" width="1.25" height="10.20" fill="#e97f22"/>
<rect x="431.90" y="94.8" width="1.25" height="10.20" fill="#e87714"/>
<rect x="432.90" y="94.8" width="1.25" height="10.20" fill="#ea8023"/>
<rect x="433.90" y="94.8" width="0.95" height="10.20" fill="#e97917"/>
<rect x="434.60" y="94.8" width="0.95" height="10.20" fill="#ea8227"/>
<rect x="435.30" y="94.8" width="1.75" height="10.20" fill="#ea8327"/>
<rect x="436.80" y="94.8" width="1.25" height="10.20" fill="#ea842a"/>
<rect x="437.80" y="94.8" width="1.15" height="10.20" fill="#ea862d"/>
<rect x="438.70" y="94.8" width="1.45" height="10.20" fill="#eb8a34"/>
<rect x="439.90" y="94.8" width="1.25" height="10.20" fill="#e97a19"/>
<rect x="440.90" y="94.8" width="1.75" height="10.20" fill="#ea842a"/>
<rect x="442.40" y="94.8" width="1.25" height="10.20" fill="#ea842b"/>
<rect x="443.40" y="94.8" width="0.95" height="10.20" fill="#ea8227"/>
<rect x="444.10" y="94.8" width="1.15" height="10.20" fill="#e97d1d"/>
<rect x="445.00" y="94.8" width="1.25" height="10.20" fill="#e97f22"/>
<rect x="446.00" y="94.8" width="1.75" height="10.20" fill="#e97a18"/>
<rect x="447.50" y="94.8" width="1.25" height="10.20" fill="#ea872e"/>
<rect x="448.50" y="94.8" width="1.15" height="10.20" fill="#e8740e"/>
<rect x="449.40" y="94.8" width="1.45" height="10.20" fill="#ea8024"/>
<rect x="450.60" y="94.8" width="1.25" height="10.20" fill="#ea8730"/>
<rect x="451.60" y="94.8" width="1.15" height="10.20" fill="#ea8023"/>
<rect x="452.50" y="94.8" width="1.25" height="10.20" fill="#ea852c"/>
<rect x="453.50" y="94.8" width="0.95" height="10.20" fill="#eb8c38"/>
<rect x="454.20" y="94.8" width="1.15" height="10.20" fill="#ea8124"/>
<rect x="455.10" y="94.8" width="1.25" height="10.20" fill="#ea852b"/>
<rect x="456.10" y="94.8" width="1.25" height="10.20" fill="#eb8831"/>
<rect x="457.10" y="94.8" width="1.15" height="10.20" fill="#eb8b36"/>
<rect x="458.00" y="94.8" width="1.15" height="10.20" fill="#ea872f"/>
<rect x="458.90" y="94.8" width="1.75" height="10.20" fill="#ea8730"/>
<rect x="460.40" y="94.8" width="1.25" height="10.20" fill="#e97b1b"/>
<rect x="461.40" y="94.8" width="1.15" height="10.20" fill="#ea842a"/>
<rect x="462.30" y="94.8" width="1.25" height="10.20" fill="#ea8124"/>
<rect x="463.30" y="94.8" width="1.75" height="10.20" fill="#e97f22"/>
<rect x="464.80" y="94.8" width="0.95" height="10.20" fill="#ea8125"/>
<rect x="465.50" y="94.8" width="1.15" height="10.20" fill="#e97f22"/>
<rect x="466.40" y="94.8" width="1.75" height="10.20" fill="#ea8329"/>
<rect x="467.90" y="94.8" width="1.25" height="10.20" fill="#e97f22"/>
<rect x="468.90" y="94.8" width="1.75" height="10.20" fill="#ea8023"/>
<rect x="470.40" y="94.8" width="1.25" height="10.20" fill="#e97e1f"/>
<rect x="471.40" y="94.8" width="1.75" height="10.20" fill="#e97f22"/>
<rect x="472.90" y="94.8" width="0.55" height="10.20" fill="#ea852c"/>
<rect x="349.20" y="107" width="0.95" height="10.20" fill="#f1decd"/>
<rect x="349.90" y="107" width="1.45" height="10.20" fill="#f2e1d3"/>
<rect x="351.10" y="107" width="1.75" height="10.20" fill="#f1d4b9"/>
<rect x="352.60" y="107" width="0.95" height="10.20" fill="#f1d9c3"/>
<rect x="353.30" y="107" width="1.15" height="10.20" fill="#f2e1d1"/>
<rect x="354.20" y="107" width="1.45" height="10.20" fill="#f2e7dd"/>
<rect x="355.40" y="107" width="0.95" height="10.20" fill="#f2e1d2"/>
<rect x="356.10" y="107" width="0.95" height="10.20" fill="#f1dbc7"/>
<rect x="356.80" y="107" width="0.95" height="10.20" fill="#f2e3d6"/>
<rect x="357.50" y="107" width="0.95" height="10.20" fill="#f1cdac"/>
<rect x="358.20" y="107" width="1.45" height="10.20" fill="#f2e9e1"/>
<rect x="359.40" y="107" width="1.25" height="10.20" fill="#f1ddca"/>
<rect x="360.40" y="107" width="1.45" height="10.20" fill="#f2e3d5"/>
<rect x="361.60" y="107" width="1.15" height="10.20" fill="#f2eae3"/>
<rect x="362.50" y="107" width="0.95" height="10.20" fill="#f2ebe5"/>
<rect x="363.20" y="107" width="1.45" height="10.20" fill="#f2e9e1"/>
<rect x="364.40" y="107" width="0.95" height="10.20" fill="#f1dbc7"/>
<rect x="365.10" y="107" width="1.25" height="10.20" fill="#f1d2b6"/>
<rect x="366.10" y="107" width="1.15" height="10.20" fill="#f2e6dc"/>
<rect x="367.00" y="107" width="1.75" height="10.20" fill="#f1d7bf"/>
<rect x="368.50" y="107" width="0.95" height="10.20" fill="#f1ddcb"/>
<rect x="369.20" y="107" width="1.25" height="10.20" fill="#f2e6db"/>
<rect x="370.20" y="107" width="1.15" height="10.20" fill="#f1cdac"/>
<rect x="371.10" y="107" width="1.45" height="10.20" fill="#f1d4ba"/>
<rect x="372.30" y="107" width="1.25" height="10.20" fill="#f1decd"/>
<rect x="373.30" y="107" width="1.25" height="10.20" fill="#f1d6bd"/>
<rect x="374.30" y="107" width="1.75" height="10.20" fill="#f2e2d4"/>
<rect x="375.80" y="107" width="1.25" height="10.20" fill="#f2eee9"/>
<rect x="376.80" y="107" width="1.75" height="10.20" fill="#f2e6db"/>
<rect x="378.30" y="107" width="1.25" height="10.20" fill="#f1d1b5"/>
<rect x="379.30" y="107" width="1.75" height="10.20" fill="#f2e5d9"/>
<rect x="380.80" y="107" width="1.25" height="10.20" fill="#f2e9e1"/>
<rect x="381.80" y="107" width="1.25" height="10.20" fill="#f1decd"/>
<rect x="382.80" y="107" width="1.25" height="10.20" fill="#f1dbc6"/>
<rect x="383.80" y="107" width="1.25" height="10.20" fill="#f2e4d8"/>
<rect x="384.80" y="107" width="1.25" height="10.20" fill="#f1ddca"/>
<rect x="385.80" y="107" width="1.75" height="10.20" fill="#ecedee"/>
<rect x="387.30" y="107" width="0.95" height="10.20" fill="#f2e2d4"/>
<rect x="388.00" y="107" width="1.25" height="10.20" fill="#f1d9c3"/>
<rect x="389.00" y="107" width="1.75" height="10.20" fill="#f2e9e2"/>
<rect x="390.50" y="107" width="1.15" height="10.20" fill="#f2e8e0"/>
<rect x="391.40" y="107" width="1.15" height="10.20" fill="#f2e5d9"/>
<rect x="392.30" y="107" width="1.45" height="10.20" fill="#f2e6dc"/>
<rect x="393.50" y="107" width="0.95" height="10.20" fill="#f2e1d1"/>
<rect x="394.20" y="107" width="1.75" height="10.20" fill="#f2e4d8"/>
<rect x="395.70" y="107" width="1.45" height="10.20" fill="#f2e9e0"/>
<rect x="396.90" y="107" width="1.45" height="10.20" fill="#f1d8c1"/>
<rect x="398.10" y="107" width="1.75" height="10.20" fill="#f2ece7"/>
<rect x="399.60" y="107" width="0.95" height="10.20" fill="#f1ceae"/>
<rect x="400.30" y="107" width="1.25" height="10.20" fill="#f2e3d6"/>
<rect x="401.30" y="107" width="1.45" height="10.20" fill="#ecedee"/>
<rect x="402.50" y="107" width="1.25" height="10.20" fill="#e3e8ed"/>
<rect x="403.50" y="107" width="1.15" height="10.20" fill="#efeeee"/>
<rect x="404.40" y="107" width="1.75" height="10.20" fill="#f1decd"/>
<rect x="405.90" y="107" width="1.25" height="10.20" fill="#ededee"/>
<rect x="406.90" y="107" width="1.75" height="10.20" fill="#f1cdad"/>
<rect x="408.40" y="107" width="1.25" height="10.20" fill="#f1dac4"/>
<rect x="409.40" y="107" width="1.45" height="10.20" fill="#f2ece6"/>
<rect x="410.60" y="107" width="0.95" height="10.20" fill="#f1efee"/>
<rect x="411.30" y="107" width="1.75" height="10.20" fill="#f1dfcf"/>
<rect x="412.80" y="107" width="1.45" height="10.20" fill="#f2efed"/>
<rect x="414.00" y="107" width="1.25" height="10.20" fill="#f2e4d8"/>
<rect x="415.00" y="107" width="1.75" height="10.20" fill="#f1d2b7"/>
<rect x="416.50" y="107" width="1.25" height="10.20" fill="#f2ede8"/>
<rect x="417.50" y="107" width="1.15" height="10.20" fill="#f2e4d8"/>
<rect x="418.40" y="107" width="1.15" height="10.20" fill="#f1d6bd"/>
<rect x="419.30" y="107" width="1.25" height="10.20" fill="#f1ddcb"/>
<rect x="420.30" y="107" width="1.45" height="10.20" fill="#f2e2d3"/>
<rect x="421.50" y="107" width="1.25" height="10.20" fill="#f1decc"/>
<rect x="422.50" y="107" width="1.15" height="10.20" fill="#f2e5da"/>
<rect x="423.40" y="107" width="1.75" height="10.20" fill="#f2e7de"/>
<rect x="424.90" y="107" width="1.25" height="10.20" fill="#f1dac4"/>
<rect x="425.90" y="107" width="1.75" height="10.20" fill="#f1d0b2"/>
<rect x="427.40" y="107" width="0.95" height="10.20" fill="#f2e7dc"/>
<rect x="428.10" y="107" width="1.25" height="10.20" fill="#f1dcc8"/>
<rect x="429.10" y="107" width="0.95" height="10.20" fill="#f2eeeb"/>
<rect x="429.80" y="107" width="1.25" height="10.20" fill="#f1dcc8"/>
<rect x="430.80" y="107" width="0.95" height="10.20" fill="#f2ebe5"/>
<rect x="431.50" y="107" width="1.45" height="10.20" fill="#f1d9c4"/>
<rect x="432.70" y="107" width="1.45" height="10.20" fill="#f2e7dd"/>
<rect x="433.90" y="107" width="1.25" height="10.20" fill="#f1d7bf"/>
<rect x="434.90" y="107" width="1.25" height="10.20" fill="#f2e5da"/>
<rect x="435.90" y="107" width="0.95" height="10.20" fill="#f1dac5"/>
<rect x="436.60" y="107" width="1.25" height="10.20" fill="#f2ece7"/>
<rect x="437.60" y="107" width="1.15" height="10.20" fill="#f2eee9"/>
<rect x="438.50" y="107" width="1.45" height="10.20" fill="#f1dbc7"/>
<rect x="439.70" y="107" width="1.25" height="10.20" fill="#f1d8c2"/>
<rect x="440.70" y="107" width="1.25" height="10.20" fill="#f2e9e2"/>
<rect x="441.70" y="107" width="1.25" height="10.20" fill="#f2e4d7"/>
<rect x="442.70" y="107" width="1.45" height="10.20" fill="#f2e8de"/>
<rect x="443.90" y="107" width="0.95" height="10.20" fill="#f1dcc8"/>
<rect x="444.60" y="107" width="1.45" height="10.20" fill="#f1e0cf"/>
<rect x="445.80" y="107" width="0.95" height="10.20" fill="#f1d8c2"/>
<rect x="446.50" y="107" width="1.45" height="10.20" fill="#f1ddca"/>
<rect x="447.70" y="107" width="1.25" height="10.20" fill="#f1d7be"/>
<rect x="448.70" y="107" width="1.25" height="10.20" fill="#f2e3d6"/>
<rect x="449.70" y="107" width="1.25" height="10.20" fill="#f1dcc9"/>
<rect x="450.70" y="107" width="0.95" height="10.20" fill="#f2ede8"/>
<rect x="451.40" y="107" width="0.95" height="10.20" fill="#f2e5d9"/>
<rect x="452.10" y="107" width="1.15" height="10.20" fill="#f1d4b9"/>
<rect x="453.00" y="107" width="1.25" height="10.20" fill="#f1d3b8"/>
<rect x="454.00" y="107" width="1.45" height="10.20" fill="#f1dfcf"/>
<rect x="455.20" y="107" width="1.75" height="10.20" fill="#e9ebed"/>
<rect x="456.70" y="107" width="1.25" height="10.20" fill="#f2e5d9"/>
<rect x="457.70" y="107" width="1.25" height="10.20" fill="#f2e1d2"/>
<rect x="458.70" y="107" width="1.25" height="10.20" fill="#f2eeea"/>
<rect x="459.70" y="107" width="1.25" height="10.20" fill="#f1decc"/>
<rect x="460.70" y="107" width="1.25" height="10.20" fill="#f2e2d3"/>
<rect x="461.70" y="107" width="1.15" height="10.20" fill="#f1d2b6"/>
<rect x="462.60" y="107" width="1.45" height="10.20" fill="#f1dbc6"/>
<rect x="463.80" y="107" width="1.75" height="10.20" fill="#f1cdad"/>
<rect x="465.30" y="107" width="1.45" height="10.20" fill="#f2ece6"/>
<rect x="466.50" y="107" width="1.25" height="10.20" fill="#f1dac4"/>
<rect x="467.50" y="107" width="0.95" height="10.20" fill="#f1dbc6"/>
<rect x="468.20" y="107" width="1.25" height="10.20" fill="#f1decd"/>
<rect x="469.20" y="107" width="1.45" height="10.20" fill="#ecedee"/>
<rect x="470.40" y="107" width="1.75" height="10.20" fill="#f1d9c2"/>
<rect x="471.90" y="107" width="0.95" height="10.20" fill="#f1dac5"/>
<rect x="472.60" y="107" width="0.85" height="10.20" fill="#f1dcc9"/>
<rect x="349.20" y="117.2" width="1.75" height="10.80" fill="#cfdcec"/>
<rect x="350.70" y="117.2" width="1.25" height="10.80" fill="#bdd3ea"/>
<rect x="351.70" y="117.2" width="1.15" height="10.80" fill="#d2deec"/>
<rect x="352.60" y="117.2" width="1.25" height="10.80" fill="#c0d4ea"/>
<rect x="353.60" y="117.2" width="1.15" height="10.80" fill="#b1cce9"/>
<rect x="354.50" y="117.2" width="1.75" height="10.80" fill="#c6d8eb"/>
<rect x="356.00" y="117.2" width="1.15" height="10.80" fill="#c7d8eb"/>
<rect x="356.90" y="117.2" width="0.95" height="10.80" fill="#bcd2ea"/>
<rect x="357.60" y="117.2" width="1.75" height="10.80" fill="#c5d7eb"/>
<rect x="359.10" y="117.2" width="1.25" height="10.80" fill="#d2deec"/>
<rect x="360.10" y="117.2" width="1.25" height="10.80" fill="#cedceb"/>
<rect x="361.10" y="117.2" width="0.95" height="10.80" fill="#cedceb"/>
<rect x="361.80" y="117.2" width="1.45" height="10.80" fill="#cadaeb"/>
<rect x="363.00" y="117.2" width="0.95" height="10.80" fill="#c3d6eb"/>
<rect x="363.70" y="117.2" width="1.15" height="10.80" fill="#c4d6eb"/>
<rect x="364.60" y="117.2" width="1.75" height="10.80" fill="#c6d8eb"/>
<rect x="366.10" y="117.2" width="1.15" height="10.80" fill="#c5d7eb"/>
<rect x="367.00" y="117.2" width="0.95" height="10.80" fill="#bad1ea"/>
<rect x="367.70" y="117.2" width="1.45" height="10.80" fill="#c3d6eb"/>
<rect x="368.90" y="117.2" width="1.45" height="10.80" fill="#bcd2ea"/>
<rect x="370.10" y="117.2" width="1.15" height="10.80" fill="#dee5ed"/>
<rect x="371.00" y="117.2" width="1.75" height="10.80" fill="#c8d8eb"/>
<rect x="372.50" y="117.2" width="1.15" height="10.80" fill="#c5d7eb"/>
<rect x="373.40" y="117.2" width="0.95" height="10.80" fill="#cfdcec"/>
<rect x="374.10" y="117.2" width="1.15" height="10.80" fill="#d1deec"/>
<rect x="375.00" y="117.2" width="1.25" height="10.80" fill="#c7d8eb"/>
<rect x="376.00" y="117.2" width="0.95" height="10.80" fill="#c4d6eb"/>
<rect x="376.70" y="117.2" width="1.25" height="10.80" fill="#d0ddec"/>
<rect x="377.70" y="117.2" width="1.45" height="10.80" fill="#b4cdea"/>
<rect x="378.90" y="117.2" width="1.75" height="10.80" fill="#d7e1ec"/>
<rect x="380.40" y="117.2" width="0.95" height="10.80" fill="#c5d7eb"/>
<rect x="381.10" y="117.2" width="1.25" height="10.80" fill="#d0ddec"/>
<rect x="382.10" y="117.2" width="1.25" height="10.80" fill="#cedceb"/>
<rect x="383.10" y="117.2" width="1.15" height="10.80" fill="#c1d4eb"/>
<rect x="384.00" y="117.2" width="1.15" height="10.80" fill="#d6e0ec"/>
<rect x="384.90" y="117.2" width="1.25" height="10.80" fill="#cddbeb"/>
<rect x="385.90" y="117.2" width="1.25" height="10.80" fill="#bdd3ea"/>
<rect x="386.90" y="117.2" width="1.15" height="10.80" fill="#b8d0ea"/>
<rect x="387.80" y="117.2" width="1.25" height="10.80" fill="#d2deec"/>
<rect x="388.80" y="117.2" width="1.25" height="10.80" fill="#c3d6eb"/>
<rect x="389.80" y="117.2" width="1.75" height="10.80" fill="#c4d6eb"/>
<rect x="391.30" y="117.2" width="1.25" height="10.80" fill="#c7d8eb"/>
<rect x="392.30" y="117.2" width="0.95" height="10.80" fill="#bcd2ea"/>
<rect x="393.00" y="117.2" width="1.45" height="10.80" fill="#c5d7eb"/>
<rect x="394.20" y="117.2" width="1.25" height="10.80" fill="#d0ddec"/>
<rect x="395.20" y="117.2" width="1.25" height="10.80" fill="#cadaeb"/>
<rect x="396.20" y="117.2" width="1.25" height="10.80" fill="#cadaeb"/>
<rect x="397.20" y="117.2" width="1.45" height="10.80" fill="#d0ddec"/>
<rect x="398.40" y="117.2" width="1.45" height="10.80" fill="#adc9e9"/>
<rect x="399.60" y="117.2" width="1.25" height="10.80" fill="#d0ddec"/>
<rect x="400.60" y="117.2" width="1.15" height="10.80" fill="#cbdaeb"/>
<rect x="401.50" y="117.2" width="1.25" height="10.80" fill="#c5d7eb"/>
<rect x="402.50" y="117.2" width="1.75" height="10.80" fill="#ccdbeb"/>
<rect x="404.00" y="117.2" width="0.95" height="10.80" fill="#ccdbeb"/>
<rect x="404.70" y="117.2" width="1.45" height="10.80" fill="#c6d7eb"/>
<rect x="405.90" y="117.2" width="1.75" height="10.80" fill="#c8d9eb"/>
<rect x="407.40" y="117.2" width="1.45" height="10.80" fill="#c7d8eb"/>
<rect x="408.60" y="117.2" width="1.15" height="10.80" fill="#c1d4eb"/>
<rect x="409.50" y="117.2" width="1.75" height="10.80" fill="#c4d6eb"/>
<rect x="411.00" y="117.2" width="1.15" height="10.80" fill="#b4ceea"/>
<rect x="411.90" y="117.2" width="1.45" height="10.80" fill="#cbdaeb"/>
<rect x="413.10" y="117.2" width="1.75" height="10.80" fill="#c2d5eb"/>
<rect x="414.60" y="117.2" width="1.15" height="10.80" fill="#bad1ea"/>
<rect x="415.50" y="117.2" width="1.15" height="10.80" fill="#c6d8eb"/>
<rect x="416.40" y="117.2" width="0.95" height="10.80" fill="#d4dfec"/>
<rect x="417.10" y="117.2" width="1.75" height="10.80" fill="#c4d6eb"/>
<rect x="418.60" y="117.2" width="1.25" height="10.80" fill="#c4d7eb"/>
<rect x="419.60" y="117.2" width="1.25" height="10.80" fill="#bbd1ea"/>
<rect x="420.60" y="117.2" width="1.15" height="10.80" fill="#dae3ec"/>
<rect x="421.50" y="117.2" width="1.15" height="10.80" fill="#b4cdea"/>
<rect x="422.40" y="117.2" width="0.95" height="10.80" fill="#cfdcec"/>
<rect x="423.10" y="117.2" width="1.15" height="10.80" fill="#d3dfec"/>
<rect x="424.00" y="117.2" width="1.45" height="10.80" fill="#cddceb"/>
<rect x="425.20" y="117.2" width="1.75" height="10.80" fill="#b6ceea"/>
<rect x="426.70" y="117.2" width="1.15" height="10.80" fill="#c4d7eb"/>
<rect x="427.60" y="117.2" width="1.45" height="10.80" fill="#d1ddec"/>
<rect x="428.80" y="117.2" width="1.15" height="10.80" fill="#d4dfec"/>
<rect x="429.70" y="117.2" width="1.15" height="10.80" fill="#d9e2ec"/>
<rect x="430.60" y="117.2" width="1.25" height="10.80" fill="#d2deec"/>
<rect x="431.60" y="117.2" width="1.15" height="10.80" fill="#c6d8eb"/>
<rect x="432.50" y="117.2" width="1.75" height="10.80" fill="#c3d6eb"/>
<rect x="434.00" y="117.2" width="1.75" height="10.80" fill="#d9e2ec"/>
<rect x="435.50" y="117.2" width="0.95" height="10.80" fill="#cadaeb"/>
<rect x="436.20" y="117.2" width="1.15" height="10.80" fill="#cedcec"/>
<rect x="437.10" y="117.2" width="1.25" height="10.80" fill="#c2d5eb"/>
<rect x="438.10" y="117.2" width="0.95" height="10.80" fill="#d2deec"/>
<rect x="438.80" y="117.2" width="1.25" height="10.80" fill="#dbe3ec"/>
<rect x="439.80" y="117.2" width="1.75" height="10.80" fill="#dbe3ec"/>
<rect x="441.30" y="117.2" width="1.45" height="10.80" fill="#bed3ea"/>
<rect x="442.50" y="117.2" width="1.25" height="10.80" fill="#c6d8eb"/>
<rect x="443.50" y="117.2" width="0.95" height="10.80" fill="#c8d8eb"/>
<rect x="444.20" y="117.2" width="0.95" height="10.80" fill="#bad1ea"/>
<rect x="444.90" y="117.2" width="1.15" height="10.80" fill="#b0cbe9"/>
<rect x="445.80" y="117.2" width="1.45" height="10.80" fill="#cadaeb"/>
<rect x="447.00" y="117.2" width="1.45" height="10.80" fill="#c3d6eb"/>
<rect x="448.20" y="117.2" width="1.15" height="10.80" fill="#c7d8eb"/>
<rect x="449.10" y="117.2" width="1.25" height="10.80" fill="#c4d7eb"/>
<rect x="450.10" y="117.2" width="1.15" height="10.80" fill="#e1e7ed"/>
<rect x="451.00" y="117.2" width="1.45" height="10.80" fill="#cbdaeb"/>
<rect x="452.20" y="117.2" width="1.45" height="10.80" fill="#c6d8eb"/>
<rect x="453.40" y="117.2" width="0.95" height="10.80" fill="#d3dfec"/>
<rect x="454.10" y="117.2" width="1.15" height="10.80" fill="#c6d7eb"/>
<rect x="455.00" y="117.2" width="1.75" height="10.80" fill="#c6d7eb"/>
<rect x="456.50" y="117.2" width="1.25" height="10.80" fill="#cfdcec"/>
<rect x="457.50" y="117.2" width="1.25" height="10.80" fill="#bdd3ea"/>
<rect x="458.50" y="117.2" width="1.25" height="10.80" fill="#c9d9eb"/>
<rect x="459.50" y="117.2" width="1.15" height="10.80" fill="#d9e2ec"/>
<rect x="460.40" y="117.2" width="0.95" height="10.80" fill="#d6e1ec"/>
<rect x="461.10" y="117.2" width="1.75" height="10.80" fill="#c3d6eb"/>
<rect x="462.60" y="117.2" width="1.45" height="10.80" fill="#c6d7eb"/>
<rect x="463.80" y="117.2" width="0.95" height="10.80" fill="#ccdbeb"/>
<rect x="464.50" y="117.2" width="1.25" height="10.80" fill="#b8d0ea"/>
<rect x="465.50" y="117.2" width="0.95" height="10.80" fill="#d6e0ec"/>
<rect x="466.20" y="117.2" width="0.95" height="10.80" fill="#cbdaeb"/>
<rect x="466.90" y="117.2" width="1.25" height="10.80" fill="#c4d6eb"/>
<rect x="467.90" y="117.2" width="1.45" height="10.80" fill="#c3d6eb"/>
<rect x="469.10" y="117.2" width="1.25" height="10.80" fill="#d9e2ec"/>
<rect x="470.10" y="117.2" width="1.75" height="10.80" fill="#d1ddec"/>
<rect x="471.60" y="117.2" width="1.15" height="10.80" fill="#bdd2ea"/>
<rect x="472.50" y="117.2" width="0.95" height="10.80" fill="#d6e0ec"/>
<rect x="482.20" y="56" width="1.25" height="10.50" fill="#98bde7"/>
<rect x="483.20" y="56" width="1.25" height="10.50" fill="#82b1e4"/>
<rect x="484.20" y="56" width="1.25" height="10.50" fill="#85b3e5"/>
<rect x="485.20" y="56" width="1.15" height="10.50" fill="#87b4e5"/>
<rect x="486.10" y="56" width="0.95" height="10.50" fill="#88b5e5"/>
<rect x="486.80" y="56" width="1.45" height="10.50" fill="#8bb6e6"/>
<rect x="488.00" y="56" width="0.95" height="10.50" fill="#7cade3"/>
<rect x="488.70" y="56" width="1.45" height="10.50" fill="#8cb7e6"/>
<rect x="489.90" y="56" width="1.45" height="10.50" fill="#8db7e6"/>
<rect x="491.10" y="56" width="1.15" height="10.50" fill="#84b2e5"/>
<rect x="492.00" y="56" width="1.25" height="10.50" fill="#79abe3"/>
<rect x="493.00" y="56" width="1.15" height="10.50" fill="#87b4e5"/>
<rect x="493.90" y="56" width="1.15" height="10.50" fill="#7fafe4"/>
<rect x="494.80" y="56" width="1.15" height="10.50" fill="#6ea5e1"/>
<rect x="495.70" y="56" width="0.95" height="10.50" fill="#a4c5e9"/>
<rect x="496.40" y="56" width="1.25" height="10.50" fill="#85b2e5"/>
<rect x="497.40" y="56" width="1.75" height="10.50" fill="#6ca4e1"/>
<rect x="498.90" y="56" width="1.15" height="10.50" fill="#77aae3"/>
<rect x="499.80" y="56" width="0.95" height="10.50" fill="#81b0e4"/>
<rect x="500.50" y="56" width="1.25" height="10.50" fill="#78abe3"/>
<rect x="501.50" y="56" width="0.95" height="10.50" fill="#6ea5e1"/>
<rect x="502.20" y="56" width="0.95" height="10.50" fill="#8bb6e6"/>
<rect x="502.90" y="56" width="1.25" height="10.50" fill="#7aace3"/>
<rect x="503.90" y="56" width="1.75" height="10.50" fill="#7eaee4"/>
<rect x="505.40" y="56" width="1.45" height="10.50" fill="#84b2e4"/>
<rect x="506.60" y="56" width="1.45" height="10.50" fill="#8db7e6"/>
<rect x="507.80" y="56" width="1.75" height="10.50" fill="#8eb8e6"/>
<rect x="509.30" y="56" width="0.95" height="10.50" fill="#67a1e0"/>
<rect x="510.00" y="56" width="1.45" height="10.50" fill="#7eaee4"/>
<rect x="511.20" y="56" width="1.15" height="10.50" fill="#87b4e5"/>
<rect x="512.10" y="56" width="1.45" height="10.50" fill="#83b1e4"/>
<rect x="513.30" y="56" width="1.25" height="10.50" fill="#78abe3"/>
<rect x="514.30" y="56" width="1.25" height="10.50" fill="#98bee7"/>
<rect x="515.30" y="56" width="1.45" height="10.50" fill="#8fb8e6"/>
<rect x="516.50" y="56" width="1.15" height="10.50" fill="#a4c4e9"/>
<rect x="517.40" y="56" width="1.25" height="10.50" fill="#84b2e5"/>
<rect x="518.40" y="56" width="1.25" height="10.50" fill="#9cc0e8"/>
<rect x="519.40" y="56" width="1.15" height="10.50" fill="#87b4e5"/>
<rect x="520.30" y="56" width="1.75" height="10.50" fill="#78abe3"/>
<rect x="521.80" y="56" width="1.25" height="10.50" fill="#81b0e4"/>
<rect x="522.80" y="56" width="1.15" height="10.50" fill="#8bb6e6"/>
<rect x="523.70" y="56" width="1.75" height="10.50" fill="#a2c3e8"/>
<rect x="525.20" y="56" width="1.05" height="10.50" fill="#80b0e4"/>
<rect x="482.20" y="68.6" width="0.95" height="10.00" fill="#eeeeee"/>
<rect x="482.90" y="68.6" width="1.25" height="10.00" fill="#f2e6db"/>
<rect x="483.90" y="68.6" width="1.25" height="10.00" fill="#f2eee9"/>
<rect x="484.90" y="68.6" width="0.95" height="10.00" fill="#f2f0ee"/>
<rect x="485.60" y="68.6" width="1.15" height="10.00" fill="#e1e6ed"/>
<rect x="486.50" y="68.6" width="1.75" height="10.00" fill="#f2e8df"/>
<rect x="488.00" y="68.6" width="1.25" height="10.00" fill="#f2ede9"/>
<rect x="489.00" y="68.6" width="0.95" height="10.00" fill="#dfe6ed"/>
<rect x="489.70" y="68.6" width="1.45" height="10.00" fill="#d8e1ec"/>
<rect x="490.90" y="68.6" width="1.15" height="10.00" fill="#f2ede8"/>
<rect x="491.80" y="68.6" width="1.75" height="10.00" fill="#e5e9ed"/>
<rect x="493.30" y="68.6" width="1.25" height="10.00" fill="#f2e5da"/>
<rect x="494.30" y="68.6" width="1.25" height="10.00" fill="#f2e4d7"/>
<rect x="495.30" y="68.6" width="0.95" height="10.00" fill="#f1f0ee"/>
<rect x="496.00" y="68.6" width="1.75" height="10.00" fill="#dbe3ec"/>
<rect x="497.50" y="68.6" width="1.45" height="10.00" fill="#f2ece6"/>
<rect x="498.70" y="68.6" width="1.75" height="10.00" fill="#f2e9e0"/>
<rect x="500.20" y="68.6" width="1.45" height="10.00" fill="#e9ebed"/>
<rect x="501.40" y="68.6" width="1.45" height="10.00" fill="#f1dbc7"/>
<rect x="502.60" y="68.6" width="1.75" height="10.00" fill="#f2ece6"/>
<rect x="504.10" y="68.6" width="1.25" height="10.00" fill="#f0efee"/>
<rect x="505.10" y="68.6" width="1.15" height="10.00" fill="#f2efed"/>
<rect x="506.00" y="68.6" width="1.45" height="10.00" fill="#f2e4d8"/>
<rect x="507.20" y="68.6" width="1.15" height="10.00" fill="#f2e8df"/>
<rect x="508.10" y="68.6" width="1.75" height="10.00" fill="#e7eaed"/>
<rect x="509.60" y="68.6" width="1.75" height="10.00" fill="#f2e4d7"/>
<rect x="511.10" y="68.6" width="1.25" height="10.00" fill="#f2ece7"/>
<rect x="512.10" y="68.6" width="1.75" height="10.00" fill="#e6e9ed"/>
<rect x="513.60" y="68.6" width="1.25" height="10.00" fill="#d8e1ec"/>
<rect x="514.60" y="68.6" width="1.25" height="10.00" fill="#f2eae3"/>
<rect x="515.60" y="68.6" width="1.75" height="10.00" fill="#efeeee"/>
<rect x="517.10" y="68.6" width="1.25" height="10.00" fill="#e4e8ed"/>
<rect x="518.10" y="68.6" width="1.25" height="10.00" fill="#dce4ec"/>
<rect x="519.10" y="68.6" width="1.25" height="10.00" fill="#f2e6db"/>
<rect x="520.10" y="68.6" width="0.95" height="10.00" fill="#f2f0ed"/>
<rect x="520.80" y="68.6" width="0.95" height="10.00" fill="#f2e9e1"/>
<rect x="521.50" y="68.6" width="1.25" height="10.00" fill="#e9ebed"/>
<rect x="522.50" y="68.6" width="1.45" height="10.00" fill="#f0efee"/>
<rect x="523.70" y="68.6" width="1.45" height="10.00" fill="#f2ebe5"/>
<rect x="524.90" y="68.6" width="1.15" height="10.00" fill="#f2e8e0"/>
<rect x="525.80" y="68.6" width="0.45" height="10.00" fill="#f2ece6"/>
<rect x="482.20" y="78.6" width="1.45" height="10.20" fill="#f1e0cf"/>
<rect x="483.40" y="78.6" width="1.25" height="10.20" fill="#f2e6db"/>
<rect x="484.40" y="78.6" width="1.15" height="10.20" fill="#f2eae3"/>
<rect x="485.30" y="78.6" width="1.75" height="10.20" fill="#f2f0ee"/>
<rect x="486.80" y="78.6" width="1.45" height="10.20" fill="#f2e6db"/>
<rect x="488.00" y="78.6" width="1.75" height="10.20" fill="#f2ebe5"/>
<rect x="489.50" y="78.6" width="1.75" height="10.20" fill="#f1d8c1"/>
<rect x="491.00" y="78.6" width="1.15" height="10.20" fill="#f2e3d6"/>
<rect x="491.90" y="78.6" width="1.25" height="10.20" fill="#f2eae3"/>
<rect x="492.90" y="78.6" width="1.25" height="10.20" fill="#f1d2b5"/>
<rect x="493.90" y="78.6" width="1.15" height="10.20" fill="#f2e4d8"/>
<rect x="494.80" y="78.6" width="1.45" height="10.20" fill="#f1d5bc"/>
<rect x="496.00" y="78.6" width="1.25" height="10.20" fill="#f2eae3"/>
<rect x="497.00" y="78.6" width="1.45" height="10.20" fill="#f1e0d0"/>
<rect x="498.20" y="78.6" width="1.45" height="10.20" fill="#f2e1d2"/>
<rect x="499.40" y="78.6" width="1.15" height="10.20" fill="#f1d8c1"/>
<rect x="500.30" y="78.6" width="1.25" height="10.20" fill="#f2e8de"/>
<rect x="501.30" y="78.6" width="1.15" height="10.20" fill="#f2e7de"/>
<rect x="502.20" y="78.6" width="0.95" height="10.20" fill="#f1decd"/>
<rect x="502.90" y="78.6" width="1.75" height="10.20" fill="#f2ebe4"/>
<rect x="504.40" y="78.6" width="1.25" height="10.20" fill="#f2e8e0"/>
<rect x="505.40" y="78.6" width="1.45" height="10.20" fill="#ecedee"/>
<rect x="506.60" y="78.6" width="1.75" height="10.20" fill="#f2e1d1"/>
<rect x="508.10" y="78.6" width="1.25" height="10.20" fill="#f2efed"/>
<rect x="509.10" y="78.6" width="1.15" height="10.20" fill="#f1d7bf"/>
<rect x="510.00" y="78.6" width="1.75" height="10.20" fill="#f2efed"/>
<rect x="511.50" y="78.6" width="1.25" height="10.20" fill="#f1ddca"/>
<rect x="512.50" y="78.6" width="1.25" height="10.20" fill="#f2e2d3"/>
<rect x="513.50" y="78.6" width="1.25" height="10.20" fill="#f1dfcf"/>
<rect x="514.50" y="78.6" width="1.75" height="10.20" fill="#f2e9e2"/>
<rect x="516.00" y="78.6" width="1.75" height="10.20" fill="#f2ede8"/>
<rect x="517.50" y="78.6" width="1.45" height="10.20" fill="#f2eee9"/>
<rect x="518.70" y="78.6" width="1.75" height="10.20" fill="#f1dcc8"/>
<rect x="520.20" y="78.6" width="1.25" height="10.20" fill="#f2e3d5"/>
<rect x="521.20" y="78.6" width="1.25" height="10.20" fill="#f2e8df"/>
<rect x="522.20" y="78.6" width="1.75" height="10.20" fill="#f2e9e1"/>
<rect x="523.70" y="78.6" width="0.95" height="10.20" fill="#f2f0ee"/>
<rect x="524.40" y="78.6" width="1.45" height="10.20" fill="#f2ebe4"/>
<rect x="525.60" y="78.6" width="0.65" height="10.20" fill="#f2e9e1"/>
<rect x="482.20" y="94.8" width="0.95" height="10.20" fill="#8fb8e6"/>
<rect x="482.90" y="94.8" width="1.25" height="10.20" fill="#a4c4e9"/>
<rect x="483.90" y="94.8" width="1.25" height="10.20" fill="#a6c5e9"/>
<rect x="484.90" y="94.8" width="1.15" height="10.20" fill="#b0cbe9"/>
<rect x="485.80" y="94.8" width="1.45" height="10.20" fill="#bed3ea"/>
<rect x="487.00" y="94.8" width="0.95" height="10.20" fill="#adc9e9"/>
<rect x="487.70" y="94.8" width="1.45" height="10.20" fill="#a5c5e9"/>
<rect x="488.90" y="94.8" width="1.75" height="10.20" fill="#b6cfea"/>
<rect x="490.40" y="94.8" width="1.15" height="10.20" fill="#a4c4e9"/>
<rect x="491.30" y="94.8" width="1.25" height="10.20" fill="#a6c6e9"/>
<rect x="492.30" y="94.8" width="1.45" height="10.20" fill="#a3c4e8"/>
<rect x="493.50" y="94.8" width="1.25" height="10.20" fill="#98bde7"/>
<rect x="494.50" y="94.8" width="1.75" height="10.20" fill="#92bae7"/>
<rect x="496.00" y="94.8" width="1.75" height="10.20" fill="#8bb6e6"/>
<rect x="497.50" y="94.8" width="1.75" height="10.20" fill="#bbd1ea"/>
<rect x="499.00" y="94.8" width="1.25" height="10.20" fill="#a2c3e8"/>
<rect x="500.00" y="94.8" width="1.15" height="10.20" fill="#9cc0e8"/>
<rect x="500.90" y="94.8" width="1.45" height="10.20" fill="#a2c3e8"/>
<rect x="502.10" y="94.8" width="1.45" height="10.20" fill="#a6c5e9"/>
<rect x="503.30" y="94.8" width="1.25" height="10.20" fill="#acc9e9"/>
<rect x="504.30" y="94.8" width="0.95" height="10.20" fill="#a0c2e8"/>
<rect x="505.00" y="94.8" width="1.15" height="10.20" fill="#a0c2e8"/>
<rect x="505.90" y="94.8" width="1.75" height="10.20" fill="#b3cdea"/>
<rect x="507.40" y="94.8" width="1.25" height="10.20" fill="#b3cdea"/>
<rect x="508.40" y="94.8" width="1.25" height="10.20" fill="#9dc0e8"/>
<rect x="509.40" y="94.8" width="1.25" height="10.20" fill="#adc9e9"/>
<rect x="510.40" y="94.8" width="1.25" height="10.20" fill="#a4c4e9"/>
<rect x="511.40" y="94.8" width="1.25" height="10.20" fill="#a9c7e9"/>
<rect x="512.40" y="94.8" width="1.25" height="10.20" fill="#afcbe9"/>
<rect x="513.40" y="94.8" width="1.25" height="10.20" fill="#adc9e9"/>
<rect x="514.40" y="94.8" width="1.25" height="10.20" fill="#abc9e9"/>
<rect x="515.40" y="94.8" width="1.25" height="10.20" fill="#8ab6e5"/>
<rect x="516.40" y="94.8" width="1.25" height="10.20" fill="#bad1ea"/>
<rect x="517.40" y="94.8" width="0.95" height="10.20" fill="#adc9e9"/>
<rect x="518.10" y="94.8" width="1.25" height="10.20" fill="#bfd3ea"/>
<rect x="519.10" y="94.8" width="1.45" height="10.20" fill="#aecae9"/>
<rect x="520.30" y="94.8" width="1.25" height="10.20" fill="#95bce7"/>
<rect x="521.30" y="94.8" width="0.95" height="10.20" fill="#b1cce9"/>
<rect x="522.00" y="94.8" width="1.25" height="10.20" fill="#b6cfea"/>
<rect x="523.00" y="94.8" width="1.75" height="10.20" fill="#93bbe7"/>
<rect x="524.50" y="94.8" width="0.95" height="10.20" fill="#9fc2e8"/>
<rect x="525.20" y="94.8" width="1.05" height="10.20" fill="#95bce7"/>
<rect x="482.20" y="107" width="1.25" height="10.20" fill="#efad71"/>
<rect x="483.20" y="107" width="1.45" height="10.20" fill="#f0af75"/>
<rect x="484.40" y="107" width="0.95" height="10.20" fill="#f1c59e"/>
<rect x="485.10" y="107" width="1.25" height="10.20" fill="#f0b783"/>
<rect x="486.10" y="107" width="1.45" height="10.20" fill="#f0b580"/>
<rect x="487.30" y="107" width="1.75" height="10.20" fill="#f0bd8f"/>
<rect x="488.80" y="107" width="1.25" height="10.20" fill="#f0b987"/>
<rect x="489.80" y="107" width="1.25" height="10.20" fill="#eea461"/>
<rect x="490.80" y="107" width="1.45" height="10.20" fill="#f0b885"/>
<rect x="492.00" y="107" width="0.95" height="10.20" fill="#f0b580"/>
<rect x="492.70" y="107" width="1.25" height="10.20" fill="#f1c399"/>
<rect x="493.70" y="107" width="1.75" height="10.20" fill="#f0b077"/>
<rect x="495.20" y="107" width="1.75" height="10.20" fill="#f0b178"/>
<rect x="496.70" y="107" width="1.15" height="10.20" fill="#efaa6b"/>
<rect x="497.60" y="107" width="1.75" height="10.20" fill="#f0b886"/>
<rect x="499.10" y="107" width="0.95" height="10.20" fill="#f0b47e"/>
<rect x="499.80" y="107" width="1.75" height="10.20" fill="#f0be91"/>
<rect x="501.30" y="107" width="1.25" height="10.20" fill="#f0be90"/>
<rect x="502.30" y="107" width="1.25" height="10.20" fill="#f0b076"/>
<rect x="503.30" y="107" width="1.25" height="10.20" fill="#efad71"/>
<rect x="504.30" y="107" width="1.15" height="10.20" fill="#f0c094"/>
<rect x="505.20" y="107" width="1.45" height="10.20" fill="#f0b782"/>
<rect x="506.40" y="107" width="1.25" height="10.20" fill="#f0bf92"/>
<rect x="507.40" y="107" width="1.15" height="10.20" fill="#f0b37b"/>
<rect x="508.30" y="107" width="1.25" height="10.20" fill="#efa96a"/>
<rect x="509.30" y="107" width="0.95" height="10.20" fill="#f1c7a1"/>
<rect x="510.00" y="107" width="1.75" height="10.20" fill="#f0b681"/>
<rect x="511.50" y="107" width="1.15" height="10.20" fill="#f0be90"/>
<rect x="512.40" y="107" width="1.45" height="10.20" fill="#f0ba89"/>
<rect x="513.60" y="107" width="1.75" height="10.20" fill="#f0b886"/>
<rect x="515.10" y="107" width="1.15" height="10.20" fill="#eea564"/>
<rect x="516.00" y="107" width="1.15" height="10.20" fill="#f0b37b"/>
<rect x="516.90" y="107" width="1.15" height="10.20" fill="#eea563"/>
<rect x="517.80" y="107" width="1.45" height="10.20" fill="#f0b178"/>
<rect x="519.00" y="107" width="0.95" height="10.20" fill="#f0b178"/>
<rect x="519.70" y="107" width="1.75" height="10.20" fill="#eea25e"/>
<rect x="521.20" y="107" width="1.25" height="10.20" fill="#f0b988"/>
<rect x="522.20" y="107" width="1.25" height="10.20" fill="#efad70"/>
<rect x="523.20" y="107" width="1.75" height="10.20" fill="#efac6f"/>
<rect x="524.70" y="107" width="1.25" height="10.20" fill="#f0bb8b"/>
<rect x="525.70" y="107" width="0.55" height="10.20" fill="#f0ba89"/>
<rect x="482.20" y="117.2" width="1.45" height="10.80" fill="#f0bd8f"/>
<rect x="483.40" y="117.2" width="1.45" height="10.80" fill="#f0bb8c"/>
<rect x="484.60" y="117.2" width="1.15" height="10.80" fill="#f0af75"/>
<rect x="485.50" y="117.2" width="1.25" height="10.80" fill="#f0b988"/>
<rect x="486.50" y="117.2" width="1.75" height="10.80" fill="#f1c69f"/>
<rect x="488.00" y="117.2" width="0.95" height="10.80" fill="#f0bd8e"/>
<rect x="488.70" y="117.2" width="1.25" height="10.80" fill="#efab6d"/>
<rect x="489.70" y="117.2" width="0.95" height="10.80" fill="#f0b47d"/>
<rect x="490.40" y="117.2" width="1.25" height="10.80" fill="#f0b37c"/>
<rect x="491.40" y="117.2" width="1.15" height="10.80" fill="#efac6f"/>
<rect x="492.30" y="117.2" width="1.25" height="10.80" fill="#f0b681"/>
<rect x="493.30" y="117.2" width="1.25" height="10.80" fill="#f0b27a"/>
<rect x="494.30" y="117.2" width="1.45" height="10.80" fill="#f1c49c"/>
<rect x="495.50" y="117.2" width="0.95" height="10.80" fill="#f0ba8a"/>
<rect x="496.20" y="117.2" width="1.45" height="10.80" fill="#f0b37c"/>
<rect x="497.40" y="117.2" width="1.15" height="10.80" fill="#f0b987"/>
<rect x="498.30" y="117.2" width="1.25" height="10.80" fill="#f0bb8a"/>
<rect x="499.30" y="117.2" width="1.25" height="10.80" fill="#f0bb8b"/>
<rect x="500.30" y="117.2" width="1.45" height="10.80" fill="#f0bb8a"/>
<rect x="501.50" y="117.2" width="1.15" height="10.80" fill="#f0b885"/>
<rect x="502.40" y="117.2" width="1.25" height="10.80" fill="#efad71"/>
<rect x="503.40" y="117.2" width="1.45" height="10.80" fill="#f1c299"/>
<rect x="504.60" y="117.2" width="1.75" height="10.80" fill="#eea666"/>
<rect x="506.10" y="117.2" width="0.95" height="10.80" fill="#f0b27a"/>
<rect x="506.80" y="117.2" width="1.45" height="10.80" fill="#f0b682"/>
<rect x="508.00" y="117.2" width="1.75" height="10.80" fill="#efad71"/>
<rect x="509.50" y="117.2" width="1.25" height="10.80" fill="#f0b783"/>
<rect x="510.50" y="117.2" width="1.25" height="10.80" fill="#f0c095"/>
<rect x="511.50" y="117.2" width="1.25" height="10.80" fill="#f0c195"/>
<rect x="512.50" y="117.2" width="1.15" height="10.80" fill="#f0b681"/>
<rect x="513.40" y="117.2" width="1.75" height="10.80" fill="#eea25e"/>
<rect x="514.90" y="117.2" width="1.25" height="10.80" fill="#f1caa7"/>
<rect x="515.90" y="117.2" width="1.45" height="10.80" fill="#f0c197"/>
<rect x="517.10" y="117.2" width="0.95" height="10.80" fill="#ee9f59"/>
<rect x="517.80" y="117.2" width="1.75" height="10.80" fill="#f0ba88"/>
<rect x="519.30" y="117.2" width="1.25" height="10.80" fill="#f0b47f"/>
<rect x="520.30" y="117.2" width="1.75" height="10.80" fill="#efac70"/>
<rect x="521.80" y="117.2" width="1.15" height="10.80" fill="#f0bd8f"/>
<rect x="522.70" y="117.2" width="1.25" height="10.80" fill="#f0b886"/>
<rect x="523.70" y="117.2" width="1.15" height="10.80" fill="#f0b885"/>
<rect x="524.60" y="117.2" width="1.25" height="10.80" fill="#f0b57f"/>
<rect x="525.60" y="117.2" width="0.65" height="10.80" fill="#f0b986"/>
<rect x="529.20" y="56" width="0.95" height="10.50" fill="#6aa3e1"/>
<rect x="529.90" y="56" width="1.75" height="10.50" fill="#78abe3"/>
<rect x="531.40" y="56" width="1.75" height="10.50" fill="#78abe3"/>
<rect x="532.90" y="56" width="1.45" height="10.50" fill="#80afe4"/>
<rect x="534.10" y="56" width="1.75" height="10.50" fill="#7bade3"/>
<rect x="535.60" y="56" width="0.95" height="10.50" fill="#69a2e1"/>
<rect x="536.30" y="56" width="1.75" height="10.50" fill="#70a6e2"/>
<rect x="537.80" y="56" width="0.95" height="10.50" fill="#5c9adf"/>
<rect x="538.50" y="56" width="1.25" height="10.50" fill="#75a9e2"/>
<rect x="539.50" y="56" width="1.75" height="10.50" fill="#76aae3"/>
<rect x="541.00" y="56" width="1.75" height="10.50" fill="#74a8e2"/>
<rect x="542.50" y="56" width="1.45" height="10.50" fill="#619ddf"/>
<rect x="543.70" y="56" width="1.25" height="10.50" fill="#66a0e0"/>
<rect x="544.70" y="56" width="1.25" height="10.50" fill="#66a0e0"/>
<rect x="545.70" y="56" width="1.25" height="10.50" fill="#72a8e2"/>
<rect x="546.70" y="56" width="1.15" height="10.50" fill="#78abe3"/>
<rect x="547.60" y="56" width="1.75" height="10.50" fill="#609ddf"/>
<rect x="549.10" y="56" width="1.75" height="10.50" fill="#8eb8e6"/>
<rect x="550.60" y="56" width="1.25" height="10.50" fill="#76aae3"/>
<rect x="551.60" y="56" width="1.15" height="10.50" fill="#66a0e0"/>
<rect x="552.50" y="56" width="1.25" height="10.50" fill="#77aae3"/>
<rect x="553.50" y="56" width="0.95" height="10.50" fill="#639ee0"/>
<rect x="554.20" y="56" width="1.25" height="10.50" fill="#79abe3"/>
<rect x="555.20" y="56" width="1.15" height="10.50" fill="#639fe0"/>
<rect x="556.10" y="56" width="0.95" height="10.50" fill="#68a2e1"/>
<rect x="556.80" y="56" width="1.25" height="10.50" fill="#72a7e2"/>
<rect x="557.80" y="56" width="1.15" height="10.50" fill="#66a1e0"/>
<rect x="558.70" y="56" width="1.15" height="10.50" fill="#86b3e5"/>
<rect x="559.60" y="56" width="1.75" height="10.50" fill="#6fa6e2"/>
<rect x="561.10" y="56" width="1.45" height="10.50" fill="#90b9e6"/>
<rect x="562.30" y="56" width="1.25" height="10.50" fill="#78abe3"/>
<rect x="563.30" y="56" width="1.15" height="10.50" fill="#5b9adf"/>
<rect x="564.20" y="56" width="1.25" height="10.50" fill="#76aae2"/>
<rect x="565.20" y="56" width="1.15" height="10.50" fill="#76aae3"/>
<rect x="566.10" y="56" width="1.75" height="10.50" fill="#67a1e0"/>
<rect x="567.60" y="56" width="0.95" height="10.50" fill="#6ca4e1"/>
<rect x="568.30" y="56" width="0.95" height="10.50" fill="#70a6e2"/>
<rect x="569.00" y="56" width="1.45" height="10.50" fill="#75a9e2"/>
<rect x="570.20" y="56" width="1.45" height="10.50" fill="#8eb8e6"/>
<rect x="571.40" y="56" width="1.25" height="10.50" fill="#649fe0"/>
<rect x="572.40" y="56" width="0.85" height="10.50" fill="#649fe0"/>
<rect x="529.20" y="68.6" width="1.75" height="10.00" fill="#f2e2d3"/>
<rect x="530.70" y="68.6" width="1.15" height="10.00" fill="#f1d8c1"/>
<rect x="531.60" y="68.6" width="1.25" height="10.00" fill="#f1decc"/>
<rect x="532.60" y="68.6" width="1.25" height="10.00" fill="#f1dbc7"/>
<rect x="533.60" y="68.6" width="1.15" height="10.00" fill="#f2e1d1"/>
<rect x="534.50" y="68.6" width="1.15" height="10.00" fill="#f2e9e0"/>
<rect x="535.40" y="68.6" width="1.75" height="10.00" fill="#f1dac5"/>
<rect x="536.90" y="68.6" width="1.75" height="10.00" fill="#f2e1d1"/>
<rect x="538.40" y="68.6" width="0.95" height="10.00" fill="#f2e7dd"/>
<rect x="539.10" y="68.6" width="1.45" height="10.00" fill="#f1decd"/>
<rect x="540.30" y="68.6" width="1.25" height="10.00" fill="#f2e1d2"/>
<rect x="541.30" y="68.6" width="1.15" height="10.00" fill="#f2e9e0"/>
<rect x="542.20" y="68.6" width="1.75" height="10.00" fill="#f1d6be"/>
<rect x="543.70" y="68.6" width="1.15" height="10.00" fill="#f1e0d0"/>
<rect x="544.60" y="68.6" width="1.25" height="10.00" fill="#f2e8de"/>
<rect x="545.60" y="68.6" width="1.45" height="10.00" fill="#f1d2b6"/>
<rect x="546.80" y="68.6" width="1.45" height="10.00" fill="#f1cfb1"/>
<rect x="548.00" y="68.6" width="1.25" height="10.00" fill="#f1d8c1"/>
<rect x="549.00" y="68.6" width="1.15" height="10.00" fill="#f1dcc8"/>
<rect x="549.90" y="68.6" width="0.95" height="10.00" fill="#f2eae3"/>
<rect x="550.60" y="68.6" width="1.15" height="10.00" fill="#f1d4ba"/>
<rect x="551.50" y="68.6" width="1.75" height="10.00" fill="#f1dfce"/>
<rect x="553.00" y="68.6" width="1.15" height="10.00" fill="#f2ebe4"/>
<rect x="553.90" y="68.6" width="0.95" height="10.00" fill="#f1d9c3"/>
<rect x="554.60" y="68.6" width="0.95" height="10.00" fill="#f2e1d2"/>
<rect x="555.30" y="68.6" width="0.95" height="10.00" fill="#f2e7dc"/>
<rect x="556.00" y="68.6" width="1.15" height="10.00" fill="#f1dcc9"/>
<rect x="556.90" y="68.6" width="1.75" height="10.00" fill="#f1d3b8"/>
<rect x="558.40" y="68.6" width="1.45" height="10.00" fill="#f1dbc7"/>
<rect x="559.60" y="68.6" width="1.25" height="10.00" fill="#f1decd"/>
<rect x="560.60" y="68.6" width="0.95" height="10.00" fill="#f1d9c3"/>
<rect x="561.30" y="68.6" width="1.25" height="10.00" fill="#f1decc"/>
<rect x="562.30" y="68.6" width="1.75" height="10.00" fill="#f2e2d4"/>
<rect x="563.80" y="68.6" width="0.95" height="10.00" fill="#f1d8c1"/>
<rect x="564.50" y="68.6" width="1.15" height="10.00" fill="#f1cfb1"/>
<rect x="565.40" y="68.6" width="1.45" height="10.00" fill="#f2e2d4"/>
<rect x="566.60" y="68.6" width="1.25" height="10.00" fill="#f1decd"/>
<rect x="567.60" y="68.6" width="0.95" height="10.00" fill="#f1dcc9"/>
<rect x="568.30" y="68.6" width="1.75" height="10.00" fill="#f1ddcb"/>
<rect x="569.80" y="68.6" width="0.95" height="10.00" fill="#f2eae3"/>
<rect x="570.50" y="68.6" width="1.45" height="10.00" fill="#f1decd"/>
<rect x="571.70" y="68.6" width="1.45" height="10.00" fill="#f1dbc8"/>
<rect x="572.90" y="68.6" width="0.35" height="10.00" fill="#f1ddca"/>
<rect x="529.20" y="78.6" width="1.45" height="10.20" fill="#f0b27b"/>
<rect x="530.40" y="78.6" width="0.95" height="10.20" fill="#efa868"/>
<rect x="531.10" y="78.6" width="1.45" height="10.20" fill="#f0b077"/>
<rect x="532.30" y="78.6" width="1.45" height="10.20" fill="#f0b27a"/>
<rect x="533.50" y="78.6" width="1.25" height="10.20" fill="#efad71"/>
<rect x="534.50" y="78.6" width="1.75" height="10.20" fill="#eea360"/>
<rect x="536.00" y="78.6" width="1.15" height="10.20" fill="#f0bc8c"/>
<rect x="536.90" y="78.6" width="1.45" height="10.20" fill="#f1c69f"/>
<rect x="538.10" y="78.6" width="0.95" height="10.20" fill="#f0b885"/>
<rect x="538.80" y="78.6" width="0.95" height="10.20" fill="#f0b27b"/>
<rect x="539.50" y="78.6" width="0.95" height="10.20" fill="#f0b27a"/>
<rect x="540.20" y="78.6" width="0.95" height="10.20" fill="#f0c196"/>
<rect x="540.90" y="78.6" width="0.95" height="10.20" fill="#f0b580"/>
<rect x="541.60" y="78.6" width="1.25" height="10.20" fill="#efab6d"/>
<rect x="542.60" y="78.6" width="1.15" height="10.20" fill="#f0bc8c"/>
<rect x="543.50" y="78.6" width="1.25" height="10.20" fill="#f0b076"/>
<rect x="544.50" y="78.6" width="1.15" height="10.20" fill="#efad71"/>
<rect x="545.40" y="78.6" width="0.95" height="10.20" fill="#f0b076"/>
<rect x="546.10" y="78.6" width="1.75" height="10.20" fill="#f0b47e"/>
<rect x="547.60" y="78.6" width="1.45" height="10.20" fill="#f0bb8b"/>
<rect x="548.80" y="78.6" width="1.25" height="10.20" fill="#f0b986"/>
<rect x="549.80" y="78.6" width="1.45" height="10.20" fill="#efae73"/>
<rect x="551.00" y="78.6" width="1.45" height="10.20" fill="#f0bc8c"/>
<rect x="552.20" y="78.6" width="1.75" height="10.20" fill="#f0c094"/>
<rect x="553.70" y="78.6" width="0.95" height="10.20" fill="#eea25e"/>
<rect x="554.40" y="78.6" width="1.75" height="10.20" fill="#f0b987"/>
<rect x="555.90" y="78.6" width="1.75" height="10.20" fill="#eea360"/>
<rect x="557.40" y="78.6" width="1.25" height="10.20" fill="#efae72"/>
<rect x="558.40" y="78.6" width="0.95" height="10.20" fill="#efa767"/>
<rect x="559.10" y="78.6" width="1.25" height="10.20" fill="#ed9d56"/>
<rect x="560.10" y="78.6" width="1.25" height="10.20" fill="#f0b27a"/>
<rect x="561.10" y="78.6" width="1.25" height="10.20" fill="#f0b782"/>
<rect x="562.10" y="78.6" width="1.25" height="10.20" fill="#efa868"/>
<rect x="563.10" y="78.6" width="1.15" height="10.20" fill="#f0af74"/>
<rect x="564.00" y="78.6" width="1.25" height="10.20" fill="#eea564"/>
<rect x="565.00" y="78.6" width="1.75" height="10.20" fill="#ed9e57"/>
<rect x="566.50" y="78.6" width="1.25" height="10.20" fill="#f0af75"/>
<rect x="567.50" y="78.6" width="1.25" height="10.20" fill="#f0c195"/>
<rect x="568.50" y="78.6" width="1.25" height="10.20" fill="#f0b076"/>
<rect x="569.50" y="78.6" width="1.45" height="10.20" fill="#f0b179"/>
<rect x="570.70" y="78.6" width="0.95" height="10.20" fill="#f0b682"/>
<rect x="571.40" y="78.6" width="1.25" height="10.20" fill="#efa767"/>
<rect x="572.40" y="78.6" width="0.85" height="10.20" fill="#eea15d"/>
<rect x="529.20" y="94.8" width="1.15" height="10.20" fill="#adcae9"/>
<rect x="530.10" y="94.8" width="1.25" height="10.20" fill="#b1cce9"/>
<rect x="531.10" y="94.8" width="0.95" height="10.20" fill="#9fc2e8"/>
<rect x="531.80" y="94.8" width="0.95" height="10.20" fill="#b2ccea"/>
<rect x="532.50" y="94.8" width="1.75" height="10.20" fill="#a4c4e9"/>
<rect x="534.00" y="94.8" width="1.25" height="10.20" fill="#a3c4e8"/>
<rect x="535.00" y="94.8" width="1.25" height="10.20" fill="#b8d0ea"/>
<rect x="536.00" y="94.8" width="1.15" height="10.20" fill="#aecae9"/>
<rect x="536.90" y="94.8" width="1.75" height="10.20" fill="#b1cce9"/>
<rect x="538.40" y="94.8" width="1.45" height="10.20" fill="#aecae9"/>
<rect x="539.60" y="94.8" width="1.45" height="10.20" fill="#c8d9eb"/>
<rect x="540.80" y="94.8" width="1.75" height="10.20" fill="#b0cbe9"/>
<rect x="542.30" y="94.8" width="1.75" height="10.20" fill="#9cc0e8"/>
<rect x="543.80" y="94.8" width="1.15" height="10.20" fill="#b1cce9"/>
<rect x="544.70" y="94.8" width="0.95" height="10.20" fill="#c1d5eb"/>
<rect x="545.40" y="94.8" width="1.75" height="10.20" fill="#acc9e9"/>
<rect x="546.90" y="94.8" width="1.15" height="10.20" fill="#c0d4eb"/>
<rect x="547.80" y="94.8" width="1.45" height="10.20" fill="#9cc0e8"/>
<rect x="549.00" y="94.8" width="1.75" height="10.20" fill="#b4cdea"/>
<rect x="550.50" y="94.8" width="1.75" height="10.20" fill="#abc8e9"/>
<rect x="552.00" y="94.8" width="1.25" height="10.20" fill="#b9d0ea"/>
<rect x="553.00" y="94.8" width="1.25" height="10.20" fill="#b2ccea"/>
<rect x="554.00" y="94.8" width="1.15" height="10.20" fill="#acc9e9"/>
<rect x="554.90" y="94.8" width="1.75" height="10.20" fill="#abc9e9"/>
<rect x="556.40" y="94.8" width="1.75" height="10.20" fill="#ccdbeb"/>
<rect x="557.90" y="94.8" width="1.75" height="10.20" fill="#9ec1e8"/>
<rect x="559.40" y="94.8" width="1.45" height="10.20" fill="#a4c4e9"/>
<rect x="560.60" y="94.8" width="0.95" height="10.20" fill="#aac8e9"/>
<rect x="561.30" y="94.8" width="0.95" height="10.20" fill="#a4c4e9"/>
<rect x="562.00" y="94.8" width="1.75" height="10.20" fill="#afcbe9"/>
<rect x="563.50" y="94.8" width="1.25" height="10.20" fill="#aecae9"/>
<rect x="564.50" y="94.8" width="0.95" height="10.20" fill="#b1cce9"/>
<rect x="565.20" y="94.8" width="1.25" height="10.20" fill="#b2ccea"/>
<rect x="566.20" y="94.8" width="1.75" height="10.20" fill="#bfd4ea"/>
<rect x="567.70" y="94.8" width="1.25" height="10.20" fill="#aac8e9"/>
<rect x="568.70" y="94.8" width="1.25" height="10.20" fill="#b0cbe9"/>
<rect x="569.70" y="94.8" width="1.25" height="10.20" fill="#b2ccea"/>
<rect x="570.70" y="94.8" width="1.25" height="10.20" fill="#9ec1e8"/>
<rect x="571.70" y="94.8" width="1.25" height="10.20" fill="#b7cfea"/>
<rect x="572.70" y="94.8" width="0.55" height="10.20" fill="#bed3ea"/>
<rect x="529.20" y="107" width="1.25" height="10.20" fill="#e9ebed"/>
<rect x="530.20" y="107" width="1.25" height="10.20" fill="#f2ede8"/>
<rect x="531.20" y="107" width="1.25" height="10.20" fill="#f2e5da"/>
<rect x="532.20" y="107" width="1.15" height="10.20" fill="#f2e6db"/>
<rect x="533.10" y="107" width="1.25" height="10.20" fill="#f2e7dd"/>
<rect x="534.10" y="107" width="1.75" height="10.20" fill="#f1f0ee"/>
<rect x="535.60" y="107" width="1.15" height="10.20" fill="#f1e0d0"/>
<rect x="536.50" y="107" width="0.95" height="10.20" fill="#f2e6dc"/>
<rect x="537.20" y="107" width="1.75" height="10.20" fill="#f2ede9"/>
<rect x="538.70" y="107" width="1.75" height="10.20" fill="#ebeced"/>
<rect x="540.20" y="107" width="1.15" height="10.20" fill="#f1efee"/>
<rect x="541.10" y="107" width="0.95" height="10.20" fill="#f2e8df"/>
<rect x="541.80" y="107" width="0.95" height="10.20" fill="#f2e7de"/>
<rect x="542.50" y="107" width="1.25" height="10.20" fill="#f2ebe4"/>
<rect x="543.50" y="107" width="1.45" height="10.20" fill="#f2e7dd"/>
<rect x="544.70" y="107" width="1.15" height="10.20" fill="#f2e4d7"/>
<rect x="545.60" y="107" width="1.25" height="10.20" fill="#f2e8de"/>
<rect x="546.60" y="107" width="1.15" height="10.20" fill="#f2e3d6"/>
<rect x="547.50" y="107" width="1.45" height="10.20" fill="#f2eeea"/>
<rect x="548.70" y="107" width="1.75" height="10.20" fill="#f2e7dd"/>
<rect x="550.20" y="107" width="1.75" height="10.20" fill="#f2e3d6"/>
<rect x="551.70" y="107" width="1.25" height="10.20" fill="#f2eeea"/>
<rect x="552.70" y="107" width="1.75" height="10.20" fill="#f2e7dc"/>
<rect x="554.20" y="107" width="0.95" height="10.20" fill="#f1ddcb"/>
<rect x="554.90" y="107" width="1.15" height="10.20" fill="#e7eaed"/>
<rect x="555.80" y="107" width="1.25" height="10.20" fill="#f2e9e1"/>
<rect x="556.80" y="107" width="0.95" height="10.20" fill="#dee5ed"/>
<rect x="557.50" y="107" width="1.15" height="10.20" fill="#ebeced"/>
<rect x="558.40" y="107" width="1.25" height="10.20" fill="#e6e9ed"/>
<rect x="559.40" y="107" width="1.25" height="10.20" fill="#f2e9e2"/>
<rect x="560.40" y="107" width="1.25" height="10.20" fill="#f1d8c1"/>
<rect x="561.40" y="107" width="0.95" height="10.20" fill="#f1decd"/>
<rect x="562.10" y="107" width="1.25" height="10.20" fill="#f2e6dc"/>
<rect x="563.10" y="107" width="1.15" height="10.20" fill="#f2ece7"/>
<rect x="564.00" y="107" width="1.25" height="10.20" fill="#f2e1d2"/>
<rect x="565.00" y="107" width="0.95" height="10.20" fill="#f2e2d4"/>
<rect x="565.70" y="107" width="1.25" height="10.20" fill="#f2e3d6"/>
<rect x="566.70" y="107" width="0.95" height="10.20" fill="#eeeeee"/>
<rect x="567.40" y="107" width="1.15" height="10.20" fill="#f2e5d9"/>
<rect x="568.30" y="107" width="1.15" height="10.20" fill="#f2ede9"/>
<rect x="569.20" y="107" width="1.15" height="10.20" fill="#f2e9e1"/>
<rect x="570.10" y="107" width="0.95" height="10.20" fill="#f2ebe5"/>
<rect x="570.80" y="107" width="1.15" height="10.20" fill="#f2e1d2"/>
<rect x="571.70" y="107" width="1.25" height="10.20" fill="#f2eee9"/>
<rect x="572.70" y="107" width="0.55" height="10.20" fill="#f2ece6"/>
<rect x="529.20" y="117.2" width="1.25" height="10.80" fill="#f1cba8"/>
<rect x="530.20" y="117.2" width="1.25" height="10.80" fill="#f1d5bc"/>
<rect x="531.20" y="117.2" width="0.95" height="10.80" fill="#f1c297"/>
<rect x="531.90" y="117.2" width="0.95" height="10.80" fill="#f1c7a1"/>
<rect x="532.60" y="117.2" width="1.15" height="10.80" fill="#f1d4ba"/>
<rect x="533.50" y="117.2" width="1.25" height="10.80" fill="#f1ccaa"/>
<rect x="534.50" y="117.2" width="1.15" height="10.80" fill="#f1c298"/>
<rect x="535.40" y="117.2" width="1.25" height="10.80" fill="#f1c49c"/>
<rect x="536.40" y="117.2" width="1.25" height="10.80" fill="#f1c9a5"/>
<rect x="537.40" y="117.2" width="1.25" height="10.80" fill="#f1cfb0"/>
<rect x="538.40" y="117.2" width="1.75" height="10.80" fill="#f1cdac"/>
<rect x="539.90" y="117.2" width="1.75" height="10.80" fill="#f1c59d"/>
<rect x="541.40" y="117.2" width="1.25" height="10.80" fill="#f0be90"/>
<rect x="542.40" y="117.2" width="1.25" height="10.80" fill="#f1c59d"/>
<rect x="543.40" y="117.2" width="1.25" height="10.80" fill="#f1cba8"/>
<rect x="544.40" y="117.2" width="1.75" height="10.80" fill="#f0c094"/>
<rect x="545.90" y="117.2" width="1.75" height="10.80" fill="#f1c39a"/>
<rect x="547.40" y="117.2" width="1.75" height="10.80" fill="#f1dcc8"/>
<rect x="548.90" y="117.2" width="1.25" height="10.80" fill="#f1cba9"/>
<rect x="549.90" y="117.2" width="1.75" height="10.80" fill="#f1ccab"/>
<rect x="551.40" y="117.2" width="1.15" height="10.80" fill="#f1c8a4"/>
<rect x="552.30" y="117.2" width="1.15" height="10.80" fill="#f1d7bf"/>
<rect x="553.20" y="117.2" width="1.75" height="10.80" fill="#f1d0b2"/>
<rect x="554.70" y="117.2" width="1.25" height="10.80" fill="#f1c49b"/>
<rect x="555.70" y="117.2" width="1.75" height="10.80" fill="#f0ba88"/>
<rect x="557.20" y="117.2" width="1.75" height="10.80" fill="#f1c69f"/>
<rect x="558.70" y="117.2" width="1.75" height="10.80" fill="#f1c8a2"/>
<rect x="560.20" y="117.2" width="1.45" height="10.80" fill="#f1c59d"/>
<rect x="561.40" y="117.2" width="1.25" height="10.80" fill="#f1c7a2"/>
<rect x="562.40" y="117.2" width="1.15" height="10.80" fill="#f1ccab"/>
<rect x="563.30" y="117.2" width="0.95" height="10.80" fill="#f1cfb1"/>
<rect x="564.00" y="117.2" width="1.15" height="10.80" fill="#f0b37c"/>
<rect x="564.90" y="117.2" width="1.25" height="10.80" fill="#f1caa7"/>
<rect x="565.90" y="117.2" width="0.95" height="10.80" fill="#f1d6bd"/>
<rect x="566.60" y="117.2" width="1.25" height="10.80" fill="#f1c59e"/>
<rect x="567.60" y="117.2" width="1.25" height="10.80" fill="#f1c9a6"/>
<rect x="568.60" y="117.2" width="1.25" height="10.80" fill="#f1c9a5"/>
<rect x="569.60" y="117.2" width="1.45" height="10.80" fill="#f0c095"/>
<rect x="570.80" y="117.2" width="1.75" height="10.80" fill="#f2e5da"/>
<rect x="572.30" y="117.2" width="0.95" height="10.80" fill="#f1c9a5"/>
<rect x="575.40" y="56" width="1.15" height="10.50" fill="#cddbeb"/>
<rect x="576.30" y="56" width="1.25" height="10.50" fill="#d5e0ec"/>
<rect x="577.30" y="56" width="1.25" height="10.50" fill="#c4d6eb"/>
<rect x="578.30" y="56" width="1.25" height="10.50" fill="#e8ebed"/>
<rect x="579.30" y="56" width="0.95" height="10.50" fill="#bfd3ea"/>
<rect x="580.00" y="56" width="1.75" height="10.50" fill="#cedceb"/>
<rect x="581.50" y="56" width="1.75" height="10.50" fill="#d3dfec"/>
<rect x="583.00" y="56" width="1.15" height="10.50" fill="#cad9eb"/>
<rect x="583.90" y="56" width="1.15" height="10.50" fill="#c8d9eb"/>
<rect x="584.80" y="56" width="1.45" height="10.50" fill="#c8d8eb"/>
<rect x="586.00" y="56" width="1.25" height="10.50" fill="#bdd3ea"/>
<rect x="587.00" y="56" width="1.45" height="10.50" fill="#bfd4ea"/>
<rect x="588.20" y="56" width="1.75" height="10.50" fill="#c1d5eb"/>
<rect x="589.70" y="56" width="1.45" height="10.50" fill="#cedceb"/>
<rect x="590.90" y="56" width="0.95" height="10.50" fill="#c6d7eb"/>
<rect x="591.60" y="56" width="1.15" height="10.50" fill="#d4dfec"/>
<rect x="592.50" y="56" width="1.45" height="10.50" fill="#cfdcec"/>
<rect x="593.70" y="56" width="0.95" height="10.50" fill="#d0ddec"/>
<rect x="594.40" y="56" width="1.15" height="10.50" fill="#c9d9eb"/>
<rect x="595.30" y="56" width="1.45" height="10.50" fill="#cfddec"/>
<rect x="596.50" y="56" width="1.25" height="10.50" fill="#cadaeb"/>
<rect x="597.50" y="56" width="1.45" height="10.50" fill="#bfd4ea"/>
<rect x="598.70" y="56" width="1.75" height="10.50" fill="#c9d9eb"/>
<rect x="600.20" y="56" width="1.75" height="10.50" fill="#cfdcec"/>
<rect x="601.70" y="56" width="1.25" height="10.50" fill="#dae3ec"/>
<rect x="602.70" y="56" width="0.95" height="10.50" fill="#c4d6eb"/>
<rect x="603.40" y="56" width="0.95" height="10.50" fill="#b3cdea"/>
<rect x="604.10" y="56" width="0.95" height="10.50" fill="#d1ddec"/>
<rect x="604.80" y="56" width="1.25" height="10.50" fill="#dae3ec"/>
<rect x="605.80" y="56" width="1.15" height="10.50" fill="#d1ddec"/>
<rect x="606.70" y="56" width="1.15" height="10.50" fill="#bbd1ea"/>
<rect x="607.60" y="56" width="1.25" height="10.50" fill="#cfdcec"/>
<rect x="608.60" y="56" width="1.75" height="10.50" fill="#c0d4ea"/>
<rect x="610.10" y="56" width="0.95" height="10.50" fill="#bcd2ea"/>
<rect x="610.80" y="56" width="1.25" height="10.50" fill="#c9d9eb"/>
<rect x="611.80" y="56" width="1.45" height="10.50" fill="#d9e2ec"/>
<rect x="613.00" y="56" width="1.75" height="10.50" fill="#d0ddec"/>
<rect x="614.50" y="56" width="1.45" height="10.50" fill="#afcbe9"/>
<rect x="615.70" y="56" width="1.15" height="10.50" fill="#b9d0ea"/>
<rect x="616.60" y="56" width="1.05" height="10.50" fill="#cedcec"/>
<rect x="575.40" y="68.6" width="1.45" height="10.00" fill="#f1d7c0"/>
<rect x="576.60" y="68.6" width="1.25" height="10.00" fill="#f0bf93"/>
<rect x="577.60" y="68.6" width="1.75" height="10.00" fill="#f1caa7"/>
<rect x="579.10" y="68.6" width="1.45" height="10.00" fill="#f1c399"/>
<rect x="580.30" y="68.6" width="1.25" height="10.00" fill="#f1ccab"/>
<rect x="581.30" y="68.6" width="1.75" height="10.00" fill="#f1ceae"/>
<rect x="582.80" y="68.6" width="0.95" height="10.00" fill="#f1d2b5"/>
<rect x="583.50" y="68.6" width="1.75" height="10.00" fill="#f1d2b5"/>
<rect x="585.00" y="68.6" width="1.25" height="10.00" fill="#f1caa8"/>
<rect x="586.00" y="68.6" width="1.25" height="10.00" fill="#f1ccab"/>
<rect x="587.00" y="68.6" width="1.25" height="10.00" fill="#f1d1b4"/>
<rect x="588.00" y="68.6" width="1.75" height="10.00" fill="#f1d7bf"/>
<rect x="589.50" y="68.6" width="1.15" height="10.00" fill="#f1d2b6"/>
<rect x="590.40" y="68.6" width="1.15" height="10.00" fill="#f1c9a5"/>
<rect x="591.30" y="68.6" width="1.25" height="10.00" fill="#f0b784"/>
<rect x="592.30" y="68.6" width="1.45" height="10.00" fill="#f0bf91"/>
<rect x="593.50" y="68.6" width="1.25" height="10.00" fill="#f1cfaf"/>
<rect x="594.50" y="68.6" width="1.75" height="10.00" fill="#f1c8a3"/>
<rect x="596.00" y="68.6" width="1.15" height="10.00" fill="#f1d4ba"/>
<rect x="596.90" y="68.6" width="1.25" height="10.00" fill="#f0c196"/>
<rect x="597.90" y="68.6" width="1.75" height="10.00" fill="#f1d3b8"/>
<rect x="599.40" y="68.6" width="1.15" height="10.00" fill="#f1cba8"/>
<rect x="600.30" y="68.6" width="1.75" height="10.00" fill="#f1c9a6"/>
<rect x="601.80" y="68.6" width="0.95" height="10.00" fill="#f1c49c"/>
<rect x="602.50" y="68.6" width="1.45" height="10.00" fill="#f1c59e"/>
<rect x="603.70" y="68.6" width="1.25" height="10.00" fill="#f1c49c"/>
<rect x="604.70" y="68.6" width="1.75" height="10.00" fill="#f0c195"/>
<rect x="606.20" y="68.6" width="1.25" height="10.00" fill="#f1c59e"/>
<rect x="607.20" y="68.6" width="1.45" height="10.00" fill="#f1d2b7"/>
<rect x="608.40" y="68.6" width="1.25" height="10.00" fill="#f1cdac"/>
<rect x="609.40" y="68.6" width="1.25" height="10.00" fill="#f1c6a0"/>
<rect x="610.40" y="68.6" width="0.95" height="10.00" fill="#f1c298"/>
<rect x="611.10" y="68.6" width="1.75" height="10.00" fill="#f1cdad"/>
<rect x="612.60" y="68.6" width="1.25" height="10.00" fill="#f1cfb1"/>
<rect x="613.60" y="68.6" width="0.95" height="10.00" fill="#f0bc8d"/>
<rect x="614.30" y="68.6" width="1.45" height="10.00" fill="#f1ceaf"/>
<rect x="615.50" y="68.6" width="1.75" height="10.00" fill="#f1c9a5"/>
<rect x="617.00" y="68.6" width="0.65" height="10.00" fill="#f1c59d"/>
<rect x="575.40" y="78.6" width="1.15" height="10.20" fill="#f1d2b6"/>
<rect x="576.30" y="78.6" width="1.75" height="10.20" fill="#f0ba89"/>
<rect x="577.80" y="78.6" width="1.25" height="10.20" fill="#f1c59d"/>
<rect x="578.80" y="78.6" width="1.25" height="10.20" fill="#f1c49b"/>
<rect x="579.80" y="78.6" width="1.75" height="10.20" fill="#f0be91"/>
<rect x="581.30" y="78.6" width="1.15" height="10.20" fill="#f1cfb0"/>
<rect x="582.20" y="78.6" width="0.95" height="10.20" fill="#f1ceae"/>
<rect x="582.90" y="78.6" width="1.45" height="10.20" fill="#f1ccaa"/>
<rect x="584.10" y="78.6" width="1.25" height="10.20" fill="#f0b784"/>
<rect x="585.10" y="78.6" width="1.15" height="10.20" fill="#f1c49b"/>
<rect x="586.00" y="78.6" width="0.95" height="10.20" fill="#f1c7a1"/>
<rect x="586.70" y="78.6" width="1.15" height="10.20" fill="#f1c7a2"/>
<rect x="587.60" y="78.6" width="1.15" height="10.20" fill="#f1c8a3"/>
<rect x="588.50" y="78.6" width="1.15" height="10.20" fill="#f0b987"/>
<rect x="589.40" y="78.6" width="0.95" height="10.20" fill="#f1c39a"/>
<rect x="590.10" y="78.6" width="0.95" height="10.20" fill="#f1c69f"/>
<rect x="590.80" y="78.6" width="1.15" height="10.20" fill="#f1c298"/>
<rect x="591.70" y="78.6" width="1.45" height="10.20" fill="#f0c094"/>
<rect x="592.90" y="78.6" width="1.25" height="10.20" fill="#f1caa7"/>
<rect x="593.90" y="78.6" width="1.25" height="10.20" fill="#f0be91"/>
<rect x="594.90" y="78.6" width="1.25" height="10.20" fill="#f1d0b3"/>
<rect x="595.90" y="78.6" width="1.25" height="10.20" fill="#f0b580"/>
<rect x="596.90" y="78.6" width="1.15" height="10.20" fill="#f1c7a1"/>
<rect x="597.80" y="78.6" width="0.95" height="10.20" fill="#f1c39a"/>
<rect x="598.50" y="78.6" width="1.75" height="10.20" fill="#f1c298"/>
<rect x="600.00" y="78.6" width="1.75" height="10.20" fill="#f1c7a2"/>
<rect x="601.50" y="78.6" width="1.25" height="10.20" fill="#f1ccab"/>
<rect x="602.50" y="78.6" width="1.15" height="10.20" fill="#f0be90"/>
<rect x="603.40" y="78.6" width="1.45" height="10.20" fill="#f0bc8d"/>
<rect x="604.60" y="78.6" width="0.95" height="10.20" fill="#f1cba9"/>
<rect x="605.30" y="78.6" width="1.15" height="10.20" fill="#f1c297"/>
<rect x="606.20" y="78.6" width="1.25" height="10.20" fill="#f1ceaf"/>
<rect x="607.20" y="78.6" width="1.75" height="10.20" fill="#f0bf92"/>
<rect x="608.70" y="78.6" width="0.95" height="10.20" fill="#f1c69f"/>
<rect x="609.40" y="78.6" width="1.25" height="10.20" fill="#f0bd8e"/>
<rect x="610.40" y="78.6" width="1.15" height="10.20" fill="#f0c094"/>
<rect x="611.30" y="78.6" width="1.75" height="10.20" fill="#f1d0b2"/>
<rect x="612.80" y="78.6" width="1.15" height="10.20" fill="#f1c49b"/>
<rect x="613.70" y="78.6" width="1.45" height="10.20" fill="#f0bc8c"/>
<rect x="614.90" y="78.6" width="1.45" height="10.20" fill="#f0bf93"/>
<rect x="616.10" y="78.6" width="1.25" height="10.20" fill="#f1c399"/>
<rect x="617.10" y="78.6" width="0.55" height="10.20" fill="#f1c298"/>
<rect x="575.40" y="94.8" width="1.15" height="10.20" fill="#649fe0"/>
<rect x="576.30" y="94.8" width="1.15" height="10.20" fill="#629ee0"/>
<rect x="577.20" y="94.8" width="1.25" height="10.20" fill="#5093dd"/>
<rect x="578.20" y="94.8" width="1.25" height="10.20" fill="#5a9adf"/>
<rect x="579.20" y="94.8" width="1.75" height="10.20" fill="#619ddf"/>
<rect x="580.70" y="94.8" width="0.95" height="10.20" fill="#5d9bdf"/>
<rect x="581.40" y="94.8" width="1.15" height="10.20" fill="#5496de"/>
<rect x="582.30" y="94.8" width="1.75" height="10.20" fill="#5a99de"/>
<rect x="583.80" y="94.8" width="1.75" height="10.20" fill="#5596de"/>
<rect x="585.30" y="94.8" width="1.15" height="10.20" fill="#5c9bdf"/>
<rect x="586.20" y="94.8" width="1.15" height="10.20" fill="#77abe3"/>
<rect x="587.10" y="94.8" width="1.25" height="10.20" fill="#5898de"/>
<rect x="588.10" y="94.8" width="1.15" height="10.20" fill="#5e9cdf"/>
<rect x="589.00" y="94.8" width="1.25" height="10.20" fill="#609ddf"/>
<rect x="590.00" y="94.8" width="1.75" height="10.20" fill="#5697de"/>
<rect x="591.50" y="94.8" width="1.25" height="10.20" fill="#458ddb"/>
<rect x="592.50" y="94.8" width="1.25" height="10.20" fill="#5596de"/>
<rect x="593.50" y="94.8" width="0.95" height="10.20" fill="#68a1e0"/>
<rect x="594.20" y="94.8" width="1.45" height="10.20" fill="#5898de"/>
<rect x="595.40" y="94.8" width="1.25" height="10.20" fill="#619ee0"/>
<rect x="596.40" y="94.8" width="1.45" height="10.20" fill="#5b9adf"/>
<rect x="597.60" y="94.8" width="1.75" height="10.20" fill="#609ddf"/>
<rect x="599.10" y="94.8" width="1.15" height="10.20" fill="#5596de"/>
<rect x="600.00" y="94.8" width="0.95" height="10.20" fill="#5c9adf"/>
<rect x="600.70" y="94.8" width="1.45" height="10.20" fill="#5798de"/>
<rect x="601.90" y="94.8" width="1.75" height="10.20" fill="#498fdc"/>
<rect x="603.40" y="94.8" width="1.75" height="10.20" fill="#5395dd"/>
<rect x="604.90" y="94.8" width="0.95" height="10.20" fill="#5c9adf"/>
<rect x="605.60" y="94.8" width="0.95" height="10.20" fill="#5496de"/>
<rect x="606.30" y="94.8" width="1.25" height="10.20" fill="#5094dd"/>
<rect x="607.30" y="94.8" width="1.25" height="10.20" fill="#69a2e1"/>
<rect x="608.30" y="94.8" width="1.45" height="10.20" fill="#619ddf"/>
<rect x="609.50" y="94.8" width="1.15" height="10.20" fill="#4a90dc"/>
<rect x="610.40" y="94.8" width="1.75" height="10.20" fill="#609ddf"/>
<rect x="611.90" y="94.8" width="1.25" height="10.20" fill="#5c9adf"/>
<rect x="612.90" y="94.8" width="1.25" height="10.20" fill="#5295dd"/>
<rect x="613.90" y="94.8" width="1.75" height="10.20" fill="#66a0e0"/>
<rect x="615.40" y="94.8" width="0.95" height="10.20" fill="#5697de"/>
<rect x="616.10" y="94.8" width="1.25" height="10.20" fill="#6ca4e1"/>
<rect x="617.10" y="94.8" width="0.55" height="10.20" fill="#65a0e0"/>
<rect x="575.40" y="107" width="0.95" height="10.20" fill="#f1dcc9"/>
<rect x="576.10" y="107" width="1.45" height="10.20" fill="#e5e9ed"/>
<rect x="577.30" y="107" width="1.15" height="10.20" fill="#f1ddcb"/>
<rect x="578.20" y="107" width="0.95" height="10.20" fill="#f2e4d8"/>
<rect x="578.90" y="107" width="1.25" height="10.20" fill="#efeeee"/>
<rect x="579.90" y="107" width="1.75" height="10.20" fill="#e8eaed"/>
<rect x="581.40" y="107" width="1.25" height="10.20" fill="#f2ede8"/>
<rect x="582.40" y="107" width="1.25" height="10.20" fill="#f2e8df"/>
<rect x="583.40" y="107" width="1.75" height="10.20" fill="#f1d7bf"/>
<rect x="584.90" y="107" width="0.95" height="10.20" fill="#f1ddca"/>
<rect x="585.60" y="107" width="0.95" height="10.20" fill="#f2ede8"/>
<rect x="586.30" y="107" width="1.15" height="10.20" fill="#f1dbc6"/>
<rect x="587.20" y="107" width="1.45" height="10.20" fill="#f2e7dc"/>
<rect x="588.40" y="107" width="1.15" height="10.20" fill="#f2e7dd"/>
<rect x="589.30" y="107" width="1.45" height="10.20" fill="#f2f0ee"/>
<rect x="590.50" y="107" width="1.15" height="10.20" fill="#f2efeb"/>
<rect x="591.40" y="107" width="1.15" height="10.20" fill="#ebecee"/>
<rect x="592.30" y="107" width="1.75" height="10.20" fill="#f1dfce"/>
<rect x="593.80" y="107" width="1.25" height="10.20" fill="#ebecee"/>
<rect x="594.80" y="107" width="1.25" height="10.20" fill="#f1dbc7"/>
<rect x="595.80" y="107" width="1.45" height="10.20" fill="#f2e4d8"/>
<rect x="597.00" y="107" width="1.75" height="10.20" fill="#f2e5d9"/>
<rect x="598.50" y="107" width="1.75" height="10.20" fill="#f2e1d2"/>
<rect x="600.00" y="107" width="1.15" height="10.20" fill="#f2efec"/>
<rect x="600.90" y="107" width="1.45" height="10.20" fill="#f2e4d7"/>
<rect x="602.10" y="107" width="1.25" height="10.20" fill="#e9ebed"/>
<rect x="603.10" y="107" width="1.75" height="10.20" fill="#f2e5d9"/>
<rect x="604.60" y="107" width="1.75" height="10.20" fill="#f1dbc6"/>
<rect x="606.10" y="107" width="1.15" height="10.20" fill="#f1e0d1"/>
<rect x="607.00" y="107" width="1.45" height="10.20" fill="#f2eeeb"/>
<rect x="608.20" y="107" width="1.25" height="10.20" fill="#f2e9e0"/>
<rect x="609.20" y="107" width="1.45" height="10.20" fill="#f2ebe5"/>
<rect x="610.40" y="107" width="1.25" height="10.20" fill="#f2e4d7"/>
<rect x="611.40" y="107" width="1.45" height="10.20" fill="#eaeced"/>
<rect x="612.60" y="107" width="1.25" height="10.20" fill="#f2efeb"/>
<rect x="613.60" y="107" width="1.25" height="10.20" fill="#f1dcc9"/>
<rect x="614.60" y="107" width="1.75" height="10.20" fill="#f2e6db"/>
<rect x="616.10" y="107" width="0.95" height="10.20" fill="#f2e1d2"/>
<rect x="616.80" y="107" width="0.85" height="10.20" fill="#f2eae3"/>
<rect x="575.40" y="117.2" width="1.25" height="10.80" fill="#f1cdad"/>
<rect x="576.40" y="117.2" width="1.45" height="10.80" fill="#f1caa8"/>
<rect x="577.60" y="117.2" width="1.25" height="10.80" fill="#f1ccab"/>
<rect x="578.60" y="117.2" width="1.15" height="10.80" fill="#f1c39a"/>
<rect x="579.50" y="117.2" width="1.25" height="10.80" fill="#f1dac4"/>
<rect x="580.50" y="117.2" width="1.25" height="10.80" fill="#f1d0b3"/>
<rect x="581.50" y="117.2" width="1.25" height="10.80" fill="#f0c197"/>
<rect x="582.50" y="117.2" width="1.25" height="10.80" fill="#f1d1b4"/>
<rect x="583.50" y="117.2" width="0.95" height="10.80" fill="#f0b886"/>
<rect x="584.20" y="117.2" width="1.75" height="10.80" fill="#f1d7bf"/>
<rect x="585.70" y="117.2" width="1.45" height="10.80" fill="#f1c6a0"/>
<rect x="586.90" y="117.2" width="1.15" height="10.80" fill="#f1c8a2"/>
<rect x="587.80" y="117.2" width="0.95" height="10.80" fill="#f1d8c1"/>
<rect x="588.50" y="117.2" width="1.75" height="10.80" fill="#f1caa7"/>
<rect x="590.00" y="117.2" width="1.25" height="10.80" fill="#f1c8a4"/>
<rect x="591.00" y="117.2" width="1.25" height="10.80" fill="#f1d4ba"/>
<rect x="592.00" y="117.2" width="1.25" height="10.80" fill="#f1cdac"/>
<rect x="593.00" y="117.2" width="1.25" height="10.80" fill="#f1c59e"/>
<rect x="594.00" y="117.2" width="1.25" height="10.80" fill="#f1c59d"/>
<rect x="595.00" y="117.2" width="1.75" height="10.80" fill="#f1c9a5"/>
<rect x="596.50" y="117.2" width="1.15" height="10.80" fill="#f1d4b9"/>
<rect x="597.40" y="117.2" width="1.25" height="10.80" fill="#f1c9a5"/>
<rect x="598.40" y="117.2" width="1.75" height="10.80" fill="#f1d0b2"/>
<rect x="599.90" y="117.2" width="1.75" height="10.80" fill="#f1dfce"/>
<rect x="601.40" y="117.2" width="1.45" height="10.80" fill="#f1d2b5"/>
<rect x="602.60" y="117.2" width="1.25" height="10.80" fill="#f1c39b"/>
<rect x="603.60" y="117.2" width="1.25" height="10.80" fill="#f1d0b2"/>
<rect x="604.60" y="117.2" width="1.75" height="10.80" fill="#f1c9a4"/>
<rect x="606.10" y="117.2" width="1.25" height="10.80" fill="#f1d1b4"/>
<rect x="607.10" y="117.2" width="1.25" height="10.80" fill="#f1cdac"/>
<rect x="608.10" y="117.2" width="1.25" height="10.80" fill="#f1c9a4"/>
<rect x="609.10" y="117.2" width="0.95" height="10.80" fill="#f1cba9"/>
<rect x="609.80" y="117.2" width="1.25" height="10.80" fill="#f1ceae"/>
<rect x="610.80" y="117.2" width="0.95" height="10.80" fill="#f1d4ba"/>
<rect x="611.50" y="117.2" width="0.95" height="10.80" fill="#f1d3b8"/>
<rect x="612.20" y="117.2" width="1.15" height="10.80" fill="#f1c59d"/>
<rect x="613.10" y="117.2" width="1.25" height="10.80" fill="#f1d6be"/>
<rect x="614.10" y="117.2" width="1.25" height="10.80" fill="#f1c59e"/>
<rect x="615.10" y="117.2" width="1.75" height="10.80" fill="#f1cfb0"/>
<rect x="616.60" y="117.2" width="1.05" height="10.80" fill="#f1dfce"/>
<rect x="620.00" y="56" width="1.75" height="10.50" fill="#efa766"/>
<rect x="621.50" y="56" width="1.25" height="10.50" fill="#efaa6d"/>
<rect x="622.50" y="56" width="0.95" height="10.50" fill="#f0b27a"/>
<rect x="623.20" y="56" width="1.45" height="10.50" fill="#f0b885"/>
<rect x="624.40" y="56" width="1.45" height="10.50" fill="#f0b27b"/>
<rect x="625.60" y="56" width="0.95" height="10.50" fill="#f0b37c"/>
<rect x="626.30" y="56" width="1.75" height="10.50" fill="#efa96a"/>
<rect x="627.80" y="56" width="1.15" height="10.50" fill="#efa868"/>
<rect x="628.70" y="56" width="1.25" height="10.50" fill="#eea25e"/>
<rect x="629.70" y="56" width="1.75" height="10.50" fill="#efab6f"/>
<rect x="631.20" y="56" width="1.45" height="10.50" fill="#f0ae73"/>
<rect x="632.40" y="56" width="0.95" height="10.50" fill="#f0b57f"/>
<rect x="633.10" y="56" width="0.95" height="10.50" fill="#efa767"/>
<rect x="633.80" y="56" width="1.75" height="10.50" fill="#ec9446"/>
<rect x="635.30" y="56" width="1.15" height="10.50" fill="#ec9343"/>
<rect x="636.20" y="56" width="1.45" height="10.50" fill="#efad71"/>
<rect x="637.40" y="56" width="1.75" height="10.50" fill="#eea05a"/>
<rect x="638.90" y="56" width="1.25" height="10.50" fill="#ed9e56"/>
<rect x="639.90" y="56" width="1.35" height="10.50" fill="#eea15c"/>
<rect x="620.00" y="68.6" width="0.95" height="10.00" fill="#e1e7ed"/>
<rect x="620.70" y="68.6" width="1.75" height="10.00" fill="#f2eeea"/>
<rect x="622.20" y="68.6" width="1.25" height="10.00" fill="#e6e9ed"/>
<rect x="623.20" y="68.6" width="0.95" height="10.00" fill="#ebecee"/>
<rect x="623.90" y="68.6" width="1.25" height="10.00" fill="#e0e6ed"/>
<rect x="624.90" y="68.6" width="1.25" height="10.00" fill="#e6e9ed"/>
<rect x="625.90" y="68.6" width="1.45" height="10.00" fill="#dce4ec"/>
<rect x="627.10" y="68.6" width="1.45" height="10.00" fill="#d5e0ec"/>
<rect x="628.30" y="68.6" width="1.45" height="10.00" fill="#f2eeea"/>
<rect x="629.50" y="68.6" width="1.45" height="10.00" fill="#dee5ed"/>
<rect x="630.70" y="68.6" width="1.25" height="10.00" fill="#ecedee"/>
<rect x="631.70" y="68.6" width="1.15" height="10.00" fill="#dce4ec"/>
<rect x="632.60" y="68.6" width="1.15" height="10.00" fill="#eeeeee"/>
<rect x="633.50" y="68.6" width="0.95" height="10.00" fill="#dee5ed"/>
<rect x="634.20" y="68.6" width="1.45" height="10.00" fill="#cbdaeb"/>
<rect x="635.40" y="68.6" width="1.15" height="10.00" fill="#f1f0ee"/>
<rect x="636.30" y="68.6" width="1.45" height="10.00" fill="#ebeced"/>
<rect x="637.50" y="68.6" width="1.75" height="10.00" fill="#dfe5ed"/>
<rect x="639.00" y="68.6" width="1.75" height="10.00" fill="#eaeced"/>
<rect x="640.50" y="68.6" width="0.75" height="10.00" fill="#d8e2ec"/>
<rect x="620.00" y="78.6" width="1.45" height="10.20" fill="#c3d6eb"/>
<rect x="621.20" y="78.6" width="1.25" height="10.20" fill="#c8d8eb"/>
<rect x="622.20" y="78.6" width="0.95" height="10.20" fill="#b2cdea"/>
<rect x="622.90" y="78.6" width="1.25" height="10.20" fill="#c9d9eb"/>
<rect x="623.90" y="78.6" width="1.45" height="10.20" fill="#bfd3ea"/>
<rect x="625.10" y="78.6" width="1.45" height="10.20" fill="#cddceb"/>
<rect x="626.30" y="78.6" width="1.75" height="10.20" fill="#bcd2ea"/>
<rect x="627.80" y="78.6" width="0.95" height="10.20" fill="#c2d5eb"/>
<rect x="628.50" y="78.6" width="1.25" height="10.20" fill="#c7d8eb"/>
<rect x="629.50" y="78.6" width="1.15" height="10.20" fill="#bdd2ea"/>
<rect x="630.40" y="78.6" width="1.45" height="10.20" fill="#c0d4eb"/>
<rect x="631.60" y="78.6" width="1.15" height="10.20" fill="#cfddec"/>
<rect x="632.50" y="78.6" width="1.15" height="10.20" fill="#acc9e9"/>
<rect x="633.40" y="78.6" width="1.15" height="10.20" fill="#b1cce9"/>
<rect x="634.30" y="78.6" width="1.45" height="10.20" fill="#c0d4eb"/>
<rect x="635.50" y="78.6" width="1.25" height="10.20" fill="#bbd1ea"/>
<rect x="636.50" y="78.6" width="1.75" height="10.20" fill="#bad1ea"/>
<rect x="638.00" y="78.6" width="1.25" height="10.20" fill="#bcd2ea"/>
<rect x="639.00" y="78.6" width="1.45" height="10.20" fill="#dce4ec"/>
<rect x="640.20" y="78.6" width="1.05" height="10.20" fill="#cadaeb"/>
<rect x="620.00" y="94.8" width="0.95" height="10.20" fill="#ed9d56"/>
<rect x="620.70" y="94.8" width="1.45" height="10.20" fill="#f0b884"/>
<rect x="621.90" y="94.8" width="1.75" height="10.20" fill="#f0b177"/>
<rect x="623.40" y="94.8" width="1.15" height="10.20" fill="#eea665"/>
<rect x="624.30" y="94.8" width="1.75" height="10.20" fill="#efa868"/>
<rect x="625.80" y="94.8" width="1.25" height="10.20" fill="#ee9f59"/>
<rect x="626.80" y="94.8" width="1.75" height="10.20" fill="#efaa6c"/>
<rect x="628.30" y="94.8" width="1.15" height="10.20" fill="#eea462"/>
<rect x="629.20" y="94.8" width="1.25" height="10.20" fill="#f0b076"/>
<rect x="630.20" y="94.8" width="1.25" height="10.20" fill="#eea35f"/>
<rect x="631.20" y="94.8" width="1.15" height="10.20" fill="#f0b077"/>
<rect x="632.10" y="94.8" width="1.15" height="10.20" fill="#f0b178"/>
<rect x="633.00" y="94.8" width="1.15" height="10.20" fill="#efae73"/>
<rect x="633.90" y="94.8" width="1.25" height="10.20" fill="#efac70"/>
<rect x="634.90" y="94.8" width="1.15" height="10.20" fill="#f0b886"/>
<rect x="635.80" y="94.8" width="1.45" height="10.20" fill="#eea25e"/>
<rect x="637.00" y="94.8" width="1.25" height="10.20" fill="#f0b178"/>
<rect x="638.00" y="94.8" width="1.45" height="10.20" fill="#efa96a"/>
<rect x="639.20" y="94.8" width="1.15" height="10.20" fill="#f0b47e"/>
<rect x="640.10" y="94.8" width="1.15" height="10.20" fill="#efa869"/>
<rect x="620.00" y="107" width="1.15" height="10.20" fill="#c5d7eb"/>
<rect x="620.90" y="107" width="1.25" height="10.20" fill="#cfdcec"/>
<rect x="621.90" y="107" width="0.95" height="10.20" fill="#bad1ea"/>
<rect x="622.60" y="107" width="1.25" height="10.20" fill="#cadaeb"/>
<rect x="623.60" y="107" width="1.25" height="10.20" fill="#b9d0ea"/>
<rect x="624.60" y="107" width="1.25" height="10.20" fill="#d2deec"/>
<rect x="625.60" y="107" width="1.75" height="10.20" fill="#d1deec"/>
<rect x="627.10" y="107" width="1.45" height="10.20" fill="#d7e1ec"/>
<rect x="628.30" y="107" width="1.45" height="10.20" fill="#dbe3ec"/>
<rect x="629.50" y="107" width="1.75" height="10.20" fill="#c5d7eb"/>
<rect x="631.00" y="107" width="1.25" height="10.20" fill="#b9d0ea"/>
<rect x="632.00" y="107" width="1.75" height="10.20" fill="#d1deec"/>
<rect x="633.50" y="107" width="1.25" height="10.20" fill="#d4dfec"/>
<rect x="634.50" y="107" width="1.15" height="10.20" fill="#bfd3ea"/>
<rect x="635.40" y="107" width="1.45" height="10.20" fill="#b8d0ea"/>
<rect x="636.60" y="107" width="0.95" height="10.20" fill="#b3cdea"/>
<rect x="637.30" y="107" width="1.75" height="10.20" fill="#cbdaeb"/>
<rect x="638.80" y="107" width="1.25" height="10.20" fill="#cddbeb"/>
<rect x="639.80" y="107" width="1.25" height="10.20" fill="#b4ceea"/>
<rect x="640.80" y="107" width="0.45" height="10.20" fill="#bad1ea"/>
<rect x="620.00" y="117.2" width="1.15" height="10.80" fill="#8fb9e6"/>
<rect x="620.90" y="117.2" width="1.15" height="10.80" fill="#99bee8"/>
<rect x="621.80" y="117.2" width="1.25" height="10.80" fill="#b1cce9"/>
<rect x="622.80" y="117.2" width="0.95" height="10.80" fill="#afcae9"/>
<rect x="623.50" y="117.2" width="1.45" height="10.80" fill="#96bde7"/>
<rect x="624.70" y="117.2" width="1.25" height="10.80" fill="#aac8e9"/>
<rect x="625.70" y="117.2" width="1.25" height="10.80" fill="#89b5e5"/>
<rect x="626.70" y="117.2" width="1.25" height="10.80" fill="#b1cce9"/>
<rect x="627.70" y="117.2" width="1.45" height="10.80" fill="#7bade3"/>
<rect x="628.90" y="117.2" width="1.75" height="10.80" fill="#97bde7"/>
<rect x="630.40" y="117.2" width="1.25" height="10.80" fill="#a5c5e9"/>
<rect x="631.40" y="117.2" width="1.45" height="10.80" fill="#a4c4e9"/>
<rect x="632.60" y="117.2" width="1.45" height="10.80" fill="#82b1e4"/>
<rect x="633.80" y="117.2" width="0.95" height="10.80" fill="#92bae7"/>
<rect x="634.50" y="117.2" width="1.25" height="10.80" fill="#9fc2e8"/>
<rect x="635.50" y="117.2" width="1.75" height="10.80" fill="#99bee8"/>
<rect x="637.00" y="117.2" width="1.45" height="10.80" fill="#b7cfea"/>
<rect x="638.20" y="117.2" width="1.25" height="10.80" fill="#a0c2e8"/>
<rect x="639.20" y="117.2" width="1.25" height="10.80" fill="#a8c6e9"/>
<rect x="640.20" y="117.2" width="0.95" height="10.80" fill="#adcae9"/>
<rect x="640.90" y="117.2" width="0.35" height="10.80" fill="#9fc2e8"/>
<rect x="104.40" y="68.30" width="51.20" height="20.90" fill="none" stroke="#f4685a" stroke-width="1.1"/>
<rect x="160.60" y="68.30" width="101.60" height="20.80" fill="none" stroke="#4f6ff0" stroke-width="1.1"/>
<rect x="271.30" y="106.70" width="27.60" height="21.60" fill="none" stroke="#f4685a" stroke-width="1.1"/>
<rect x="303.60" y="106.70" width="169.40" height="21.60" fill="none" stroke="#4f6ff0" stroke-width="1.1"/>
<rect x="194.40" y="68.90" width="2.40" height="19.60" fill="#fff"/>
<rect x="346.20" y="107.30" width="3.00" height="20.40" fill="#fff"/>
<text x="98.60" y="65.00" font-size="9.7" text-anchor="end" fill="#111" stroke="#111" stroke-width="0.2">Normal</text>
<text x="98.60" y="76.90" font-size="9.7" text-anchor="end" fill="#d4a019" stroke="#d4a019" stroke-width="0.2">MDS-MLD</text>
<text x="98.60" y="87.40" font-size="9.7" text-anchor="end" fill="#d2503e" stroke="#d2503e" stroke-width="0.2">MDS-EB</text>
<text x="98.60" y="104.00" font-size="9.7" text-anchor="end" fill="#111" stroke="#111" stroke-width="0.2">Normal</text>
<text x="98.60" y="115.90" font-size="9.7" text-anchor="end" fill="#d4a019" stroke="#d4a019" stroke-width="0.2">MDS-MLD</text>
<text x="98.60" y="126.60" font-size="9.7" text-anchor="end" fill="#d2503e" stroke="#d2503e" stroke-width="0.2">MDS-EB</text>
<text x="45.20" y="77.00" font-size="11" text-anchor="end" fill="#5a6bc2" stroke="#5a6bc2" stroke-width="0.2">Stem</text>
<text x="45.20" y="115.80" font-size="11" text-anchor="end" fill="#86bd57" stroke="#86bd57" stroke-width="0.2">Pro</text>
<line x1="50.30" y1="56.00" x2="50.30" y2="89.50" stroke="#9aa5da" stroke-width="1"/>
<line x1="50.30" y1="94.40" x2="50.30" y2="128.40" stroke="#a9cf8c" stroke-width="1"/>
<defs><linearGradient id="cb" x1="0" y1="0" x2="0" y2="1"><stop offset="0" stop-color="#e8740e"/><stop offset="0.25" stop-color="#f0b27a"/><stop offset="0.5" stop-color="#f2f0ee"/><stop offset="0.75" stop-color="#9cc0e8"/><stop offset="1" stop-color="#2d7fd8"/></linearGradient></defs>
<rect x="660.30" y="33.90" width="8.70" height="82.80" fill="url(#cb)"/>
<text x="656.80" y="37.65" font-size="8.0" text-anchor="end" fill="#222">2</text>
<text x="656.80" y="58.40" font-size="8.0" text-anchor="end" fill="#222">1</text>
<text x="656.80" y="78.60" font-size="8.0" text-anchor="end" fill="#222">0</text>
<text x="656.80" y="98.90" font-size="8.0" text-anchor="end" fill="#222">−1</text>
<text x="656.80" y="118.70" font-size="8.0" text-anchor="end" fill="#222">−2</text>
<text transform="translate(681.60,101.00) rotate(-90)" font-size="9.6" fill="#111" stroke="#111" stroke-width="0.2">Peak signal</text>
<text x="-1.00" y="179.70" font-size="16.5" font-weight="bold" fill="#000" stroke="#000" stroke-width="0.2">b</text>
<text x="31.00" y="181.20" font-size="9.75"><tspan fill="#111" stroke="#111" stroke-width="0.2">DARs (NC </tspan><tspan fill="#5a6bc2" stroke="#5a6bc2" stroke-width="0.2">Stem</tspan></text>
<line x1="104.16" y1="177.90" x2="109.36" y2="177.90" stroke="#111" stroke-width="0.9"/>
<polygon points="112.56,177.90 108.96,175.80 108.96,180.00" fill="#111"/>
<text x="115.16" y="181.20" font-size="9.75"><tspan fill="#d2503e" stroke="#d2503e" stroke-width="0.2">MDS </tspan><tspan fill="#5a6bc2" stroke="#5a6bc2" stroke-width="0.2">Stem</tspan><tspan fill="#111" stroke="#111" stroke-width="0.2">)</tspan></text>
<line x1="31.00" y1="185.40" x2="307.40" y2="185.40" stroke="#6a7bd0" stroke-width="1.2"/>
<text x="375.00" y="181.20" font-size="9.75"><tspan fill="#111" stroke="#111" stroke-width="0.2">DARs (NC </tspan><tspan fill="#86bd57" stroke="#86bd57" stroke-width="0.2">Pro</tspan></text>
<line x1="440.58" y1="177.90" x2="445.78" y2="177.90" stroke="#111" stroke-width="0.9"/>
<polygon points="448.98,177.90 445.38,175.80 445.38,180.00" fill="#111"/>
<text x="451.58" y="181.20" font-size="9.75"><tspan fill="#d2503e" stroke="#d2503e" stroke-width="0.2">MDS </tspan><tspan fill="#86bd57" stroke="#86bd57" stroke-width="0.2">Pro</tspan><tspan fill="#111" stroke="#111" stroke-width="0.2">)</tspan></text>
<line x1="374.00" y1="185.40" x2="651.00" y2="185.40" stroke="#96c66e" stroke-width="1.2"/>
<text transform="translate(24.70,262.60) rotate(-90)" font-size="9.8" fill="#111" stroke="#111" stroke-width="0.2">Peak signal</text>
<text transform="translate(366.20,262.60) rotate(-90)" font-size="9.8" fill="#111" stroke="#111" stroke-width="0.2">Peak signal</text>
<rect x="40.60" y="204.60" width="70.80" height="67.40" fill="none" stroke="#444" stroke-width="0.9"/>
<line x1="76.00" y1="205.10" x2="76.00" y2="271.50" stroke="#c4c4c4" stroke-width="0.6"/>
<line x1="36.60" y1="206.10" x2="40.60" y2="206.10" stroke="#555" stroke-width="0.9"/>
<text x="35.60" y="208.40" font-size="8.6" text-anchor="end" fill="#222">2</text>
<line x1="36.60" y1="223.55" x2="40.60" y2="223.55" stroke="#555" stroke-width="0.9"/>
<text x="35.60" y="225.85" font-size="8.6" text-anchor="end" fill="#222">1</text>
<line x1="36.60" y1="241.00" x2="40.60" y2="241.00" stroke="#555" stroke-width="0.9"/>
<text x="35.60" y="243.30" font-size="8.6" text-anchor="end" fill="#222">0</text>
<line x1="36.60" y1="258.45" x2="40.60" y2="258.45" stroke="#555" stroke-width="0.9"/>
<text x="35.60" y="260.75" font-size="8.6" text-anchor="end" fill="#222">−1</text>
<line x1="47.30" y1="272.00" x2="47.30" y2="275.20" stroke="#444" stroke-width="0.9"/>
<line x1="58.78" y1="272.00" x2="58.78" y2="275.20" stroke="#444" stroke-width="0.9"/>
<line x1="70.26" y1="272.00" x2="70.26" y2="275.20" stroke="#444" stroke-width="0.9"/>
<line x1="81.74" y1="272.00" x2="81.74" y2="275.20" stroke="#444" stroke-width="0.9"/>
<line x1="93.22" y1="272.00" x2="93.22" y2="275.20" stroke="#444" stroke-width="0.9"/>
<line x1="104.70" y1="272.00" x2="104.70" y2="275.20" stroke="#444" stroke-width="0.9"/>
<polyline points="47.30,269.62 58.78,247.46 70.26,240.48 81.74,233.32 93.22,227.39 104.70,228.78" fill="none" stroke="#cfcfcf" stroke-width="0.7"/>
<rect x="52.00" y="234.60" width="23.60" height="17.80" fill="none" stroke="#f4685a" stroke-width="1.1"/>
<circle cx="47.30" cy="269.62" r="2.45" fill="#4b5fc0"/>
<circle cx="58.78" cy="247.46" r="2.45" fill="#d5a01a"/>
<circle cx="70.26" cy="240.48" r="2.45" fill="#d25a42"/>
<circle cx="81.74" cy="233.32" r="2.45" fill="#7cb850"/>
<circle cx="93.22" cy="227.39" r="2.45" fill="#d5a01a"/>
<circle cx="104.70" cy="228.78" r="2.45" fill="#d25a42"/>
<line x1="55.00" y1="266.00" x2="75.75" y2="246.11" stroke="#000" stroke-width="1.2"/>
<polygon points="79.00,243.00 77.26,248.41 73.52,244.51" fill="#000"/>
<text x="73.00" y="199.80" font-size="10.8" text-anchor="middle" fill="#f25a48" stroke="#f25a48" stroke-width="0.2">1</text>
<rect x="155.60" y="204.60" width="70.80" height="67.40" fill="none" stroke="#444" stroke-width="0.9"/>
<line x1="191.00" y1="205.10" x2="191.00" y2="271.50" stroke="#c4c4c4" stroke-width="0.6"/>
<line x1="151.60" y1="206.10" x2="155.60" y2="206.10" stroke="#555" stroke-width="0.9"/>
<text x="150.60" y="208.40" font-size="8.6" text-anchor="end" fill="#222">2</text>
<line x1="151.60" y1="223.55" x2="155.60" y2="223.55" stroke="#555" stroke-width="0.9"/>
<text x="150.60" y="225.85" font-size="8.6" text-anchor="end" fill="#222">1</text>
<line x1="151.60" y1="241.00" x2="155.60" y2="241.00" stroke="#555" stroke-width="0.9"/>
<text x="150.60" y="243.30" font-size="8.6" text-anchor="end" fill="#222">0</text>
<line x1="151.60" y1="258.45" x2="155.60" y2="258.45" stroke="#555" stroke-width="0.9"/>
<text x="150.60" y="260.75" font-size="8.6" text-anchor="end" fill="#222">−1</text>
<line x1="162.30" y1="272.00" x2="162.30" y2="275.20" stroke="#444" stroke-width="0.9"/>
<line x1="173.78" y1="272.00" x2="173.78" y2="275.20" stroke="#444" stroke-width="0.9"/>
<line x1="185.26" y1="272.00" x2="185.26" y2="275.20" stroke="#444" stroke-width="0.9"/>
<line x1="196.74" y1="272.00" x2="196.74" y2="275.20" stroke="#444" stroke-width="0.9"/>
<line x1="208.22" y1="272.00" x2="208.22" y2="275.20" stroke="#444" stroke-width="0.9"/>
<line x1="219.70" y1="272.00" x2="219.70" y2="275.20" stroke="#444" stroke-width="0.9"/>
<polyline points="162.30,208.54 173.78,249.03 185.26,251.82 196.74,241.00 208.22,248.50 219.70,249.90" fill="none" stroke="#cfcfcf" stroke-width="0.7"/>
<rect x="167.00" y="241.40" width="23.60" height="17.00" fill="none" stroke="#4f6ff0" stroke-width="1.1"/>
<circle cx="162.30" cy="208.54" r="2.45" fill="#4b5fc0"/>
<circle cx="173.78" cy="249.03" r="2.45" fill="#d5a01a"/>
<circle cx="185.26" cy="251.82" r="2.45" fill="#d25a42"/>
<circle cx="196.74" cy="241.00" r="2.45" fill="#7cb850"/>
<circle cx="208.22" cy="248.50" r="2.45" fill="#d5a01a"/>
<circle cx="219.70" cy="249.90" r="2.45" fill="#d25a42"/>
<line x1="167.00" y1="211.00" x2="189.78" y2="233.26" stroke="#000" stroke-width="1.2"/>
<polygon points="193.00,236.40 187.54,234.84 191.31,230.97" fill="#000"/>
<text x="188.00" y="199.80" font-size="10.8" text-anchor="middle" fill="#4a6fe6" stroke="#4a6fe6" stroke-width="0.2">2</text>
<rect x="236.40" y="204.60" width="70.60" height="67.40" fill="none" stroke="#444" stroke-width="0.9"/>
<line x1="271.70" y1="205.10" x2="271.70" y2="271.50" stroke="#c4c4c4" stroke-width="0.6"/>
<line x1="232.40" y1="206.10" x2="236.40" y2="206.10" stroke="#555" stroke-width="0.9"/>
<line x1="232.40" y1="223.55" x2="236.40" y2="223.55" stroke="#555" stroke-width="0.9"/>
<line x1="232.40" y1="241.00" x2="236.40" y2="241.00" stroke="#555" stroke-width="0.9"/>
<line x1="232.40" y1="258.45" x2="236.40" y2="258.45" stroke="#555" stroke-width="0.9"/>
<line x1="243.10" y1="272.00" x2="243.10" y2="275.20" stroke="#444" stroke-width="0.9"/>
<line x1="254.54" y1="272.00" x2="254.54" y2="275.20" stroke="#444" stroke-width="0.9"/>
<line x1="265.98" y1="272.00" x2="265.98" y2="275.20" stroke="#444" stroke-width="0.9"/>
<line x1="277.42" y1="272.00" x2="277.42" y2="275.20" stroke="#444" stroke-width="0.9"/>
<line x1="288.86" y1="272.00" x2="288.86" y2="275.20" stroke="#444" stroke-width="0.9"/>
<line x1="300.30" y1="272.00" x2="300.30" y2="275.20" stroke="#444" stroke-width="0.9"/>
<polyline points="243.10,208.19 254.54,241.35 265.98,245.01 277.42,251.47 288.86,251.99 300.30,251.12" fill="none" stroke="#cfcfcf" stroke-width="0.7"/>
<rect x="247.40" y="234.40" width="23.60" height="16.60" fill="none" stroke="#4f6ff0" stroke-width="1.1"/>
<circle cx="243.10" cy="208.19" r="2.45" fill="#4b5fc0"/>
<circle cx="254.54" cy="241.35" r="2.45" fill="#d5a01a"/>
<circle cx="265.98" cy="245.01" r="2.45" fill="#d25a42"/>
<circle cx="277.42" cy="251.47" r="2.45" fill="#7cb850"/>
<circle cx="288.86" cy="251.99" r="2.45" fill="#d5a01a"/>
<circle cx="300.30" cy="251.12" r="2.45" fill="#d25a42"/>
<line x1="248.60" y1="212.40" x2="271.31" y2="239.55" stroke="#000" stroke-width="1.2"/>
<polygon points="274.20,243.00 268.92,240.90 273.06,237.43" fill="#000"/>
<text x="268.70" y="199.80" font-size="10.8" text-anchor="middle" fill="#4a6fe6" stroke="#4a6fe6" stroke-width="0.2">3</text>
<rect x="383.60" y="202.60" width="71.00" height="67.80" fill="none" stroke="#444" stroke-width="0.9"/>
<line x1="419.10" y1="203.10" x2="419.10" y2="269.90" stroke="#c4c4c4" stroke-width="0.6"/>
<line x1="379.60" y1="204.20" x2="383.60" y2="204.20" stroke="#555" stroke-width="0.9"/>
<text x="378.60" y="206.50" font-size="8.6" text-anchor="end" fill="#222">2</text>
<line x1="379.60" y1="221.60" x2="383.60" y2="221.60" stroke="#555" stroke-width="0.9"/>
<text x="378.60" y="223.90" font-size="8.6" text-anchor="end" fill="#222">1</text>
<line x1="379.60" y1="239.00" x2="383.60" y2="239.00" stroke="#555" stroke-width="0.9"/>
<text x="378.60" y="241.30" font-size="8.6" text-anchor="end" fill="#222">0</text>
<line x1="379.60" y1="256.40" x2="383.60" y2="256.40" stroke="#555" stroke-width="0.9"/>
<text x="378.60" y="258.70" font-size="8.6" text-anchor="end" fill="#222">−1</text>
<line x1="390.30" y1="270.40" x2="390.30" y2="273.60" stroke="#444" stroke-width="0.9"/>
<line x1="401.82" y1="270.40" x2="401.82" y2="273.60" stroke="#444" stroke-width="0.9"/>
<line x1="413.34" y1="270.40" x2="413.34" y2="273.60" stroke="#444" stroke-width="0.9"/>
<line x1="424.86" y1="270.40" x2="424.86" y2="273.60" stroke="#444" stroke-width="0.9"/>
<line x1="436.38" y1="270.40" x2="436.38" y2="273.60" stroke="#444" stroke-width="0.9"/>
<line x1="447.90" y1="270.40" x2="447.90" y2="273.60" stroke="#444" stroke-width="0.9"/>
<polyline points="390.30,224.04 401.82,229.43 413.34,226.99 424.86,265.62 436.38,249.44 447.90,239.00" fill="none" stroke="#cfcfcf" stroke-width="0.7"/>
<rect x="430.00" y="233.40" width="23.60" height="20.60" fill="none" stroke="#f4685a" stroke-width="1.1"/>
<circle cx="390.30" cy="224.04" r="2.45" fill="#4b5fc0"/>
<circle cx="401.82" cy="229.43" r="2.45" fill="#d5a01a"/>
<circle cx="413.34" cy="226.99" r="2.45" fill="#d25a42"/>
<circle cx="424.86" cy="265.62" r="2.45" fill="#7cb850"/>
<circle cx="436.38" cy="249.44" r="2.45" fill="#d5a01a"/>
<circle cx="447.90" cy="239.00" r="2.45" fill="#d25a42"/>
<line x1="393.40" y1="231.00" x2="416.08" y2="257.58" stroke="#000" stroke-width="1.2"/>
<polygon points="419.00,261.00 413.70,258.95 417.81,255.44" fill="#000"/>
<text x="416.30" y="198.20" font-size="10.8" text-anchor="middle" fill="#f25a48" stroke="#f25a48" stroke-width="0.2">4</text>
<rect x="499.60" y="202.40" width="70.40" height="67.60" fill="none" stroke="#444" stroke-width="0.9"/>
<line x1="534.80" y1="202.90" x2="534.80" y2="269.50" stroke="#c4c4c4" stroke-width="0.6"/>
<line x1="495.60" y1="204.20" x2="499.60" y2="204.20" stroke="#555" stroke-width="0.9"/>
<text x="494.60" y="206.50" font-size="8.6" text-anchor="end" fill="#222">2</text>
<line x1="495.60" y1="221.60" x2="499.60" y2="221.60" stroke="#555" stroke-width="0.9"/>
<text x="494.60" y="223.90" font-size="8.6" text-anchor="end" fill="#222">1</text>
<line x1="495.60" y1="239.00" x2="499.60" y2="239.00" stroke="#555" stroke-width="0.9"/>
<text x="494.60" y="241.30" font-size="8.6" text-anchor="end" fill="#222">0</text>
<line x1="495.60" y1="256.40" x2="499.60" y2="256.40" stroke="#555" stroke-width="0.9"/>
<text x="494.60" y="258.70" font-size="8.6" text-anchor="end" fill="#222">−1</text>
<line x1="506.30" y1="270.00" x2="506.30" y2="273.20" stroke="#444" stroke-width="0.9"/>
<line x1="517.70" y1="270.00" x2="517.70" y2="273.20" stroke="#444" stroke-width="0.9"/>
<line x1="529.10" y1="270.00" x2="529.10" y2="273.20" stroke="#444" stroke-width="0.9"/>
<line x1="540.50" y1="270.00" x2="540.50" y2="273.20" stroke="#444" stroke-width="0.9"/>
<line x1="551.90" y1="270.00" x2="551.90" y2="273.20" stroke="#444" stroke-width="0.9"/>
<line x1="563.30" y1="270.00" x2="563.30" y2="273.20" stroke="#444" stroke-width="0.9"/>
<polyline points="506.30,237.09 517.70,245.61 529.10,248.92 540.50,206.98 551.90,241.96 563.30,252.92" fill="none" stroke="#cfcfcf" stroke-width="0.7"/>
<rect x="544.00" y="237.00" width="23.60" height="20.60" fill="none" stroke="#4f6ff0" stroke-width="1.1"/>
<circle cx="506.30" cy="237.09" r="2.45" fill="#4b5fc0"/>
<circle cx="517.70" cy="245.61" r="2.45" fill="#d5a01a"/>
<circle cx="529.10" cy="248.92" r="2.45" fill="#d25a42"/>
<circle cx="540.50" cy="206.98" r="2.45" fill="#7cb850"/>
<circle cx="551.90" cy="241.96" r="2.45" fill="#d5a01a"/>
<circle cx="563.30" cy="252.92" r="2.45" fill="#d25a42"/>
<line x1="511.00" y1="232.40" x2="528.77" y2="215.14" stroke="#000" stroke-width="1.2"/>
<polygon points="532.00,212.00 530.29,217.42 526.53,213.55" fill="#000"/>
<text x="531.80" y="198.20" font-size="10.8" text-anchor="middle" fill="#4a6fe6" stroke="#4a6fe6" stroke-width="0.2">5</text>
<rect x="579.40" y="202.40" width="71.60" height="67.60" fill="none" stroke="#444" stroke-width="0.9"/>
<line x1="615.20" y1="202.90" x2="615.20" y2="269.50" stroke="#c4c4c4" stroke-width="0.6"/>
<line x1="575.40" y1="204.20" x2="579.40" y2="204.20" stroke="#555" stroke-width="0.9"/>
<line x1="575.40" y1="221.60" x2="579.40" y2="221.60" stroke="#555" stroke-width="0.9"/>
<line x1="575.40" y1="239.00" x2="579.40" y2="239.00" stroke="#555" stroke-width="0.9"/>
<line x1="575.40" y1="256.40" x2="579.40" y2="256.40" stroke="#555" stroke-width="0.9"/>
<line x1="586.10" y1="270.00" x2="586.10" y2="273.20" stroke="#444" stroke-width="0.9"/>
<line x1="597.74" y1="270.00" x2="597.74" y2="273.20" stroke="#444" stroke-width="0.9"/>
<line x1="609.38" y1="270.00" x2="609.38" y2="273.20" stroke="#444" stroke-width="0.9"/>
<line x1="621.02" y1="270.00" x2="621.02" y2="273.20" stroke="#444" stroke-width="0.9"/>
<line x1="632.66" y1="270.00" x2="632.66" y2="273.20" stroke="#444" stroke-width="0.9"/>
<line x1="644.30" y1="270.00" x2="644.30" y2="273.20" stroke="#444" stroke-width="0.9"/>
<polyline points="586.10,249.44 597.74,247.35 609.38,248.22 621.02,206.46 632.66,235.35 644.30,247.53" fill="none" stroke="#cfcfcf" stroke-width="0.7"/>
<rect x="625.40" y="230.40" width="24.00" height="22.00" fill="none" stroke="#4f6ff0" stroke-width="1.1"/>
<circle cx="586.10" cy="249.44" r="2.45" fill="#4b5fc0"/>
<circle cx="597.74" cy="247.35" r="2.45" fill="#d5a01a"/>
<circle cx="609.38" cy="248.22" r="2.45" fill="#d25a42"/>
<circle cx="621.02" cy="206.46" r="2.45" fill="#7cb850"/>
<circle cx="632.66" cy="235.35" r="2.45" fill="#d5a01a"/>
<circle cx="644.30" cy="247.53" r="2.45" fill="#d25a42"/>
<line x1="590.00" y1="242.00" x2="611.19" y2="215.51" stroke="#000" stroke-width="1.2"/>
<polygon points="614.00,212.00 612.98,217.59 608.77,214.22" fill="#000"/>
<text x="612.20" y="198.20" font-size="10.8" text-anchor="middle" fill="#4a6fe6" stroke="#4a6fe6" stroke-width="0.2">6</text>
<text transform="translate(48.30,277.40) rotate(-90)" font-size="9.8" text-anchor="end" fill="#111" stroke="#111" stroke-width="0.2">Normal</text>
<text transform="translate(59.78,277.40) rotate(-90)" font-size="9.8" text-anchor="end" fill="#d4a019" stroke="#d4a019" stroke-width="0.2">MDS-MLD</text>
<text transform="translate(71.26,277.40) rotate(-90)" font-size="9.8" text-anchor="end" fill="#d2503e" stroke="#d2503e" stroke-width="0.2">MDS-EB</text>
<text transform="translate(82.74,277.40) rotate(-90)" font-size="9.8" text-anchor="end" fill="#111" stroke="#111" stroke-width="0.2">Normal</text>
<text transform="translate(94.22,277.40) rotate(-90)" font-size="9.8" text-anchor="end" fill="#d4a019" stroke="#d4a019" stroke-width="0.2">MDS-MLD</text>
<text transform="translate(105.70,277.40) rotate(-90)" font-size="9.8" text-anchor="end" fill="#d2503e" stroke="#d2503e" stroke-width="0.2">MDS-EB</text>
<line x1="40.30" y1="326.40" x2="73.86" y2="326.40" stroke="#7f8ed6" stroke-width="1.2"/>
<line x1="76.94" y1="326.40" x2="110.30" y2="326.40" stroke="#9cca78" stroke-width="1.2"/>
<text transform="translate(58.33,331.00) rotate(-90)" font-size="9.8" text-anchor="end" fill="#5a6bc2" stroke="#5a6bc2" stroke-width="0.2">Stem</text>
<text transform="translate(94.87,331.00) rotate(-90)" font-size="9.8" text-anchor="end" fill="#86bd57" stroke="#86bd57" stroke-width="0.2">Pro</text>
<text transform="translate(163.30,277.40) rotate(-90)" font-size="9.8" text-anchor="end" fill="#111" stroke="#111" stroke-width="0.2">Normal</text>
<text transform="translate(174.78,277.40) rotate(-90)" font-size="9.8" text-anchor="end" fill="#d4a019" stroke="#d4a019" stroke-width="0.2">MDS-MLD</text>
<text transform="translate(186.26,277.40) rotate(-90)" font-size="9.8" text-anchor="end" fill="#d2503e" stroke="#d2503e" stroke-width="0.2">MDS-EB</text>
<text transform="translate(197.74,277.40) rotate(-90)" font-size="9.8" text-anchor="end" fill="#111" stroke="#111" stroke-width="0.2">Normal</text>
<text transform="translate(209.22,277.40) rotate(-90)" font-size="9.8" text-anchor="end" fill="#d4a019" stroke="#d4a019" stroke-width="0.2">MDS-MLD</text>
<text transform="translate(220.70,277.40) rotate(-90)" font-size="9.8" text-anchor="end" fill="#d2503e" stroke="#d2503e" stroke-width="0.2">MDS-EB</text>
<line x1="155.30" y1="326.40" x2="188.86" y2="326.40" stroke="#7f8ed6" stroke-width="1.2"/>
<line x1="191.94" y1="326.40" x2="225.30" y2="326.40" stroke="#9cca78" stroke-width="1.2"/>
<text transform="translate(173.33,331.00) rotate(-90)" font-size="9.8" text-anchor="end" fill="#5a6bc2" stroke="#5a6bc2" stroke-width="0.2">Stem</text>
<text transform="translate(209.87,331.00) rotate(-90)" font-size="9.8" text-anchor="end" fill="#86bd57" stroke="#86bd57" stroke-width="0.2">Pro</text>
<text transform="translate(244.10,277.40) rotate(-90)" font-size="9.8" text-anchor="end" fill="#111" stroke="#111" stroke-width="0.2">Normal</text>
<text transform="translate(255.54,277.40) rotate(-90)" font-size="9.8" text-anchor="end" fill="#d4a019" stroke="#d4a019" stroke-width="0.2">MDS-MLD</text>
<text transform="translate(266.98,277.40) rotate(-90)" font-size="9.8" text-anchor="end" fill="#d2503e" stroke="#d2503e" stroke-width="0.2">MDS-EB</text>
<text transform="translate(278.42,277.40) rotate(-90)" font-size="9.8" text-anchor="end" fill="#111" stroke="#111" stroke-width="0.2">Normal</text>
<text transform="translate(289.86,277.40) rotate(-90)" font-size="9.8" text-anchor="end" fill="#d4a019" stroke="#d4a019" stroke-width="0.2">MDS-MLD</text>
<text transform="translate(301.30,277.40) rotate(-90)" font-size="9.8" text-anchor="end" fill="#d2503e" stroke="#d2503e" stroke-width="0.2">MDS-EB</text>
<line x1="236.10" y1="326.40" x2="269.58" y2="326.40" stroke="#7f8ed6" stroke-width="1.2"/>
<line x1="272.62" y1="326.40" x2="305.90" y2="326.40" stroke="#9cca78" stroke-width="1.2"/>
<text transform="translate(254.09,331.00) rotate(-90)" font-size="9.8" text-anchor="end" fill="#5a6bc2" stroke="#5a6bc2" stroke-width="0.2">Stem</text>
<text transform="translate(290.51,331.00) rotate(-90)" font-size="9.8" text-anchor="end" fill="#86bd57" stroke="#86bd57" stroke-width="0.2">Pro</text>
<text transform="translate(391.30,277.40) rotate(-90)" font-size="9.8" text-anchor="end" fill="#111" stroke="#111" stroke-width="0.2">Normal</text>
<text transform="translate(402.82,277.40) rotate(-90)" font-size="9.8" text-anchor="end" fill="#d4a019" stroke="#d4a019" stroke-width="0.2">MDS-MLD</text>
<text transform="translate(414.34,277.40) rotate(-90)" font-size="9.8" text-anchor="end" fill="#d2503e" stroke="#d2503e" stroke-width="0.2">MDS-EB</text>
<text transform="translate(425.86,277.40) rotate(-90)" font-size="9.8" text-anchor="end" fill="#111" stroke="#111" stroke-width="0.2">Normal</text>
<text transform="translate(437.38,277.40) rotate(-90)" font-size="9.8" text-anchor="end" fill="#d4a019" stroke="#d4a019" stroke-width="0.2">MDS-MLD</text>
<text transform="translate(448.90,277.40) rotate(-90)" font-size="9.8" text-anchor="end" fill="#d2503e" stroke="#d2503e" stroke-width="0.2">MDS-EB</text>
<line x1="383.30" y1="326.40" x2="416.94" y2="326.40" stroke="#7f8ed6" stroke-width="1.2"/>
<line x1="420.06" y1="326.40" x2="453.50" y2="326.40" stroke="#9cca78" stroke-width="1.2"/>
<text transform="translate(401.37,331.00) rotate(-90)" font-size="9.8" text-anchor="end" fill="#5a6bc2" stroke="#5a6bc2" stroke-width="0.2">Stem</text>
<text transform="translate(438.03,331.00) rotate(-90)" font-size="9.8" text-anchor="end" fill="#86bd57" stroke="#86bd57" stroke-width="0.2">Pro</text>
<text transform="translate(507.30,277.40) rotate(-90)" font-size="9.8" text-anchor="end" fill="#111" stroke="#111" stroke-width="0.2">Normal</text>
<text transform="translate(518.70,277.40) rotate(-90)" font-size="9.8" text-anchor="end" fill="#d4a019" stroke="#d4a019" stroke-width="0.2">MDS-MLD</text>
<text transform="translate(530.10,277.40) rotate(-90)" font-size="9.8" text-anchor="end" fill="#d2503e" stroke="#d2503e" stroke-width="0.2">MDS-EB</text>
<text transform="translate(541.50,277.40) rotate(-90)" font-size="9.8" text-anchor="end" fill="#111" stroke="#111" stroke-width="0.2">Normal</text>
<text transform="translate(552.90,277.40) rotate(-90)" font-size="9.8" text-anchor="end" fill="#d4a019" stroke="#d4a019" stroke-width="0.2">MDS-MLD</text>
<text transform="translate(564.30,277.40) rotate(-90)" font-size="9.8" text-anchor="end" fill="#d2503e" stroke="#d2503e" stroke-width="0.2">MDS-EB</text>
<line x1="499.30" y1="326.40" x2="532.70" y2="326.40" stroke="#7f8ed6" stroke-width="1.2"/>
<line x1="535.70" y1="326.40" x2="568.90" y2="326.40" stroke="#9cca78" stroke-width="1.2"/>
<text transform="translate(517.25,331.00) rotate(-90)" font-size="9.8" text-anchor="end" fill="#5a6bc2" stroke="#5a6bc2" stroke-width="0.2">Stem</text>
<text transform="translate(553.55,331.00) rotate(-90)" font-size="9.8" text-anchor="end" fill="#86bd57" stroke="#86bd57" stroke-width="0.2">Pro</text>
<text transform="translate(587.10,277.40) rotate(-90)" font-size="9.8" text-anchor="end" fill="#111" stroke="#111" stroke-width="0.2">Normal</text>
<text transform="translate(598.74,277.40) rotate(-90)" font-size="9.8" text-anchor="end" fill="#d4a019" stroke="#d4a019" stroke-width="0.2">MDS-MLD</text>
<text transform="translate(610.38,277.40) rotate(-90)" font-size="9.8" text-anchor="end" fill="#d2503e" stroke="#d2503e" stroke-width="0.2">MDS-EB</text>
<text transform="translate(622.02,277.40) rotate(-90)" font-size="9.8" text-anchor="end" fill="#111" stroke="#111" stroke-width="0.2">Normal</text>
<text transform="translate(633.66,277.40) rotate(-90)" font-size="9.8" text-anchor="end" fill="#d4a019" stroke="#d4a019" stroke-width="0.2">MDS-MLD</text>
<text transform="translate(645.30,277.40) rotate(-90)" font-size="9.8" text-anchor="end" fill="#d2503e" stroke="#d2503e" stroke-width="0.2">MDS-EB</text>
<line x1="579.10" y1="326.40" x2="612.98" y2="326.40" stroke="#7f8ed6" stroke-width="1.2"/>
<line x1="616.22" y1="326.40" x2="649.90" y2="326.40" stroke="#9cca78" stroke-width="1.2"/>
<text transform="translate(597.29,331.00) rotate(-90)" font-size="9.8" text-anchor="end" fill="#5a6bc2" stroke="#5a6bc2" stroke-width="0.2">Stem</text>
<text transform="translate(634.31,331.00) rotate(-90)" font-size="9.8" text-anchor="end" fill="#86bd57" stroke="#86bd57" stroke-width="0.2">Pro</text>
<text x="-1.00" y="636.00" font-size="16.5" font-weight="bold" fill="#000" stroke="#000" stroke-width="0.2">d</text>
<text x="33.60" y="641.00" font-size="9.6"><tspan fill="#ef8427" stroke="#ef8427" stroke-width="0.2">Open </tspan><tspan fill="#111" stroke="#111" stroke-width="0.2">DARs (NC</tspan></text>
<line x1="106.75" y1="637.70" x2="111.95" y2="637.70" stroke="#111" stroke-width="0.9"/>
<polygon points="115.15,637.70 111.55,635.60 111.55,639.80" fill="#111"/>
<text x="117.75" y="641.00" font-size="9.6"><tspan fill="#d2503e" stroke="#d2503e" stroke-width="0.2">MDS</tspan><tspan fill="#111" stroke="#111" stroke-width="0.2">)</tspan></text>
<line x1="34.00" y1="646.00" x2="301.00" y2="646.00" stroke="#f1a04f" stroke-width="1.3"/>
<text x="360.00" y="641.00" font-size="9.6"><tspan fill="#3f8fdc" stroke="#3f8fdc" stroke-width="0.2">Close </tspan><tspan fill="#111" stroke="#111" stroke-width="0.2">DARs (NC</tspan></text>
<line x1="434.21" y1="637.70" x2="439.41" y2="637.70" stroke="#111" stroke-width="0.9"/>
<polygon points="442.61,637.70 439.01,635.60 439.01,639.80" fill="#111"/>
<text x="445.21" y="641.00" font-size="9.6"><tspan fill="#d2503e" stroke="#d2503e" stroke-width="0.2">MDS</tspan><tspan fill="#111" stroke="#111" stroke-width="0.2">)</tspan></text>
<line x1="361.60" y1="646.00" x2="443.00" y2="646.00" stroke="#55a0e2" stroke-width="1.3"/>
<text transform="translate(27.00,723.00) rotate(-90)" font-size="9.8" fill="#111" stroke="#111" stroke-width="0.2">Peak signal</text>
<text transform="translate(354.40,723.00) rotate(-90)" font-size="9.8" fill="#111" stroke="#111" stroke-width="0.2">Peak signal</text>
<rect x="44.40" y="663.00" width="71.00" height="67.40" fill="none" stroke="#444" stroke-width="0.9"/>
<line x1="79.90" y1="663.50" x2="79.90" y2="729.90" stroke="#c4c4c4" stroke-width="0.6"/>
<line x1="40.40" y1="664.90" x2="44.40" y2="664.90" stroke="#555" stroke-width="0.9"/>
<text x="39.40" y="667.20" font-size="8.6" text-anchor="end" fill="#222">2</text>
<line x1="40.40" y1="682.10" x2="44.40" y2="682.10" stroke="#555" stroke-width="0.9"/>
<text x="39.40" y="684.40" font-size="8.6" text-anchor="end" fill="#222">1</text>
<line x1="40.40" y1="699.30" x2="44.40" y2="699.30" stroke="#555" stroke-width="0.9"/>
<text x="39.40" y="701.60" font-size="8.6" text-anchor="end" fill="#222">0</text>
<line x1="40.40" y1="716.50" x2="44.40" y2="716.50" stroke="#555" stroke-width="0.9"/>
<text x="39.40" y="718.80" font-size="8.6" text-anchor="end" fill="#222">−1</text>
<line x1="51.10" y1="730.40" x2="51.10" y2="733.60" stroke="#444" stroke-width="0.9"/>
<line x1="62.62" y1="730.40" x2="62.62" y2="733.60" stroke="#444" stroke-width="0.9"/>
<line x1="74.14" y1="730.40" x2="74.14" y2="733.60" stroke="#444" stroke-width="0.9"/>
<line x1="85.66" y1="730.40" x2="85.66" y2="733.60" stroke="#444" stroke-width="0.9"/>
<line x1="97.18" y1="730.40" x2="97.18" y2="733.60" stroke="#444" stroke-width="0.9"/>
<line x1="108.70" y1="730.40" x2="108.70" y2="733.60" stroke="#444" stroke-width="0.9"/>
<polyline points="51.10,720.58 62.62,699.00 74.14,696.56 85.66,714.49 97.18,682.64 108.70,682.47" fill="none" stroke="#cfcfcf" stroke-width="0.7"/>
<rect x="56.00" y="689.00" width="23.60" height="17.40" fill="none" stroke="#f4685a" stroke-width="1.1"/>
<rect x="90.00" y="674.00" width="24.00" height="17.40" fill="none" stroke="#f4685a" stroke-width="1.1"/>
<circle cx="51.10" cy="720.58" r="2.45" fill="#4b5fc0"/>
<circle cx="62.62" cy="699.00" r="2.45" fill="#d5a01a"/>
<circle cx="74.14" cy="696.56" r="2.45" fill="#d25a42"/>
<circle cx="85.66" cy="714.49" r="2.45" fill="#7cb850"/>
<circle cx="97.18" cy="682.64" r="2.45" fill="#d5a01a"/>
<circle cx="108.70" cy="682.47" r="2.45" fill="#d25a42"/>
<text x="79.90" y="659.20" font-size="10.8" text-anchor="middle" fill="#111" stroke="#111" stroke-width="0.2">7</text>
<rect x="137.60" y="663.00" width="70.00" height="67.40" fill="none" stroke="#444" stroke-width="0.9"/>
<line x1="172.60" y1="663.50" x2="172.60" y2="729.90" stroke="#c4c4c4" stroke-width="0.6"/>
<line x1="133.60" y1="664.90" x2="137.60" y2="664.90" stroke="#555" stroke-width="0.9"/>
<text x="132.60" y="667.20" font-size="8.6" text-anchor="end" fill="#222">2</text>
<line x1="133.60" y1="682.10" x2="137.60" y2="682.10" stroke="#555" stroke-width="0.9"/>
<text x="132.60" y="684.40" font-size="8.6" text-anchor="end" fill="#222">1</text>
<line x1="133.60" y1="699.30" x2="137.60" y2="699.30" stroke="#555" stroke-width="0.9"/>
<text x="132.60" y="701.60" font-size="8.6" text-anchor="end" fill="#222">0</text>
<line x1="133.60" y1="716.50" x2="137.60" y2="716.50" stroke="#555" stroke-width="0.9"/>
<text x="132.60" y="718.80" font-size="8.6" text-anchor="end" fill="#222">−1</text>
<line x1="144.30" y1="730.40" x2="144.30" y2="733.60" stroke="#444" stroke-width="0.9"/>
<line x1="155.62" y1="730.40" x2="155.62" y2="733.60" stroke="#444" stroke-width="0.9"/>
<line x1="166.94" y1="730.40" x2="166.94" y2="733.60" stroke="#444" stroke-width="0.9"/>
<line x1="178.26" y1="730.40" x2="178.26" y2="733.60" stroke="#444" stroke-width="0.9"/>
<line x1="189.58" y1="730.40" x2="189.58" y2="733.60" stroke="#444" stroke-width="0.9"/>
<line x1="200.90" y1="730.40" x2="200.90" y2="733.60" stroke="#444" stroke-width="0.9"/>
<polyline points="144.30,722.66 155.62,693.95 166.94,681.08 178.26,712.92 189.58,697.43 200.90,688.39" fill="none" stroke="#cfcfcf" stroke-width="0.7"/>
<rect x="149.00" y="675.40" width="23.40" height="24.00" fill="none" stroke="#f4685a" stroke-width="1.1"/>
<rect x="183.40" y="682.40" width="23.60" height="20.20" fill="none" stroke="#f4685a" stroke-width="1.1"/>
<circle cx="144.30" cy="722.66" r="2.45" fill="#4b5fc0"/>
<circle cx="155.62" cy="693.95" r="2.45" fill="#d5a01a"/>
<circle cx="166.94" cy="681.08" r="2.45" fill="#d25a42"/>
<circle cx="178.26" cy="712.92" r="2.45" fill="#7cb850"/>
<circle cx="189.58" cy="697.43" r="2.45" fill="#d5a01a"/>
<circle cx="200.90" cy="688.39" r="2.45" fill="#d25a42"/>
<text x="172.60" y="659.20" font-size="10.8" text-anchor="middle" fill="#111" stroke="#111" stroke-width="0.2">8</text>
<rect x="230.00" y="663.00" width="71.00" height="67.40" fill="none" stroke="#444" stroke-width="0.9"/>
<line x1="265.50" y1="663.50" x2="265.50" y2="729.90" stroke="#c4c4c4" stroke-width="0.6"/>
<line x1="226.00" y1="664.90" x2="230.00" y2="664.90" stroke="#555" stroke-width="0.9"/>
<text x="225.00" y="667.20" font-size="8.6" text-anchor="end" fill="#222">2</text>
<line x1="226.00" y1="682.10" x2="230.00" y2="682.10" stroke="#555" stroke-width="0.9"/>
<text x="225.00" y="684.40" font-size="8.6" text-anchor="end" fill="#222">1</text>
<line x1="226.00" y1="699.30" x2="230.00" y2="699.30" stroke="#555" stroke-width="0.9"/>
<text x="225.00" y="701.60" font-size="8.6" text-anchor="end" fill="#222">0</text>
<line x1="226.00" y1="716.50" x2="230.00" y2="716.50" stroke="#555" stroke-width="0.9"/>
<text x="225.00" y="718.80" font-size="8.6" text-anchor="end" fill="#222">−1</text>
<line x1="236.70" y1="730.40" x2="236.70" y2="733.60" stroke="#444" stroke-width="0.9"/>
<line x1="248.22" y1="730.40" x2="248.22" y2="733.60" stroke="#444" stroke-width="0.9"/>
<line x1="259.74" y1="730.40" x2="259.74" y2="733.60" stroke="#444" stroke-width="0.9"/>
<line x1="271.26" y1="730.40" x2="271.26" y2="733.60" stroke="#444" stroke-width="0.9"/>
<line x1="282.78" y1="730.40" x2="282.78" y2="733.60" stroke="#444" stroke-width="0.9"/>
<line x1="294.30" y1="730.40" x2="294.30" y2="733.60" stroke="#444" stroke-width="0.9"/>
<polyline points="236.70,707.53 248.22,688.56 259.74,687.34 271.26,726.67 282.78,697.09 294.30,689.08" fill="none" stroke="#cfcfcf" stroke-width="0.7"/>
<rect x="241.40" y="680.00" width="24.20" height="16.60" fill="none" stroke="#f4685a" stroke-width="1.1"/>
<rect x="276.00" y="683.60" width="23.60" height="19.00" fill="none" stroke="#f4685a" stroke-width="1.1"/>
<circle cx="236.70" cy="707.53" r="2.45" fill="#4b5fc0"/>
<circle cx="248.22" cy="688.56" r="2.45" fill="#d5a01a"/>
<circle cx="259.74" cy="687.34" r="2.45" fill="#d25a42"/>
<circle cx="271.26" cy="726.67" r="2.45" fill="#7cb850"/>
<circle cx="282.78" cy="697.09" r="2.45" fill="#d5a01a"/>
<circle cx="294.30" cy="689.08" r="2.45" fill="#d25a42"/>
<text x="265.50" y="659.20" font-size="10.8" text-anchor="middle" fill="#111" stroke="#111" stroke-width="0.2">9</text>
<rect x="371.40" y="663.00" width="71.60" height="67.40" fill="none" stroke="#444" stroke-width="0.9"/>
<line x1="407.20" y1="663.50" x2="407.20" y2="729.90" stroke="#c4c4c4" stroke-width="0.6"/>
<line x1="367.40" y1="664.90" x2="371.40" y2="664.90" stroke="#555" stroke-width="0.9"/>
<text x="366.40" y="667.20" font-size="8.6" text-anchor="end" fill="#222">2</text>
<line x1="367.40" y1="682.10" x2="371.40" y2="682.10" stroke="#555" stroke-width="0.9"/>
<text x="366.40" y="684.40" font-size="8.6" text-anchor="end" fill="#222">1</text>
<line x1="367.40" y1="699.30" x2="371.40" y2="699.30" stroke="#555" stroke-width="0.9"/>
<text x="366.40" y="701.60" font-size="8.6" text-anchor="end" fill="#222">0</text>
<line x1="367.40" y1="716.50" x2="371.40" y2="716.50" stroke="#555" stroke-width="0.9"/>
<text x="366.40" y="718.80" font-size="8.6" text-anchor="end" fill="#222">−1</text>
<line x1="378.10" y1="730.40" x2="378.10" y2="733.60" stroke="#444" stroke-width="0.9"/>
<line x1="389.74" y1="730.40" x2="389.74" y2="733.60" stroke="#444" stroke-width="0.9"/>
<line x1="401.38" y1="730.40" x2="401.38" y2="733.60" stroke="#444" stroke-width="0.9"/>
<line x1="413.02" y1="730.40" x2="413.02" y2="733.60" stroke="#444" stroke-width="0.9"/>
<line x1="424.66" y1="730.40" x2="424.66" y2="733.60" stroke="#444" stroke-width="0.9"/>
<line x1="436.30" y1="730.40" x2="436.30" y2="733.60" stroke="#444" stroke-width="0.9"/>
<polyline points="378.10,679.34 389.74,703.35 401.38,708.92 413.02,679.34 424.66,708.40 436.30,716.05" fill="none" stroke="#cfcfcf" stroke-width="0.7"/>
<rect x="383.40" y="696.40" width="23.20" height="19.00" fill="none" stroke="#4f6ff0" stroke-width="1.1"/>
<rect x="417.40" y="702.60" width="23.20" height="19.00" fill="none" stroke="#4f6ff0" stroke-width="1.1"/>
<circle cx="378.10" cy="679.34" r="2.45" fill="#4b5fc0"/>
<circle cx="389.74" cy="703.35" r="2.45" fill="#d5a01a"/>
<circle cx="401.38" cy="708.92" r="2.45" fill="#d25a42"/>
<circle cx="413.02" cy="679.34" r="2.45" fill="#7cb850"/>
<circle cx="424.66" cy="708.40" r="2.45" fill="#d5a01a"/>
<circle cx="436.30" cy="716.05" r="2.45" fill="#d25a42"/>
<text x="407.20" y="659.20" font-size="10.8" text-anchor="middle" fill="#111" stroke="#111" stroke-width="0.2">10</text>
<text transform="translate(52.10,737.20) rotate(-90)" font-size="9.8" text-anchor="end" fill="#111" stroke="#111" stroke-width="0.2">Normal</text>
<text transform="translate(63.62,737.20) rotate(-90)" font-size="9.8" text-anchor="end" fill="#d4a019" stroke="#d4a019" stroke-width="0.2">MDS-MLD</text>
<text transform="translate(75.14,737.20) rotate(-90)" font-size="9.8" text-anchor="end" fill="#d2503e" stroke="#d2503e" stroke-width="0.2">MDS-EB</text>
<text transform="translate(86.66,737.20) rotate(-90)" font-size="9.8" text-anchor="end" fill="#111" stroke="#111" stroke-width="0.2">Normal</text>
<text transform="translate(98.18,737.20) rotate(-90)" font-size="9.8" text-anchor="end" fill="#d4a019" stroke="#d4a019" stroke-width="0.2">MDS-MLD</text>
<text transform="translate(109.70,737.20) rotate(-90)" font-size="9.8" text-anchor="end" fill="#d2503e" stroke="#d2503e" stroke-width="0.2">MDS-EB</text>
<line x1="44.10" y1="787.00" x2="77.74" y2="787.00" stroke="#7f8ed6" stroke-width="1.2"/>
<line x1="80.86" y1="787.00" x2="114.30" y2="787.00" stroke="#9cca78" stroke-width="1.2"/>
<text transform="translate(62.17,790.40) rotate(-90)" font-size="9.8" text-anchor="end" fill="#5a6bc2" stroke="#5a6bc2" stroke-width="0.2">Stem</text>
<text transform="translate(98.83,790.40) rotate(-90)" font-size="9.8" text-anchor="end" fill="#86bd57" stroke="#86bd57" stroke-width="0.2">Pro</text>
<text transform="translate(145.30,737.20) rotate(-90)" font-size="9.8" text-anchor="end" fill="#111" stroke="#111" stroke-width="0.2">Normal</text>
<text transform="translate(156.62,737.20) rotate(-90)" font-size="9.8" text-anchor="end" fill="#d4a019" stroke="#d4a019" stroke-width="0.2">MDS-MLD</text>
<text transform="translate(167.94,737.20) rotate(-90)" font-size="9.8" text-anchor="end" fill="#d2503e" stroke="#d2503e" stroke-width="0.2">MDS-EB</text>
<text transform="translate(179.26,737.20) rotate(-90)" font-size="9.8" text-anchor="end" fill="#111" stroke="#111" stroke-width="0.2">Normal</text>
<text transform="translate(190.58,737.20) rotate(-90)" font-size="9.8" text-anchor="end" fill="#d4a019" stroke="#d4a019" stroke-width="0.2">MDS-MLD</text>
<text transform="translate(201.90,737.20) rotate(-90)" font-size="9.8" text-anchor="end" fill="#d2503e" stroke="#d2503e" stroke-width="0.2">MDS-EB</text>
<line x1="137.30" y1="787.00" x2="170.54" y2="787.00" stroke="#7f8ed6" stroke-width="1.2"/>
<line x1="173.46" y1="787.00" x2="206.50" y2="787.00" stroke="#9cca78" stroke-width="1.2"/>
<text transform="translate(155.17,790.40) rotate(-90)" font-size="9.8" text-anchor="end" fill="#5a6bc2" stroke="#5a6bc2" stroke-width="0.2">Stem</text>
<text transform="translate(191.23,790.40) rotate(-90)" font-size="9.8" text-anchor="end" fill="#86bd57" stroke="#86bd57" stroke-width="0.2">Pro</text>
<text transform="translate(237.70,737.20) rotate(-90)" font-size="9.8" text-anchor="end" fill="#111" stroke="#111" stroke-width="0.2">Normal</text>
<text transform="translate(249.22,737.20) rotate(-90)" font-size="9.8" text-anchor="end" fill="#d4a019" stroke="#d4a019" stroke-width="0.2">MDS-MLD</text>
<text transform="translate(260.74,737.20) rotate(-90)" font-size="9.8" text-anchor="end" fill="#d2503e" stroke="#d2503e" stroke-width="0.2">MDS-EB</text>
<text transform="translate(272.26,737.20) rotate(-90)" font-size="9.8" text-anchor="end" fill="#111" stroke="#111" stroke-width="0.2">Normal</text>
<text transform="translate(283.78,737.20) rotate(-90)" font-size="9.8" text-anchor="end" fill="#d4a019" stroke="#d4a019" stroke-width="0.2">MDS-MLD</text>
<text transform="translate(295.30,737.20) rotate(-90)" font-size="9.8" text-anchor="end" fill="#d2503e" stroke="#d2503e" stroke-width="0.2">MDS-EB</text>
<line x1="229.70" y1="787.00" x2="263.34" y2="787.00" stroke="#7f8ed6" stroke-width="1.2"/>
<line x1="266.46" y1="787.00" x2="299.90" y2="787.00" stroke="#9cca78" stroke-width="1.2"/>
<text transform="translate(247.77,790.40) rotate(-90)" font-size="9.8" text-anchor="end" fill="#5a6bc2" stroke="#5a6bc2" stroke-width="0.2">Stem</text>
<text transform="translate(284.43,790.40) rotate(-90)" font-size="9.8" text-anchor="end" fill="#86bd57" stroke="#86bd57" stroke-width="0.2">Pro</text>
<text transform="translate(379.10,737.20) rotate(-90)" font-size="9.8" text-anchor="end" fill="#111" stroke="#111" stroke-width="0.2">Normal</text>
<text transform="translate(390.74,737.20) rotate(-90)" font-size="9.8" text-anchor="end" fill="#d4a019" stroke="#d4a019" stroke-width="0.2">MDS-MLD</text>
<text transform="translate(402.38,737.20) rotate(-90)" font-size="9.8" text-anchor="end" fill="#d2503e" stroke="#d2503e" stroke-width="0.2">MDS-EB</text>
<text transform="translate(414.02,737.20) rotate(-90)" font-size="9.8" text-anchor="end" fill="#111" stroke="#111" stroke-width="0.2">Normal</text>
<text transform="translate(425.66,737.20) rotate(-90)" font-size="9.8" text-anchor="end" fill="#d4a019" stroke="#d4a019" stroke-width="0.2">MDS-MLD</text>
<text transform="translate(437.30,737.20) rotate(-90)" font-size="9.8" text-anchor="end" fill="#d2503e" stroke="#d2503e" stroke-width="0.2">MDS-EB</text>
<line x1="371.10" y1="787.00" x2="404.98" y2="787.00" stroke="#7f8ed6" stroke-width="1.2"/>
<line x1="408.22" y1="787.00" x2="441.90" y2="787.00" stroke="#9cca78" stroke-width="1.2"/>
<text transform="translate(389.29,790.40) rotate(-90)" font-size="9.8" text-anchor="end" fill="#5a6bc2" stroke="#5a6bc2" stroke-width="0.2">Stem</text>
<text transform="translate(426.31,790.40) rotate(-90)" font-size="9.8" text-anchor="end" fill="#86bd57" stroke="#86bd57" stroke-width="0.2">Pro</text>
<text x="-0.50" y="367.60" font-size="16.5" font-weight="bold" fill="#000" stroke="#000" stroke-width="0.2">c</text>
<line x1="78.70" y1="376.50" x2="78.70" y2="554.60" stroke="#dcdcdc" stroke-width="0.8"/>
<line x1="93.00" y1="376.50" x2="93.00" y2="554.60" stroke="#dcdcdc" stroke-width="0.8"/>
<line x1="107.30" y1="376.50" x2="107.30" y2="554.60" stroke="#dcdcdc" stroke-width="0.8"/>
<line x1="121.60" y1="376.50" x2="121.60" y2="554.60" stroke="#dcdcdc" stroke-width="0.8"/>
<rect x="78.70" y="380.10" width="44.33" height="4.80" fill="#2f2f2f"/>
<rect x="72.00" y="380.10" width="4.70" height="4.80" fill="#1a803c"/>
<text x="68.40" y="385.10" font-size="8.1" text-anchor="end" fill="#23874a">CEBP(bZIP)</text>
<rect x="78.70" y="388.89" width="22.88" height="4.80" fill="#2f2f2f"/>
<rect x="72.00" y="388.89" width="4.70" height="4.80" fill="#1a803c"/>
<text x="68.40" y="393.89" font-size="8.1" text-anchor="end" fill="#23874a">CEBP:AP1(bZIP)</text>
<rect x="78.70" y="397.68" width="22.88" height="4.80" fill="#2f2f2f"/>
<rect x="72.00" y="397.68" width="4.70" height="4.80" fill="#1a803c"/>
<text x="68.40" y="402.68" font-size="8.1" text-anchor="end" fill="#23874a">NFIL3(bZIP)</text>
<rect x="78.70" y="406.47" width="17.88" height="4.80" fill="#2f2f2f"/>
<rect x="72.00" y="406.47" width="4.70" height="4.80" fill="#1a803c"/>
<text x="68.40" y="411.47" font-size="8.1" text-anchor="end" fill="#23874a">HLF(bZIP)</text>
<rect x="78.70" y="415.26" width="16.09" height="4.80" fill="#2f2f2f"/>
<rect x="72.00" y="415.26" width="4.70" height="4.80" fill="#1a803c"/>
<text x="68.40" y="420.26" font-size="8.1" text-anchor="end" fill="#23874a">Atf4(bZIP)</text>
<rect x="78.70" y="424.05" width="12.87" height="4.80" fill="#2f2f2f"/>
<rect x="72.00" y="424.05" width="4.70" height="4.80" fill="#1a803c"/>
<text x="68.40" y="429.05" font-size="8.1" text-anchor="end" fill="#23874a">Chop(bZIP)</text>
<rect x="78.70" y="432.84" width="6.43" height="4.80" fill="#2f2f2f"/>
<rect x="72.00" y="432.84" width="4.70" height="4.80" fill="#1a803c"/>
<text x="68.40" y="437.84" font-size="8.1" text-anchor="end" fill="#23874a">NRF1(NRF)</text>
<rect x="78.70" y="441.63" width="6.43" height="4.80" fill="#2f2f2f"/>
<rect x="72.00" y="441.63" width="4.70" height="4.80" fill="#1a803c"/>
<text x="68.40" y="446.63" font-size="8.1" text-anchor="end" fill="#23874a">Atf1(bZIP)</text>
<rect x="78.70" y="450.42" width="5.93" height="4.80" fill="#2f2f2f"/>
<rect x="72.00" y="450.42" width="4.70" height="4.80" fill="#9c9a12"/>
<text x="68.40" y="455.42" font-size="8.1" text-anchor="end" fill="#9a9820">Sp1(Zf)</text>
<rect x="78.70" y="459.21" width="5.43" height="4.80" fill="#2f2f2f"/>
<rect x="72.00" y="459.21" width="4.70" height="4.80" fill="#9c9a12"/>
<text x="68.40" y="464.21" font-size="8.1" text-anchor="end" fill="#9a9820">KLF3(Zf)</text>
<rect x="78.70" y="468.00" width="5.43" height="4.80" fill="#2f2f2f"/>
<rect x="72.00" y="468.00" width="4.70" height="4.80" fill="#3b8fa6"/>
<text x="68.40" y="473.00" font-size="8.1" text-anchor="end" fill="#4a96ad">ZNF341(Zf)</text>
<rect x="78.70" y="476.79" width="4.00" height="4.80" fill="#2f2f2f"/>
<rect x="72.00" y="476.79" width="4.70" height="4.80" fill="#9c9a12"/>
<text x="68.40" y="481.79" font-size="8.1" text-anchor="end" fill="#9a9820">KLF9(Zf)</text>
<rect x="78.70" y="485.58" width="4.00" height="4.80" fill="#2f2f2f"/>
<rect x="72.00" y="485.58" width="4.70" height="4.80" fill="#1a803c"/>
<text x="68.40" y="490.58" font-size="8.1" text-anchor="end" fill="#23874a">NRF(NRF)</text>
<rect x="78.70" y="494.37" width="3.43" height="4.80" fill="#2f2f2f"/>
<rect x="72.00" y="494.37" width="4.70" height="4.80" fill="#9c9a12"/>
<text x="68.40" y="499.37" font-size="8.1" text-anchor="end" fill="#9a9820">KLF4(Zf)</text>
<rect x="78.70" y="503.16" width="3.43" height="4.80" fill="#2f2f2f"/>
<rect x="72.00" y="503.16" width="4.70" height="4.80" fill="#9a9a9a"/>
<text x="68.40" y="508.16" font-size="8.1" text-anchor="end" fill="#a0a0a0">Egr1(Zf)</text>
<rect x="78.70" y="511.95" width="3.43" height="4.80" fill="#2f2f2f"/>
<rect x="72.00" y="511.95" width="4.70" height="4.80" fill="#1a803c"/>
<text x="68.40" y="516.95" font-size="8.1" text-anchor="end" fill="#23874a">Atf2(bZIP)</text>
<rect x="78.70" y="520.74" width="3.43" height="4.80" fill="#2f2f2f"/>
<rect x="72.00" y="520.74" width="4.70" height="4.80" fill="#1a803c"/>
<text x="68.40" y="525.74" font-size="8.1" text-anchor="end" fill="#23874a">Atf7(bZIP)</text>
<rect x="78.70" y="529.53" width="3.43" height="4.80" fill="#2f2f2f"/>
<rect x="72.00" y="529.53" width="4.70" height="4.80" fill="#3b8fa6"/>
<text x="68.40" y="534.53" font-size="8.1" text-anchor="end" fill="#4a96ad">Tbet(T−box)</text>
<rect x="78.70" y="538.32" width="3.43" height="4.80" fill="#2f2f2f"/>
<rect x="72.00" y="538.32" width="4.70" height="4.80" fill="#a07b70"/>
<text x="68.40" y="543.32" font-size="8.1" text-anchor="end" fill="#a08076">TFE3(bHLH)</text>
<rect x="78.70" y="547.11" width="3.43" height="4.80" fill="#2f2f2f"/>
<rect x="72.00" y="547.11" width="4.70" height="4.80" fill="#a07b70"/>
<text x="68.40" y="552.11" font-size="8.1" text-anchor="end" textLength="64.00" lengthAdjust="spacingAndGlyphs" fill="#a08076">PBX3(Homeobox)</text>
<line x1="78.70" y1="376.50" x2="78.70" y2="554.60" stroke="#ffffff" stroke-width="0.5" opacity="0.18"/>
<line x1="93.00" y1="376.50" x2="93.00" y2="554.60" stroke="#ffffff" stroke-width="0.5" opacity="0.18"/>
<line x1="107.30" y1="376.50" x2="107.30" y2="554.60" stroke="#ffffff" stroke-width="0.5" opacity="0.18"/>
<line x1="121.60" y1="376.50" x2="121.60" y2="554.60" stroke="#ffffff" stroke-width="0.5" opacity="0.18"/>
<line x1="76.60" y1="554.60" x2="126.00" y2="554.60" stroke="#555" stroke-width="1.0"/>
<line x1="78.70" y1="554.60" x2="78.70" y2="557.40" stroke="#555" stroke-width="0.9"/>
<line x1="93.00" y1="554.60" x2="93.00" y2="557.40" stroke="#555" stroke-width="0.9"/>
<line x1="107.30" y1="554.60" x2="107.30" y2="557.40" stroke="#555" stroke-width="0.9"/>
<line x1="121.60" y1="554.60" x2="121.60" y2="557.40" stroke="#555" stroke-width="0.9"/>
<text x="78.70" y="567.60" font-size="8.6" text-anchor="middle" fill="#222">0</text>
<text x="93.00" y="567.60" font-size="8.6" text-anchor="middle" fill="#222">20</text>
<text x="107.30" y="567.60" font-size="8.6" text-anchor="middle" fill="#222">40</text>
<text x="121.60" y="567.60" font-size="8.6" text-anchor="middle" fill="#222">60</text>
<text x="101.30" y="578.40" font-size="9.6" text-anchor="middle" fill="#222" stroke="#222" stroke-width="0.2">−logP</text>
<text x="75.00" y="372.40" font-size="10.8" text-anchor="middle" fill="#f25a48" stroke="#f25a48" stroke-width="0.2">1</text>
<line x1="236.80" y1="376.50" x2="236.80" y2="554.60" stroke="#dcdcdc" stroke-width="0.8"/>
<line x1="249.05" y1="376.50" x2="249.05" y2="554.60" stroke="#dcdcdc" stroke-width="0.8"/>
<line x1="261.30" y1="376.50" x2="261.30" y2="554.60" stroke="#dcdcdc" stroke-width="0.8"/>
<line x1="273.55" y1="376.50" x2="273.55" y2="554.60" stroke="#dcdcdc" stroke-width="0.8"/>
<rect x="236.80" y="380.10" width="45.08" height="4.80" fill="#2f2f2f"/>
<rect x="230.20" y="380.10" width="4.70" height="4.80" fill="#1a5fae"/>
<text x="227.40" y="385.10" font-size="8.1" text-anchor="end" fill="#2a64b0">Atf3(bZIP)</text>
<rect x="236.80" y="388.89" width="44.10" height="4.80" fill="#2f2f2f"/>
<rect x="230.20" y="388.89" width="4.70" height="4.80" fill="#1a5fae"/>
<text x="227.40" y="393.89" font-size="8.1" text-anchor="end" fill="#2a64b0">BATF(bZIP)</text>
<rect x="236.80" y="397.68" width="42.75" height="4.80" fill="#2f2f2f"/>
<rect x="230.20" y="397.68" width="4.70" height="4.80" fill="#1a5fae"/>
<text x="227.40" y="402.68" font-size="8.1" text-anchor="end" fill="#2a64b0">Fra1(bZIP)</text>
<rect x="236.80" y="406.47" width="42.75" height="4.80" fill="#2f2f2f"/>
<rect x="230.20" y="406.47" width="4.70" height="4.80" fill="#1a5fae"/>
<text x="227.40" y="411.47" font-size="8.1" text-anchor="end" fill="#2a64b0">AP−1(bZIP)</text>
<rect x="236.80" y="415.26" width="40.79" height="4.80" fill="#2f2f2f"/>
<rect x="230.20" y="415.26" width="4.70" height="4.80" fill="#1a5fae"/>
<text x="227.40" y="420.26" font-size="8.1" text-anchor="end" fill="#2a64b0">Fra2(bZIP)</text>
<rect x="236.80" y="424.05" width="40.42" height="4.80" fill="#2f2f2f"/>
<rect x="230.20" y="424.05" width="4.70" height="4.80" fill="#1a5fae"/>
<text x="227.40" y="429.05" font-size="8.1" text-anchor="end" fill="#2a64b0">Fos(bZIP)</text>
<rect x="236.80" y="432.84" width="39.20" height="4.80" fill="#2f2f2f"/>
<rect x="230.20" y="432.84" width="4.70" height="4.80" fill="#1a5fae"/>
<text x="227.40" y="437.84" font-size="8.1" text-anchor="end" fill="#2a64b0">JunB(bZIP)</text>
<rect x="236.80" y="441.63" width="32.34" height="4.80" fill="#2f2f2f"/>
<rect x="230.20" y="441.63" width="4.70" height="4.80" fill="#1a5fae"/>
<text x="227.40" y="446.63" font-size="8.1" text-anchor="end" fill="#2a64b0">Fosl2(bZIP)</text>
<rect x="236.80" y="450.42" width="26.09" height="4.80" fill="#2f2f2f"/>
<rect x="230.20" y="450.42" width="4.70" height="4.80" fill="#1a5fae"/>
<text x="227.40" y="455.42" font-size="8.1" text-anchor="end" fill="#2a64b0">Jun−AP1(bZIP)</text>
<rect x="236.80" y="459.21" width="16.66" height="4.80" fill="#2f2f2f"/>
<rect x="230.20" y="459.21" width="4.70" height="4.80" fill="#1a5fae"/>
<text x="227.40" y="464.21" font-size="8.1" text-anchor="end" fill="#2a64b0">Bach2(bZIP)</text>
<rect x="236.80" y="468.00" width="8.08" height="4.80" fill="#2f2f2f"/>
<rect x="230.20" y="468.00" width="4.70" height="4.80" fill="#3b8fa6"/>
<text x="227.40" y="473.00" font-size="8.1" text-anchor="end" textLength="64.00" lengthAdjust="spacingAndGlyphs" fill="#4a96ad">HoxC9(Homeobox)</text>
<rect x="236.80" y="476.79" width="6.62" height="4.80" fill="#2f2f2f"/>
<rect x="230.20" y="476.79" width="4.70" height="4.80" fill="#1a5fae"/>
<text x="227.40" y="481.79" font-size="8.1" text-anchor="end" fill="#2a64b0">MafK(bZIP)</text>
<rect x="236.80" y="485.58" width="6.00" height="4.80" fill="#2f2f2f"/>
<rect x="230.20" y="485.58" width="4.70" height="4.80" fill="#3b8fa6"/>
<text x="227.40" y="490.58" font-size="8.1" text-anchor="end" textLength="64.00" lengthAdjust="spacingAndGlyphs" fill="#4a96ad">PBX2(Homeobox)</text>
<rect x="236.80" y="494.37" width="5.63" height="4.80" fill="#2f2f2f"/>
<rect x="230.20" y="494.37" width="4.70" height="4.80" fill="#3b8fa6"/>
<text x="227.40" y="499.37" font-size="8.1" text-anchor="end" textLength="64.00" lengthAdjust="spacingAndGlyphs" fill="#4a96ad">HoxA9(Homeobox)</text>
<rect x="236.80" y="503.16" width="5.39" height="4.80" fill="#2f2f2f"/>
<rect x="230.20" y="503.16" width="4.70" height="4.80" fill="#1a5fae"/>
<text x="227.40" y="508.16" font-size="8.1" text-anchor="end" fill="#2a64b0">MafA(bZIP)</text>
<rect x="236.80" y="511.95" width="5.39" height="4.80" fill="#2f2f2f"/>
<rect x="230.20" y="511.95" width="4.70" height="4.80" fill="#1a5fae"/>
<text x="227.40" y="516.95" font-size="8.1" text-anchor="end" fill="#2a64b0">Bach1(bZIP)</text>
<rect x="236.80" y="520.74" width="4.41" height="4.80" fill="#2f2f2f"/>
<rect x="230.20" y="520.74" width="4.70" height="4.80" fill="#1a5fae"/>
<text x="227.40" y="525.74" font-size="8.1" text-anchor="end" fill="#2a64b0">NF−E2(bZIP)</text>
<rect x="236.80" y="529.53" width="4.41" height="4.80" fill="#2f2f2f"/>
<rect x="230.20" y="529.53" width="4.70" height="4.80" fill="#3b8fa6"/>
<text x="227.40" y="534.53" font-size="8.1" text-anchor="end" textLength="64.00" lengthAdjust="spacingAndGlyphs" fill="#4a96ad">CDX4(Homeobox)</text>
<rect x="236.80" y="538.32" width="4.04" height="4.80" fill="#2f2f2f"/>
<rect x="230.20" y="538.32" width="4.70" height="4.80" fill="#3b8fa6"/>
<text x="227.40" y="543.32" font-size="8.1" text-anchor="end" fill="#4a96ad">Pdx1(Homeobox)</text>
<rect x="236.80" y="547.11" width="4.04" height="4.80" fill="#2f2f2f"/>
<rect x="230.20" y="547.11" width="4.70" height="4.80" fill="#1a5fae"/>
<text x="227.40" y="552.11" font-size="8.1" text-anchor="end" fill="#2a64b0">NRF2(bZIP)</text>
<line x1="236.80" y1="376.50" x2="236.80" y2="554.60" stroke="#ffffff" stroke-width="0.5" opacity="0.18"/>
<line x1="249.05" y1="376.50" x2="249.05" y2="554.60" stroke="#ffffff" stroke-width="0.5" opacity="0.18"/>
<line x1="261.30" y1="376.50" x2="261.30" y2="554.60" stroke="#ffffff" stroke-width="0.5" opacity="0.18"/>
<line x1="273.55" y1="376.50" x2="273.55" y2="554.60" stroke="#ffffff" stroke-width="0.5" opacity="0.18"/>
<line x1="234.60" y1="554.60" x2="284.00" y2="554.60" stroke="#555" stroke-width="1.0"/>
<line x1="236.80" y1="554.60" x2="236.80" y2="557.40" stroke="#555" stroke-width="0.9"/>
<line x1="249.05" y1="554.60" x2="249.05" y2="557.40" stroke="#555" stroke-width="0.9"/>
<line x1="261.30" y1="554.60" x2="261.30" y2="557.40" stroke="#555" stroke-width="0.9"/>
<line x1="273.55" y1="554.60" x2="273.55" y2="557.40" stroke="#555" stroke-width="0.9"/>
<text x="236.80" y="567.60" font-size="8.6" text-anchor="middle" fill="#222">0</text>
<text x="261.30" y="567.60" font-size="8.6" text-anchor="middle" fill="#222">200</text>
<text x="259.30" y="578.40" font-size="9.6" text-anchor="middle" fill="#222" stroke="#222" stroke-width="0.2">−logP</text>
<text x="233.00" y="372.90" font-size="11" text-anchor="middle" fill="#4a6fe6" stroke="#4a6fe6" stroke-width="0.2">2 &amp; 3</text>
<line x1="422.40" y1="376.50" x2="422.40" y2="554.60" stroke="#dcdcdc" stroke-width="0.8"/>
<line x1="431.45" y1="376.50" x2="431.45" y2="554.60" stroke="#dcdcdc" stroke-width="0.8"/>
<line x1="440.50" y1="376.50" x2="440.50" y2="554.60" stroke="#dcdcdc" stroke-width="0.8"/>
<line x1="449.55" y1="376.50" x2="449.55" y2="554.60" stroke="#dcdcdc" stroke-width="0.8"/>
<line x1="458.60" y1="376.50" x2="458.60" y2="554.60" stroke="#dcdcdc" stroke-width="0.8"/>
<line x1="467.65" y1="376.50" x2="467.65" y2="554.60" stroke="#dcdcdc" stroke-width="0.8"/>
<rect x="422.40" y="380.10" width="44.71" height="4.80" fill="#2f2f2f"/>
<rect x="416.00" y="380.10" width="4.70" height="4.80" fill="#9c9a12"/>
<text x="413.80" y="385.10" font-size="8.1" text-anchor="end" fill="#9a9820">GATA4(Zf)</text>
<rect x="422.40" y="388.89" width="43.80" height="4.80" fill="#2f2f2f"/>
<rect x="416.00" y="388.89" width="4.70" height="4.80" fill="#9c9a12"/>
<text x="413.80" y="393.89" font-size="8.1" text-anchor="end" fill="#9a9820">GATA2(Zf)</text>
<rect x="422.40" y="397.68" width="40.73" height="4.80" fill="#2f2f2f"/>
<rect x="416.00" y="397.68" width="4.70" height="4.80" fill="#9c9a12"/>
<text x="413.80" y="402.68" font-size="8.1" text-anchor="end" fill="#9a9820">GATA1(Zf)</text>
<rect x="422.40" y="406.47" width="40.36" height="4.80" fill="#2f2f2f"/>
<rect x="416.00" y="406.47" width="4.70" height="4.80" fill="#9c9a12"/>
<text x="413.80" y="411.47" font-size="8.1" text-anchor="end" fill="#9a9820">GATA6(Zf)</text>
<rect x="422.40" y="415.26" width="37.65" height="4.80" fill="#2f2f2f"/>
<rect x="416.00" y="415.26" width="4.70" height="4.80" fill="#9c9a12"/>
<text x="413.80" y="420.26" font-size="8.1" text-anchor="end" fill="#9a9820">GATA3(Zf)</text>
<rect x="422.40" y="424.05" width="33.67" height="4.80" fill="#2f2f2f"/>
<rect x="416.00" y="424.05" width="4.70" height="4.80" fill="#9c9a12"/>
<text x="413.80" y="429.05" font-size="8.1" text-anchor="end" fill="#9a9820">TRPS1(Zf)</text>
<rect x="422.40" y="432.84" width="20.63" height="4.80" fill="#2f2f2f"/>
<rect x="416.00" y="432.84" width="4.70" height="4.80" fill="#3b8fa6"/>
<text x="413.80" y="437.84" font-size="8.1" text-anchor="end" fill="#4a96ad">ETV1(ETS)</text>
<rect x="422.40" y="441.63" width="15.20" height="4.80" fill="#2f2f2f"/>
<rect x="416.00" y="441.63" width="4.70" height="4.80" fill="#3b8fa6"/>
<text x="413.80" y="446.63" font-size="8.1" text-anchor="end" fill="#4a96ad">ERG(ETS)</text>
<rect x="422.40" y="450.42" width="14.66" height="4.80" fill="#2f2f2f"/>
<rect x="416.00" y="450.42" width="4.70" height="4.80" fill="#9a9a9a"/>
<text x="413.80" y="455.42" font-size="8.1" text-anchor="end" fill="#a0a0a0">NFE2L2(bZIP)</text>
<rect x="422.40" y="459.21" width="14.66" height="4.80" fill="#2f2f2f"/>
<rect x="416.00" y="459.21" width="4.70" height="4.80" fill="#1a5fae"/>
<text x="413.80" y="464.21" font-size="8.1" text-anchor="end" fill="#2a64b0">SPDEF(ETS)</text>
<rect x="422.40" y="468.00" width="14.66" height="4.80" fill="#2f2f2f"/>
<rect x="416.00" y="468.00" width="4.70" height="4.80" fill="#9a9a9a"/>
<text x="413.80" y="473.00" font-size="8.1" text-anchor="end" fill="#a0a0a0">ELK1(ETS)</text>
<rect x="422.40" y="476.79" width="13.58" height="4.80" fill="#2f2f2f"/>
<rect x="416.00" y="476.79" width="4.70" height="4.80" fill="#1a5fae"/>
<text x="413.80" y="481.79" font-size="8.1" text-anchor="end" fill="#2a64b0">ZNF416(Zf)</text>
<rect x="422.40" y="485.58" width="13.58" height="4.80" fill="#2f2f2f"/>
<rect x="416.00" y="485.58" width="4.70" height="4.80" fill="#3b8fa6"/>
<text x="413.80" y="490.58" font-size="8.1" text-anchor="end" textLength="64.00" lengthAdjust="spacingAndGlyphs" fill="#4a96ad">EWS:FLI1−fusion(ETS)</text>
<rect x="422.40" y="494.37" width="13.21" height="4.80" fill="#2f2f2f"/>
<rect x="416.00" y="494.37" width="4.70" height="4.80" fill="#5bc6e0"/>
<text x="413.80" y="499.37" font-size="8.1" text-anchor="end" fill="#5fc3df">TEAD1(TEAD)</text>
<rect x="422.40" y="503.16" width="12.67" height="4.80" fill="#2f2f2f"/>
<rect x="416.00" y="503.16" width="4.70" height="4.80" fill="#3b8fa6"/>
<text x="413.80" y="508.16" font-size="8.1" text-anchor="end" fill="#4a96ad">FLI1(ETS)</text>
<rect x="422.40" y="511.95" width="12.67" height="4.80" fill="#2f2f2f"/>
<rect x="416.00" y="511.95" width="4.70" height="4.80" fill="#3b8fa6"/>
<text x="413.80" y="516.95" font-size="8.1" text-anchor="end" fill="#4a96ad">ELF4(ETS)</text>
<rect x="422.40" y="520.74" width="12.13" height="4.80" fill="#2f2f2f"/>
<rect x="416.00" y="520.74" width="4.70" height="4.80" fill="#3b8fa6"/>
<text x="413.80" y="525.74" font-size="8.1" text-anchor="end" textLength="64.00" lengthAdjust="spacingAndGlyphs" fill="#4a96ad">HoxC9(Homeobox)</text>
<rect x="422.40" y="529.53" width="11.77" height="4.80" fill="#2f2f2f"/>
<rect x="416.00" y="529.53" width="4.70" height="4.80" fill="#1a5fae"/>
<text x="413.80" y="534.53" font-size="8.1" text-anchor="end" fill="#2a64b0">GATA(Zf),IR3</text>
<rect x="422.40" y="538.32" width="11.77" height="4.80" fill="#2f2f2f"/>
<rect x="416.00" y="538.32" width="4.70" height="4.80" fill="#3b8fa6"/>
<text x="413.80" y="543.32" font-size="8.1" text-anchor="end" fill="#4a96ad">EHF(ETS)</text>
<rect x="422.40" y="547.11" width="11.77" height="4.80" fill="#2f2f2f"/>
<rect x="416.00" y="547.11" width="4.70" height="4.80" fill="#5bc6e0"/>
<text x="413.80" y="552.11" font-size="8.1" text-anchor="end" fill="#5fc3df">TEAD4(TEA)</text>
<line x1="422.40" y1="376.50" x2="422.40" y2="554.60" stroke="#ffffff" stroke-width="0.5" opacity="0.18"/>
<line x1="431.45" y1="376.50" x2="431.45" y2="554.60" stroke="#ffffff" stroke-width="0.5" opacity="0.18"/>
<line x1="440.50" y1="376.50" x2="440.50" y2="554.60" stroke="#ffffff" stroke-width="0.5" opacity="0.18"/>
<line x1="449.55" y1="376.50" x2="449.55" y2="554.60" stroke="#ffffff" stroke-width="0.5" opacity="0.18"/>
<line x1="458.60" y1="376.50" x2="458.60" y2="554.60" stroke="#ffffff" stroke-width="0.5" opacity="0.18"/>
<line x1="467.65" y1="376.50" x2="467.65" y2="554.60" stroke="#ffffff" stroke-width="0.5" opacity="0.18"/>
<line x1="420.60" y1="554.60" x2="469.60" y2="554.60" stroke="#555" stroke-width="1.0"/>
<line x1="422.40" y1="554.60" x2="422.40" y2="557.40" stroke="#555" stroke-width="0.9"/>
<line x1="431.45" y1="554.60" x2="431.45" y2="557.40" stroke="#555" stroke-width="0.9"/>
<line x1="440.50" y1="554.60" x2="440.50" y2="557.40" stroke="#555" stroke-width="0.9"/>
<line x1="449.55" y1="554.60" x2="449.55" y2="557.40" stroke="#555" stroke-width="0.9"/>
<line x1="458.60" y1="554.60" x2="458.60" y2="557.40" stroke="#555" stroke-width="0.9"/>
<line x1="467.65" y1="554.60" x2="467.65" y2="557.40" stroke="#555" stroke-width="0.9"/>
<text x="422.40" y="567.60" font-size="8.6" text-anchor="middle" fill="#222">0</text>
<text x="440.50" y="567.60" font-size="8.6" text-anchor="middle" fill="#222">10</text>
<text x="458.60" y="567.60" font-size="8.6" text-anchor="middle" fill="#222">20</text>
<text x="445.00" y="578.40" font-size="9.6" text-anchor="middle" fill="#222" stroke="#222" stroke-width="0.2">−logP</text>
<text x="418.00" y="372.40" font-size="10.8" text-anchor="middle" fill="#f25a48" stroke="#f25a48" stroke-width="0.2">4</text>
<line x1="578.40" y1="376.50" x2="578.40" y2="554.60" stroke="#dcdcdc" stroke-width="0.8"/>
<line x1="588.45" y1="376.50" x2="588.45" y2="554.60" stroke="#dcdcdc" stroke-width="0.8"/>
<line x1="598.50" y1="376.50" x2="598.50" y2="554.60" stroke="#dcdcdc" stroke-width="0.8"/>
<line x1="608.55" y1="376.50" x2="608.55" y2="554.60" stroke="#dcdcdc" stroke-width="0.8"/>
<line x1="618.60" y1="376.50" x2="618.60" y2="554.60" stroke="#dcdcdc" stroke-width="0.8"/>
<rect x="578.40" y="380.10" width="45.23" height="4.80" fill="#2f2f2f"/>
<rect x="572.00" y="380.10" width="4.70" height="4.80" fill="#a07b70"/>
<text x="569.80" y="385.10" font-size="8.1" text-anchor="end" fill="#a08076">EBF2(EBF)</text>
<rect x="578.40" y="388.89" width="40.20" height="4.80" fill="#2f2f2f"/>
<rect x="572.00" y="388.89" width="4.70" height="4.80" fill="#a07b70"/>
<text x="569.80" y="393.89" font-size="8.1" text-anchor="end" fill="#a08076">E2A(bHLH)</text>
<rect x="578.40" y="397.68" width="38.79" height="4.80" fill="#2f2f2f"/>
<rect x="572.00" y="397.68" width="4.70" height="4.80" fill="#a07b70"/>
<text x="569.80" y="402.68" font-size="8.1" text-anchor="end" fill="#a08076">HEB(bHLH)</text>
<rect x="578.40" y="406.47" width="37.79" height="4.80" fill="#2f2f2f"/>
<rect x="572.00" y="406.47" width="4.70" height="4.80" fill="#a07b70"/>
<text x="569.80" y="411.47" font-size="8.1" text-anchor="end" fill="#a08076">Ascl2(bHLH)</text>
<rect x="578.40" y="415.26" width="37.39" height="4.80" fill="#2f2f2f"/>
<rect x="572.00" y="415.26" width="4.70" height="4.80" fill="#a07b70"/>
<text x="569.80" y="420.26" font-size="8.1" text-anchor="end" fill="#a08076">Ptf1a(bHLH)</text>
<rect x="578.40" y="424.05" width="33.37" height="4.80" fill="#2f2f2f"/>
<rect x="572.00" y="424.05" width="4.70" height="4.80" fill="#a07b70"/>
<text x="569.80" y="429.05" font-size="8.1" text-anchor="end" fill="#a08076">Ascl1(bHLH)</text>
<rect x="578.40" y="432.84" width="32.56" height="4.80" fill="#2f2f2f"/>
<rect x="572.00" y="432.84" width="4.70" height="4.80" fill="#a07b70"/>
<text x="569.80" y="437.84" font-size="8.1" text-anchor="end" fill="#a08076">EBF(EBF)</text>
<rect x="578.40" y="441.63" width="29.35" height="4.80" fill="#2f2f2f"/>
<rect x="572.00" y="441.63" width="4.70" height="4.80" fill="#a07b70"/>
<text x="569.80" y="446.63" font-size="8.1" text-anchor="end" textLength="64.00" lengthAdjust="spacingAndGlyphs" fill="#a08076">E2A(bHLH),near_PU.1</text>
<rect x="578.40" y="450.42" width="27.14" height="4.80" fill="#2f2f2f"/>
<rect x="572.00" y="450.42" width="4.70" height="4.80" fill="#a07b70"/>
<text x="569.80" y="455.42" font-size="8.1" text-anchor="end" fill="#a08076">EBF1(EBF)</text>
<rect x="578.40" y="459.21" width="24.52" height="4.80" fill="#2f2f2f"/>
<rect x="572.00" y="459.21" width="4.70" height="4.80" fill="#a07b70"/>
<text x="569.80" y="464.21" font-size="8.1" text-anchor="end" fill="#a08076">ZEB1(Zf)</text>
<rect x="578.40" y="468.00" width="24.12" height="4.80" fill="#2f2f2f"/>
<rect x="572.00" y="468.00" width="4.70" height="4.80" fill="#a07b70"/>
<text x="569.80" y="473.00" font-size="8.1" text-anchor="end" fill="#a08076">Snail1(Zf)</text>
<rect x="578.40" y="476.79" width="21.71" height="4.80" fill="#2f2f2f"/>
<rect x="572.00" y="476.79" width="4.70" height="4.80" fill="#a07b70"/>
<text x="569.80" y="481.79" font-size="8.1" text-anchor="end" fill="#a08076">Slug(Zf)</text>
<rect x="578.40" y="485.58" width="20.50" height="4.80" fill="#2f2f2f"/>
<rect x="572.00" y="485.58" width="4.70" height="4.80" fill="#a07b70"/>
<text x="569.80" y="490.58" font-size="8.1" text-anchor="end" fill="#a08076">Twist2(bHLH)</text>
<rect x="578.40" y="494.37" width="18.69" height="4.80" fill="#2f2f2f"/>
<rect x="572.00" y="494.37" width="4.70" height="4.80" fill="#a07b70"/>
<text x="569.80" y="499.37" font-size="8.1" text-anchor="end" fill="#a08076">TCF12(bHLH)</text>
<rect x="578.40" y="503.16" width="17.09" height="4.80" fill="#2f2f2f"/>
<rect x="572.00" y="503.16" width="4.70" height="4.80" fill="#a07b70"/>
<text x="569.80" y="508.16" font-size="8.1" text-anchor="end" fill="#a08076">BHLHA15(bHLH)</text>
<rect x="578.40" y="511.95" width="16.68" height="4.80" fill="#2f2f2f"/>
<rect x="572.00" y="511.95" width="4.70" height="4.80" fill="#a07b70"/>
<text x="569.80" y="516.95" font-size="8.1" text-anchor="end" fill="#a08076">MyoG(bHLH)</text>
<rect x="578.40" y="520.74" width="16.68" height="4.80" fill="#2f2f2f"/>
<rect x="572.00" y="520.74" width="4.70" height="4.80" fill="#a07b70"/>
<text x="569.80" y="525.74" font-size="8.1" text-anchor="end" fill="#a08076">TCF21(bHLH)</text>
<rect x="578.40" y="529.53" width="15.08" height="4.80" fill="#2f2f2f"/>
<rect x="572.00" y="529.53" width="4.70" height="4.80" fill="#a07b70"/>
<text x="569.80" y="534.53" font-size="8.1" text-anchor="end" fill="#a08076">Ap4(bHLH)</text>
<rect x="578.40" y="538.32" width="14.67" height="4.80" fill="#2f2f2f"/>
<rect x="572.00" y="538.32" width="4.70" height="4.80" fill="#a07b70"/>
<text x="569.80" y="543.32" font-size="8.1" text-anchor="end" fill="#a08076">Myf5(bHLH)</text>
<rect x="578.40" y="547.11" width="13.67" height="4.80" fill="#2f2f2f"/>
<rect x="572.00" y="547.11" width="4.70" height="4.80" fill="#a07b70"/>
<text x="569.80" y="552.11" font-size="8.1" text-anchor="end" fill="#a08076">TCF4(bHLH)</text>
<line x1="578.40" y1="376.50" x2="578.40" y2="554.60" stroke="#ffffff" stroke-width="0.5" opacity="0.18"/>
<line x1="588.45" y1="376.50" x2="588.45" y2="554.60" stroke="#ffffff" stroke-width="0.5" opacity="0.18"/>
<line x1="598.50" y1="376.50" x2="598.50" y2="554.60" stroke="#ffffff" stroke-width="0.5" opacity="0.18"/>
<line x1="608.55" y1="376.50" x2="608.55" y2="554.60" stroke="#ffffff" stroke-width="0.5" opacity="0.18"/>
<line x1="618.60" y1="376.50" x2="618.60" y2="554.60" stroke="#ffffff" stroke-width="0.5" opacity="0.18"/>
<line x1="578.00" y1="554.60" x2="625.60" y2="554.60" stroke="#555" stroke-width="1.0"/>
<line x1="578.40" y1="554.60" x2="578.40" y2="557.40" stroke="#555" stroke-width="0.9"/>
<line x1="588.45" y1="554.60" x2="588.45" y2="557.40" stroke="#555" stroke-width="0.9"/>
<line x1="598.50" y1="554.60" x2="598.50" y2="557.40" stroke="#555" stroke-width="0.9"/>
<line x1="608.55" y1="554.60" x2="608.55" y2="557.40" stroke="#555" stroke-width="0.9"/>
<line x1="618.60" y1="554.60" x2="618.60" y2="557.40" stroke="#555" stroke-width="0.9"/>
<text x="578.40" y="567.60" font-size="8.6" text-anchor="middle" fill="#222">0</text>
<text x="598.50" y="567.60" font-size="8.6" text-anchor="middle" fill="#222">200</text>
<text x="618.60" y="567.60" font-size="8.6" text-anchor="middle" fill="#222">400</text>
<text x="601.30" y="578.40" font-size="9.6" text-anchor="middle" fill="#222" stroke="#222" stroke-width="0.2">−logP</text>
<text x="574.50" y="372.90" font-size="11" text-anchor="middle" fill="#4a6fe6" stroke="#4a6fe6" stroke-width="0.2">5 &amp; 6</text>
<rect x="636.70" y="493.30" width="6.20" height="6.20" fill="#1a5fae"/>
<text x="647.80" y="499.40" font-size="9.6" fill="#2a64b0" stroke="#2a64b0" stroke-width="0.2">HSC</text>
<rect x="636.70" y="502.23" width="6.20" height="6.20" fill="#5bc6e0"/>
<text x="647.80" y="508.33" font-size="9.6" fill="#5fc3df" stroke="#5fc3df" stroke-width="0.2">MPP</text>
<rect x="636.70" y="511.16" width="6.20" height="6.20" fill="#3b8fa6"/>
<text x="647.80" y="517.26" font-size="9.6" fill="#4a96ad" stroke="#4a96ad" stroke-width="0.2">MLP</text>
<rect x="636.70" y="520.09" width="6.20" height="6.20" fill="#454845"/>
<text x="647.80" y="526.19" font-size="9.6" fill="#3a3a3a" stroke="#3a3a3a" stroke-width="0.2">CMP</text>
<rect x="636.70" y="529.02" width="6.20" height="6.20" fill="#1a803c"/>
<text x="647.80" y="535.12" font-size="9.6" fill="#23874a" stroke="#23874a" stroke-width="0.2">GMP</text>
<rect x="636.70" y="537.95" width="6.20" height="6.20" fill="#9c9a12"/>
<text x="647.80" y="544.05" font-size="9.6" fill="#9a9820" stroke="#9a9820" stroke-width="0.2">MEP</text>
<rect x="636.70" y="546.88" width="6.20" height="6.20" fill="#a07b70"/>
<text x="647.80" y="552.98" font-size="9.6" fill="#a08076" stroke="#a08076" stroke-width="0.2">CLP</text>
<text x="-0.50" y="835.00" font-size="16.5" font-weight="bold" fill="#000" stroke="#000" stroke-width="0.2">e</text>
<line x1="177.40" y1="839.60" x2="177.40" y2="1018.00" stroke="#dcdcdc" stroke-width="0.8"/>
<line x1="186.70" y1="839.60" x2="186.70" y2="1018.00" stroke="#dcdcdc" stroke-width="0.8"/>
<line x1="196.00" y1="839.60" x2="196.00" y2="1018.00" stroke="#dcdcdc" stroke-width="0.8"/>
<line x1="205.30" y1="839.60" x2="205.30" y2="1018.00" stroke="#dcdcdc" stroke-width="0.8"/>
<line x1="214.60" y1="839.60" x2="214.60" y2="1018.00" stroke="#dcdcdc" stroke-width="0.8"/>
<rect x="177.40" y="843.20" width="44.64" height="4.80" fill="#2f2f2f"/>
<rect x="170.40" y="843.20" width="4.70" height="4.80" fill="#9a9a9a"/>
<text x="167.40" y="848.20" font-size="8.1" text-anchor="end" fill="#a0a0a0">NFY(CCAAT)</text>
<rect x="177.40" y="851.99" width="34.69" height="4.80" fill="#2f2f2f"/>
<rect x="170.40" y="851.99" width="4.70" height="4.80" fill="#9a9a9a"/>
<text x="167.40" y="856.99" font-size="8.1" text-anchor="end" fill="#a0a0a0">CTCF(Zf)</text>
<rect x="177.40" y="860.78" width="26.60" height="4.80" fill="#2f2f2f"/>
<rect x="170.40" y="860.78" width="4.70" height="4.80" fill="#1a803c"/>
<text x="167.40" y="865.78" font-size="8.1" text-anchor="end" fill="#23874a">CEBP(bZIP)</text>
<rect x="177.40" y="869.57" width="26.60" height="4.80" fill="#2f2f2f"/>
<rect x="170.40" y="869.57" width="4.70" height="4.80" fill="#1a5fae"/>
<text x="167.40" y="874.57" font-size="8.1" text-anchor="end" fill="#2a64b0">NFAT(RHD)</text>
<rect x="177.40" y="878.36" width="21.30" height="4.80" fill="#2f2f2f"/>
<rect x="170.40" y="878.36" width="4.70" height="4.80" fill="#9a9a9a"/>
<text x="167.40" y="883.36" font-size="8.1" text-anchor="end" fill="#a0a0a0">BORIS(Zf)</text>
<rect x="177.40" y="887.15" width="14.23" height="4.80" fill="#2f2f2f"/>
<rect x="170.40" y="887.15" width="4.70" height="4.80" fill="#454845"/>
<text x="167.40" y="892.15" font-size="8.1" text-anchor="end" fill="#3a3a3a">X−box(HTH)</text>
<rect x="177.40" y="895.94" width="13.21" height="4.80" fill="#2f2f2f"/>
<rect x="170.40" y="895.94" width="4.70" height="4.80" fill="#9c9a12"/>
<text x="167.40" y="900.94" font-size="8.1" text-anchor="end" fill="#9a9820">KLF6(Zf)</text>
<rect x="177.40" y="904.73" width="13.21" height="4.80" fill="#2f2f2f"/>
<rect x="170.40" y="904.73" width="4.70" height="4.80" fill="#9c9a12"/>
<text x="167.40" y="909.73" font-size="8.1" text-anchor="end" fill="#9a9820">KLF1(Zf)</text>
<rect x="177.40" y="913.52" width="12.65" height="4.80" fill="#2f2f2f"/>
<rect x="170.40" y="913.52" width="4.70" height="4.80" fill="#9a9a9a"/>
<text x="167.40" y="918.52" font-size="8.1" text-anchor="end" fill="#a0a0a0">E2F7(E2F)</text>
<rect x="177.40" y="922.31" width="12.65" height="4.80" fill="#2f2f2f"/>
<rect x="170.40" y="922.31" width="4.70" height="4.80" fill="#9c9a12"/>
<text x="167.40" y="927.31" font-size="8.1" text-anchor="end" fill="#9a9820">ELF1(ETS)</text>
<rect x="177.40" y="931.10" width="12.18" height="4.80" fill="#2f2f2f"/>
<rect x="170.40" y="931.10" width="4.70" height="4.80" fill="#9a9a9a"/>
<text x="167.40" y="936.10" font-size="8.1" text-anchor="end" fill="#a0a0a0">Sp2(Zf)</text>
<rect x="177.40" y="939.89" width="11.62" height="4.80" fill="#2f2f2f"/>
<rect x="170.40" y="939.89" width="4.70" height="4.80" fill="#9a9a9a"/>
<text x="167.40" y="944.89" font-size="8.1" text-anchor="end" fill="#a0a0a0">En1(Homeobox)</text>
<rect x="177.40" y="948.68" width="11.25" height="4.80" fill="#2f2f2f"/>
<rect x="170.40" y="948.68" width="4.70" height="4.80" fill="#9a9a9a"/>
<text x="167.40" y="953.68" font-size="8.1" text-anchor="end" fill="#a0a0a0">ELK4(ETS)</text>
<rect x="177.40" y="957.47" width="11.25" height="4.80" fill="#2f2f2f"/>
<rect x="170.40" y="957.47" width="4.70" height="4.80" fill="#9a9a9a"/>
<text x="167.40" y="962.47" font-size="8.1" text-anchor="end" fill="#a0a0a0">ELK1(ETS)</text>
<rect x="177.40" y="966.26" width="11.25" height="4.80" fill="#2f2f2f"/>
<rect x="170.40" y="966.26" width="4.70" height="4.80" fill="#9c9a12"/>
<text x="167.40" y="971.26" font-size="8.1" text-anchor="end" fill="#9a9820">Sp5(Zf)</text>
<rect x="177.40" y="975.05" width="10.70" height="4.80" fill="#2f2f2f"/>
<rect x="170.40" y="975.05" width="4.70" height="4.80" fill="#9a9a9a"/>
<text x="167.40" y="980.05" font-size="8.1" text-anchor="end" fill="#a0a0a0">RFX1(HTH)</text>
<rect x="177.40" y="983.84" width="10.70" height="4.80" fill="#2f2f2f"/>
<rect x="170.40" y="983.84" width="4.70" height="4.80" fill="#9a9a9a"/>
<text x="167.40" y="988.84" font-size="8.1" text-anchor="end" fill="#a0a0a0">GFY−Staf(?,Zf)</text>
<rect x="177.40" y="992.63" width="10.70" height="4.80" fill="#2f2f2f"/>
<rect x="170.40" y="992.63" width="4.70" height="4.80" fill="#9c9a12"/>
<text x="167.40" y="997.63" font-size="8.1" text-anchor="end" fill="#9a9820">TEAD2(TEA)</text>
<rect x="177.40" y="1001.42" width="10.70" height="4.80" fill="#2f2f2f"/>
<rect x="170.40" y="1001.42" width="4.70" height="4.80" fill="#9c9a12"/>
<text x="167.40" y="1006.42" font-size="8.1" text-anchor="end" fill="#9a9820">Sp1(Zf)</text>
<rect x="177.40" y="1010.21" width="9.67" height="4.80" fill="#2f2f2f"/>
<rect x="170.40" y="1010.21" width="4.70" height="4.80" fill="#3b8fa6"/>
<text x="167.40" y="1015.21" font-size="8.1" text-anchor="end" fill="#4a96ad">RFX(HTH)</text>
<line x1="177.40" y1="839.60" x2="177.40" y2="1018.00" stroke="#ffffff" stroke-width="0.5" opacity="0.18"/>
<line x1="186.70" y1="839.60" x2="186.70" y2="1018.00" stroke="#ffffff" stroke-width="0.5" opacity="0.18"/>
<line x1="196.00" y1="839.60" x2="196.00" y2="1018.00" stroke="#ffffff" stroke-width="0.5" opacity="0.18"/>
<line x1="205.30" y1="839.60" x2="205.30" y2="1018.00" stroke="#ffffff" stroke-width="0.5" opacity="0.18"/>
<line x1="214.60" y1="839.60" x2="214.60" y2="1018.00" stroke="#ffffff" stroke-width="0.5" opacity="0.18"/>
<line x1="175.00" y1="1018.00" x2="225.00" y2="1018.00" stroke="#555" stroke-width="1.0"/>
<line x1="177.40" y1="1018.00" x2="177.40" y2="1020.80" stroke="#555" stroke-width="0.9"/>
<line x1="186.70" y1="1018.00" x2="186.70" y2="1020.80" stroke="#555" stroke-width="0.9"/>
<line x1="196.00" y1="1018.00" x2="196.00" y2="1020.80" stroke="#555" stroke-width="0.9"/>
<line x1="205.30" y1="1018.00" x2="205.30" y2="1020.80" stroke="#555" stroke-width="0.9"/>
<line x1="214.60" y1="1018.00" x2="214.60" y2="1020.80" stroke="#555" stroke-width="0.9"/>
<text x="177.40" y="1031.00" font-size="8.6" text-anchor="middle" fill="#222">0</text>
<text x="196.00" y="1031.00" font-size="8.6" text-anchor="middle" fill="#222">20</text>
<text x="214.60" y="1031.00" font-size="8.6" text-anchor="middle" fill="#222">40</text>
<text x="199.90" y="1042.60" font-size="9.6" text-anchor="middle" fill="#222" stroke="#222" stroke-width="0.2">−logP</text>
<text x="173.20" y="835.60" font-size="11" text-anchor="middle" fill="#111" stroke="#111" stroke-width="0.2">7 &amp; 8 &amp; 9</text>
<line x1="411.60" y1="839.60" x2="411.60" y2="1018.00" stroke="#dcdcdc" stroke-width="0.8"/>
<line x1="428.10" y1="839.60" x2="428.10" y2="1018.00" stroke="#dcdcdc" stroke-width="0.8"/>
<line x1="444.60" y1="839.60" x2="444.60" y2="1018.00" stroke="#dcdcdc" stroke-width="0.8"/>
<rect x="411.60" y="843.20" width="45.54" height="4.80" fill="#2f2f2f"/>
<rect x="405.20" y="843.20" width="4.70" height="4.80" fill="#9a9a9a"/>
<text x="401.40" y="848.20" font-size="8.1" text-anchor="end" fill="#a0a0a0">Egr1(Zf)</text>
<rect x="411.60" y="851.99" width="36.96" height="4.80" fill="#2f2f2f"/>
<rect x="405.20" y="851.99" width="4.70" height="4.80" fill="#9c9a12"/>
<text x="401.40" y="856.99" font-size="8.1" text-anchor="end" fill="#9a9820">ELF1(ETS)</text>
<rect x="411.60" y="860.78" width="35.97" height="4.80" fill="#2f2f2f"/>
<rect x="405.20" y="860.78" width="4.70" height="4.80" fill="#a07b70"/>
<text x="401.40" y="865.78" font-size="8.1" text-anchor="end" textLength="64.00" lengthAdjust="spacingAndGlyphs" fill="#a08076">PU.1:IRF8(ETS:IRF)</text>
<rect x="411.60" y="869.57" width="33.66" height="4.80" fill="#2f2f2f"/>
<rect x="405.20" y="869.57" width="4.70" height="4.80" fill="#1a803c"/>
<text x="401.40" y="874.57" font-size="8.1" text-anchor="end" textLength="64.00" lengthAdjust="spacingAndGlyphs" fill="#23874a">PU.1−IRF(ETS:IRF)</text>
<rect x="411.60" y="878.36" width="32.34" height="4.80" fill="#2f2f2f"/>
<rect x="405.20" y="878.36" width="4.70" height="4.80" fill="#9c9a12"/>
<text x="401.40" y="883.36" font-size="8.1" text-anchor="end" textLength="64.00" lengthAdjust="spacingAndGlyphs" fill="#9a9820">OCT4−SOX2−TCF−NANOG</text>
<rect x="411.60" y="887.15" width="30.36" height="4.80" fill="#2f2f2f"/>
<rect x="405.20" y="887.15" width="4.70" height="4.80" fill="#9a9a9a"/>
<text x="401.40" y="892.15" font-size="8.1" text-anchor="end" textLength="64.00" lengthAdjust="spacingAndGlyphs" fill="#a0a0a0">RAR:RXR(NR),DR0</text>
<rect x="411.60" y="895.94" width="28.38" height="4.80" fill="#2f2f2f"/>
<rect x="405.20" y="895.94" width="4.70" height="4.80" fill="#1a803c"/>
<text x="401.40" y="900.94" font-size="8.1" text-anchor="end" fill="#23874a">SpiB(ETS)</text>
<rect x="411.60" y="904.73" width="27.39" height="4.80" fill="#2f2f2f"/>
<rect x="405.20" y="904.73" width="4.70" height="4.80" fill="#9a9a9a"/>
<text x="401.40" y="909.73" font-size="8.1" text-anchor="end" textLength="64.00" lengthAdjust="spacingAndGlyphs" fill="#a0a0a0">RAR:RXR(NR),DR5</text>
<rect x="411.60" y="913.52" width="25.74" height="4.80" fill="#2f2f2f"/>
<rect x="405.20" y="913.52" width="4.70" height="4.80" fill="#9a9a9a"/>
<text x="401.40" y="918.52" font-size="8.1" text-anchor="end" fill="#a0a0a0">Ronin(THAP)</text>
<rect x="411.60" y="922.31" width="23.43" height="4.80" fill="#2f2f2f"/>
<rect x="405.20" y="922.31" width="4.70" height="4.80" fill="#9c9a12"/>
<text x="401.40" y="927.31" font-size="8.1" text-anchor="end" fill="#9a9820">Sp5(Zf)</text>
<rect x="411.60" y="931.10" width="23.10" height="4.80" fill="#2f2f2f"/>
<rect x="405.20" y="931.10" width="4.70" height="4.80" fill="#1a5fae"/>
<text x="401.40" y="936.10" font-size="8.1" text-anchor="end" fill="#2a64b0">Bach2(bZIP)</text>
<rect x="411.60" y="939.89" width="22.11" height="4.80" fill="#2f2f2f"/>
<rect x="405.20" y="939.89" width="4.70" height="4.80" fill="#9c9a12"/>
<text x="401.40" y="944.89" font-size="8.1" text-anchor="end" fill="#9a9820">TEAD3(TEA)</text>
<rect x="411.60" y="948.68" width="21.12" height="4.80" fill="#2f2f2f"/>
<rect x="405.20" y="948.68" width="4.70" height="4.80" fill="#3b8fa6"/>
<text x="401.40" y="953.68" font-size="8.1" text-anchor="end" fill="#4a96ad">ELF4(ETS)</text>
<rect x="411.60" y="957.47" width="20.13" height="4.80" fill="#2f2f2f"/>
<rect x="405.20" y="957.47" width="4.70" height="4.80" fill="#a07b70"/>
<text x="401.40" y="962.47" font-size="8.1" text-anchor="end" fill="#a08076">Mef2a(MADS)</text>
<rect x="411.60" y="966.26" width="19.47" height="4.80" fill="#2f2f2f"/>
<rect x="405.20" y="966.26" width="4.70" height="4.80" fill="#1a5fae"/>
<text x="401.40" y="971.26" font-size="8.1" text-anchor="end" textLength="64.00" lengthAdjust="spacingAndGlyphs" fill="#2a64b0">GRE(NR),IR3_A549</text>
<rect x="411.60" y="975.05" width="19.47" height="4.80" fill="#2f2f2f"/>
<rect x="405.20" y="975.05" width="4.70" height="4.80" fill="#1a5fae"/>
<text x="401.40" y="980.05" font-size="8.1" text-anchor="end" fill="#2a64b0">Fosl2(bZIP)</text>
<rect x="411.60" y="983.84" width="19.14" height="4.80" fill="#2f2f2f"/>
<rect x="405.20" y="983.84" width="4.70" height="4.80" fill="#454845"/>
<text x="401.40" y="988.84" font-size="8.1" text-anchor="end" textLength="64.00" lengthAdjust="spacingAndGlyphs" fill="#3a3a3a">NFkB−p50,p52(RHD)</text>
<rect x="411.60" y="992.63" width="18.15" height="4.80" fill="#2f2f2f"/>
<rect x="405.20" y="992.63" width="4.70" height="4.80" fill="#1a803c"/>
<text x="401.40" y="997.63" font-size="8.1" text-anchor="end" fill="#23874a">Maz(Zf)</text>
<rect x="411.60" y="1001.42" width="17.49" height="4.80" fill="#2f2f2f"/>
<rect x="405.20" y="1001.42" width="4.70" height="4.80" fill="#a07b70"/>
<text x="401.40" y="1006.42" font-size="8.1" text-anchor="end" textLength="64.00" lengthAdjust="spacingAndGlyphs" fill="#a08076">GRE(NR),IR3_RAW264.7</text>
<rect x="411.60" y="1010.21" width="16.50" height="4.80" fill="#2f2f2f"/>
<rect x="405.20" y="1010.21" width="4.70" height="4.80" fill="#3b8fa6"/>
<text x="401.40" y="1015.21" font-size="8.1" text-anchor="end" textLength="64.00" lengthAdjust="spacingAndGlyphs" fill="#4a96ad">STAT6(Stat)_Macrophage</text>
<line x1="411.60" y1="839.60" x2="411.60" y2="1018.00" stroke="#ffffff" stroke-width="0.5" opacity="0.18"/>
<line x1="428.10" y1="839.60" x2="428.10" y2="1018.00" stroke="#ffffff" stroke-width="0.5" opacity="0.18"/>
<line x1="444.60" y1="839.60" x2="444.60" y2="1018.00" stroke="#ffffff" stroke-width="0.5" opacity="0.18"/>
<line x1="410.00" y1="1018.00" x2="459.00" y2="1018.00" stroke="#555" stroke-width="1.0"/>
<line x1="411.60" y1="1018.00" x2="411.60" y2="1020.80" stroke="#555" stroke-width="0.9"/>
<line x1="428.10" y1="1018.00" x2="428.10" y2="1020.80" stroke="#555" stroke-width="0.9"/>
<line x1="444.60" y1="1018.00" x2="444.60" y2="1020.80" stroke="#555" stroke-width="0.9"/>
<text x="411.60" y="1031.00" font-size="8.6" text-anchor="middle" fill="#222">0</text>
<text x="428.10" y="1031.00" font-size="8.6" text-anchor="middle" fill="#222">5</text>
<text x="444.60" y="1031.00" font-size="8.6" text-anchor="middle" fill="#222">10</text>
<text x="434.20" y="1042.60" font-size="9.6" text-anchor="middle" fill="#222" stroke="#222" stroke-width="0.2">−logP</text>
<text x="408.00" y="835.60" font-size="10.8" text-anchor="middle" fill="#111" stroke="#111" stroke-width="0.2">10</text>
<rect x="476.60" y="956.50" width="6.20" height="6.20" fill="#1a5fae"/>
<text x="487.60" y="962.60" font-size="9.6" fill="#2a64b0" stroke="#2a64b0" stroke-width="0.2">HSC</text>
<rect x="476.60" y="965.46" width="6.20" height="6.20" fill="#5bc6e0"/>
<text x="487.60" y="971.56" font-size="9.6" fill="#5fc3df" stroke="#5fc3df" stroke-width="0.2">MPP</text>
<rect x="476.60" y="974.42" width="6.20" height="6.20" fill="#3b8fa6"/>
<text x="487.60" y="980.52" font-size="9.6" fill="#4a96ad" stroke="#4a96ad" stroke-width="0.2">MLP</text>
<rect x="476.60" y="983.38" width="6.20" height="6.20" fill="#454845"/>
<text x="487.60" y="989.48" font-size="9.6" fill="#3a3a3a" stroke="#3a3a3a" stroke-width="0.2">CMP</text>
<rect x="476.60" y="992.34" width="6.20" height="6.20" fill="#1a803c"/>
<text x="487.60" y="998.44" font-size="9.6" fill="#23874a" stroke="#23874a" stroke-width="0.2">GMP</text>
<rect x="476.60" y="1001.30" width="6.20" height="6.20" fill="#9c9a12"/>
<text x="487.60" y="1007.40" font-size="9.6" fill="#9a9820" stroke="#9a9820" stroke-width="0.2">MEP</text>
<rect x="476.60" y="1010.26" width="6.20" height="6.20" fill="#a07b70"/>
<text x="487.60" y="1016.36" font-size="9.6" fill="#a08076" stroke="#a08076" stroke-width="0.2">CLP</text></svg></body></html>
